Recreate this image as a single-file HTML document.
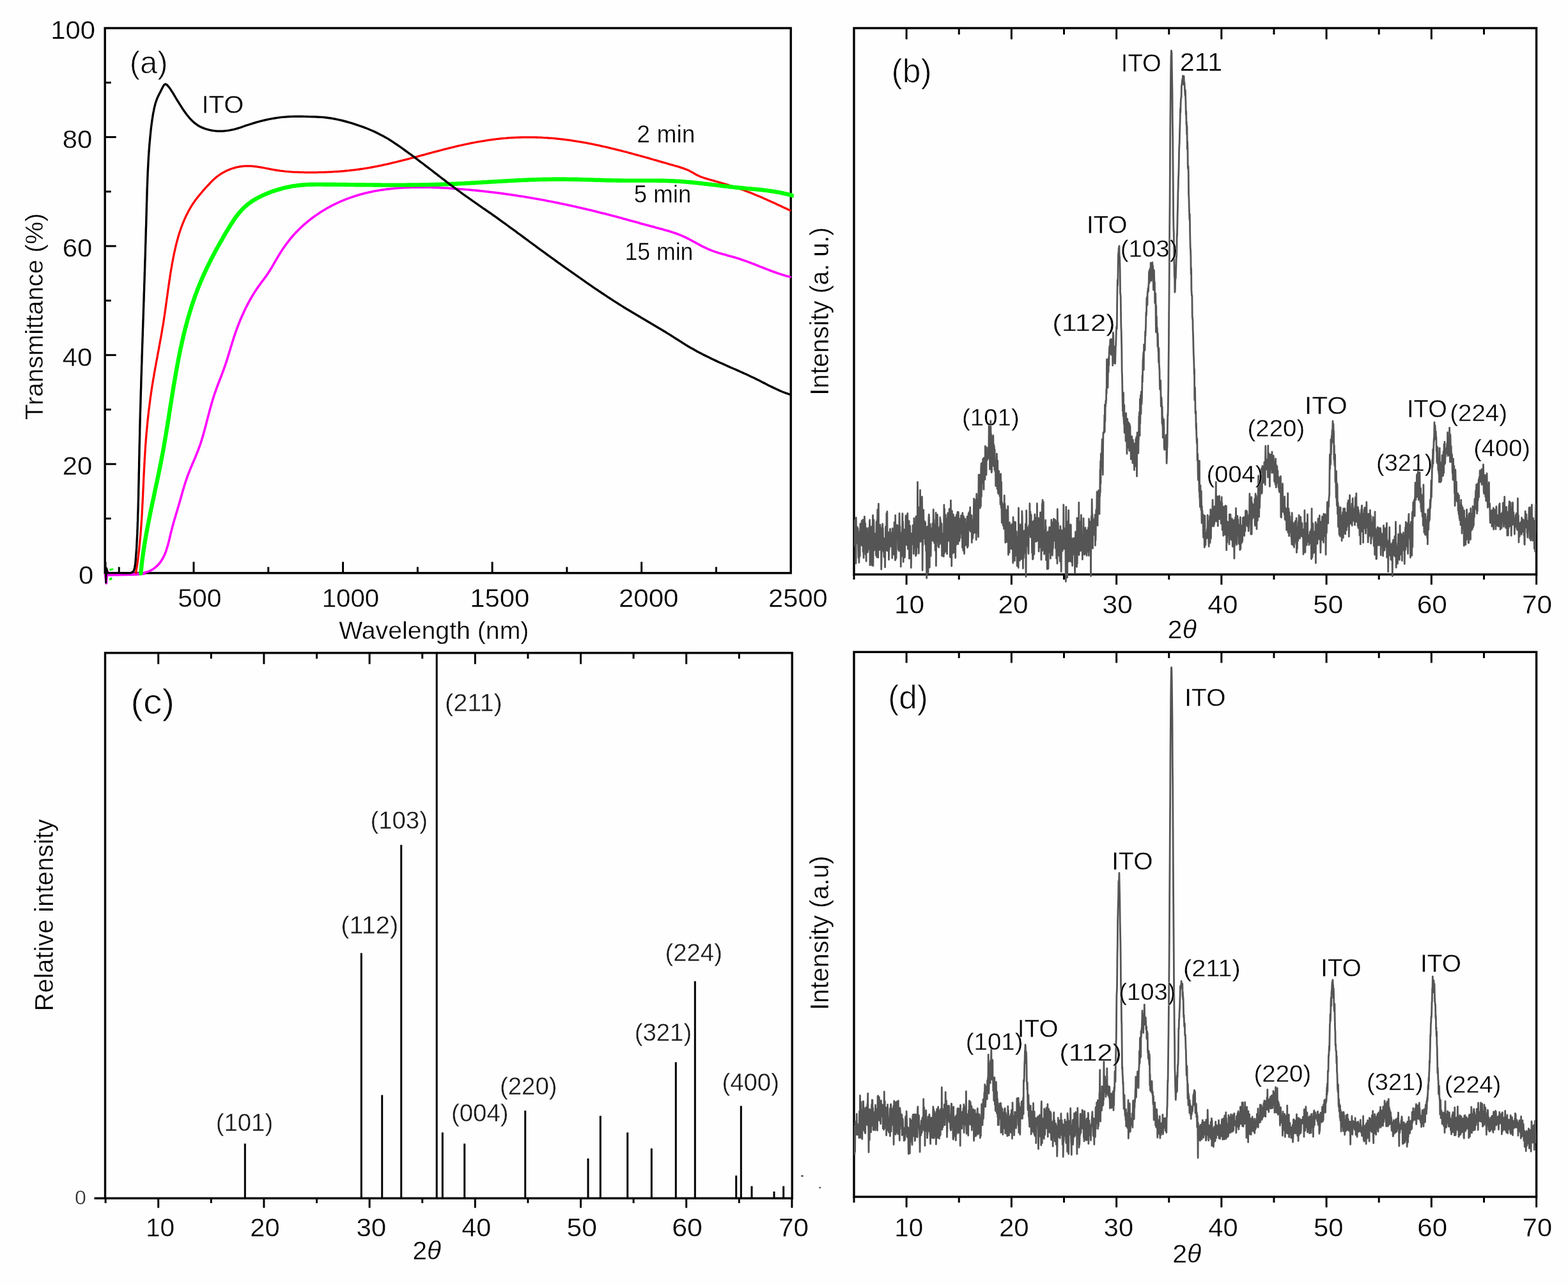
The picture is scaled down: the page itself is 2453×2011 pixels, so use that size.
<!DOCTYPE html>
<html lang="en"><head><meta charset="utf-8"><title>Figure</title>
<style>
html,body{margin:0;padding:0;background:#fefefe;}
body{width:2453px;height:2011px;}
svg{display:block;}
text{white-space:pre;}
</style></head>
<body>
<svg width="2453" height="2011" viewBox="0 0 2453 2011" role="img" aria-label="Four-panel figure: transmittance spectra and XRD patterns">
<rect x="0" y="0" width="2453" height="2011" fill="#fefefe"/>
<defs>
<clipPath id="clipA"><rect x="162.2" y="44.0" width="1079.5" height="870.8"/></clipPath>
<clipPath id="clipB"><rect x="1336.0" y="44.0" width="1067.6" height="895.0"/></clipPath>
<clipPath id="clipD"><rect x="1336.0" y="1020.4" width="1067.6" height="852.6"/></clipPath>
</defs>
<rect x="164.20" y="44.00" width="1073.00" height="852.80" fill="none" stroke="#000" stroke-width="3.4"/>
<line x1="164.20" y1="811.52" x2="173.70" y2="811.52" stroke="#000" stroke-width="3.0" stroke-linecap="butt"/>
<line x1="164.20" y1="726.24" x2="181.70" y2="726.24" stroke="#000" stroke-width="3.0" stroke-linecap="butt"/>
<line x1="164.20" y1="640.96" x2="173.70" y2="640.96" stroke="#000" stroke-width="3.0" stroke-linecap="butt"/>
<line x1="164.20" y1="555.68" x2="181.70" y2="555.68" stroke="#000" stroke-width="3.0" stroke-linecap="butt"/>
<line x1="164.20" y1="470.40" x2="173.70" y2="470.40" stroke="#000" stroke-width="3.0" stroke-linecap="butt"/>
<line x1="164.20" y1="385.12" x2="181.70" y2="385.12" stroke="#000" stroke-width="3.0" stroke-linecap="butt"/>
<line x1="164.20" y1="299.84" x2="173.70" y2="299.84" stroke="#000" stroke-width="3.0" stroke-linecap="butt"/>
<line x1="164.20" y1="214.56" x2="181.70" y2="214.56" stroke="#000" stroke-width="3.0" stroke-linecap="butt"/>
<line x1="164.20" y1="129.28" x2="173.70" y2="129.28" stroke="#000" stroke-width="3.0" stroke-linecap="butt"/>
<line x1="186.22" y1="896.80" x2="186.22" y2="887.30" stroke="#000" stroke-width="3.0" stroke-linecap="butt"/>
<line x1="303.00" y1="896.80" x2="303.00" y2="879.30" stroke="#000" stroke-width="3.0" stroke-linecap="butt"/>
<line x1="419.77" y1="896.80" x2="419.77" y2="887.30" stroke="#000" stroke-width="3.0" stroke-linecap="butt"/>
<line x1="536.55" y1="896.80" x2="536.55" y2="879.30" stroke="#000" stroke-width="3.0" stroke-linecap="butt"/>
<line x1="653.33" y1="896.80" x2="653.33" y2="887.30" stroke="#000" stroke-width="3.0" stroke-linecap="butt"/>
<line x1="770.10" y1="896.80" x2="770.10" y2="879.30" stroke="#000" stroke-width="3.0" stroke-linecap="butt"/>
<line x1="886.88" y1="896.80" x2="886.88" y2="887.30" stroke="#000" stroke-width="3.0" stroke-linecap="butt"/>
<line x1="1003.65" y1="896.80" x2="1003.65" y2="879.30" stroke="#000" stroke-width="3.0" stroke-linecap="butt"/>
<line x1="1120.43" y1="896.80" x2="1120.43" y2="887.30" stroke="#000" stroke-width="3.0" stroke-linecap="butt"/>
<g clip-path="url(#clipA)">
<path d="M164.8 897.8 L167.6 897.4 L170.4 897.1 L173.3 896.9 L176.1 896.8 L179.1 896.8 L182.0 896.8 L184.9 897.0 L187.9 897.1 L190.9 897.3 L193.9 897.5 L196.9 897.7 L199.9 897.8 L202.9 898.0 L205.9 898.0 L208.9 898.1 L211.9 898.0 L214.9 897.9 L217.8 897.6 L220.8 897.2 L223.7 896.8 L226.5 896.1 L229.3 895.3 L232.0 894.4 L234.7 893.3 L237.2 892.0 L239.6 890.6 L241.9 888.9 L244.1 887.1 L246.2 885.2 L248.2 883.1 L250.0 880.9 L251.7 878.6 L253.2 876.2 L254.7 873.7 L256.0 871.2 L257.3 868.5 L258.4 865.8 L259.5 863.1 L260.4 860.2 L261.3 857.4 L262.2 854.5 L263.0 851.6 L263.8 848.7 L264.5 845.7 L265.2 842.8 L265.9 839.8 L266.6 836.9 L267.3 833.9 L268.1 831.0 L268.8 828.2 L269.5 825.3 L270.3 822.5 L271.1 819.6 L271.9 816.8 L272.7 814.0 L273.5 811.2 L274.3 808.5 L275.1 805.7 L276.0 802.9 L276.8 800.1 L277.6 797.4 L278.4 794.6 L279.3 791.8 L280.1 789.0 L280.9 786.2 L281.7 783.4 L282.5 780.5 L283.3 777.7 L284.1 774.9 L284.9 772.0 L285.7 769.2 L286.5 766.3 L287.4 763.5 L288.2 760.7 L289.1 757.8 L290.0 755.0 L291.0 752.2 L291.9 749.4 L292.9 746.6 L293.9 743.9 L294.9 741.1 L296.0 738.3 L297.1 735.6 L298.2 732.9 L299.3 730.2 L300.5 727.5 L301.6 724.8 L302.8 722.1 L303.9 719.4 L305.1 716.7 L306.2 714.0 L307.3 711.2 L308.4 708.5 L309.5 705.8 L310.5 703.1 L311.5 700.3 L312.5 697.5 L313.5 694.8 L314.4 692.0 L315.3 689.2 L316.1 686.4 L317.0 683.6 L317.8 680.7 L318.6 677.9 L319.4 675.1 L320.2 672.2 L320.9 669.4 L321.7 666.5 L322.5 663.7 L323.2 660.8 L323.9 658.0 L324.7 655.1 L325.4 652.3 L326.2 649.4 L326.9 646.6 L327.7 643.7 L328.4 640.9 L329.2 638.0 L330.0 635.2 L330.8 632.4 L331.6 629.5 L332.4 626.7 L333.3 623.9 L334.2 621.1 L335.1 618.3 L336.0 615.5 L337.0 612.8 L338.0 610.0 L339.0 607.2 L340.0 604.5 L341.0 601.7 L342.1 599.0 L343.1 596.3 L344.2 593.5 L345.2 590.8 L346.3 588.0 L347.3 585.3 L348.3 582.5 L349.4 579.8 L350.4 577.0 L351.3 574.3 L352.3 571.5 L353.3 568.7 L354.2 565.9 L355.1 563.1 L356.0 560.3 L356.8 557.5 L357.7 554.6 L358.6 551.8 L359.4 549.0 L360.3 546.2 L361.1 543.3 L362.0 540.5 L362.8 537.7 L363.7 534.9 L364.6 532.0 L365.5 529.2 L366.4 526.4 L367.4 523.6 L368.3 520.9 L369.3 518.1 L370.3 515.3 L371.3 512.5 L372.4 509.8 L373.4 507.1 L374.5 504.3 L375.6 501.6 L376.7 498.9 L377.9 496.2 L379.1 493.5 L380.3 490.9 L381.5 488.2 L382.8 485.5 L384.0 482.9 L385.3 480.3 L386.7 477.7 L388.0 475.1 L389.4 472.5 L390.8 470.0 L392.2 467.4 L393.7 464.9 L395.2 462.4 L396.7 459.9 L398.3 457.4 L399.8 455.0 L401.4 452.5 L403.1 450.1 L404.8 447.7 L406.5 445.4 L408.2 443.0 L409.9 440.6 L411.7 438.3 L413.5 435.9 L415.2 433.6 L416.9 431.2 L418.6 428.8 L420.3 426.3 L421.9 423.8 L423.4 421.3 L425.0 418.8 L426.5 416.2 L427.9 413.6 L429.4 411.1 L430.9 408.5 L432.4 405.9 L433.9 403.4 L435.4 400.8 L436.9 398.3 L438.5 395.8 L440.0 393.4 L441.6 390.9 L443.3 388.5 L444.9 386.1 L446.6 383.7 L448.3 381.4 L450.1 379.1 L451.8 376.8 L453.7 374.5 L455.5 372.2 L457.4 370.0 L459.3 367.8 L461.3 365.6 L463.3 363.5 L465.3 361.4 L467.4 359.3 L469.5 357.2 L471.7 355.2 L473.9 353.2 L476.1 351.2 L478.3 349.3 L480.6 347.4 L482.9 345.5 L485.2 343.6 L487.6 341.8 L490.0 340.0 L492.4 338.3 L494.8 336.6 L497.3 334.9 L499.8 333.2 L502.3 331.6 L504.8 330.0 L507.4 328.5 L509.9 326.9 L512.5 325.5 L515.1 324.0 L517.7 322.6 L520.3 321.2 L523.0 319.9 L525.7 318.6 L528.3 317.4 L531.0 316.1 L533.7 314.9 L536.4 313.8 L539.1 312.7 L541.8 311.6 L544.6 310.6 L547.3 309.6 L550.1 308.6 L552.8 307.7 L555.6 306.8 L558.4 305.9 L561.2 305.1 L564.0 304.3 L566.8 303.5 L569.6 302.8 L572.4 302.1 L575.2 301.4 L578.1 300.8 L580.9 300.2 L583.8 299.6 L586.6 299.0 L589.5 298.5 L592.4 298.0 L595.2 297.5 L598.1 297.1 L601.0 296.7 L603.9 296.3 L606.8 295.9 L609.7 295.6 L612.6 295.3 L615.5 295.0 L618.4 294.7 L621.4 294.4 L624.3 294.2 L627.2 294.0 L630.2 293.8 L633.1 293.7 L636.0 293.5 L639.0 293.4 L641.9 293.3 L644.9 293.2 L647.8 293.1 L650.8 293.1 L653.7 293.1 L656.7 293.1 L659.7 293.1 L662.6 293.1 L665.6 293.1 L668.5 293.2 L671.5 293.2 L674.5 293.3 L677.4 293.4 L680.4 293.5 L683.4 293.6 L686.3 293.7 L689.3 293.9 L692.3 294.0 L695.2 294.2 L698.2 294.3 L701.1 294.5 L704.1 294.7 L707.1 294.9 L710.0 295.1 L713.0 295.3 L715.9 295.5 L718.9 295.8 L721.8 296.0 L724.7 296.2 L727.7 296.5 L730.6 296.7 L733.6 297.0 L736.5 297.3 L739.4 297.6 L742.4 297.8 L745.3 298.1 L748.2 298.4 L751.1 298.7 L754.1 299.0 L757.0 299.4 L759.9 299.7 L762.8 300.0 L765.7 300.4 L768.6 300.7 L771.6 301.0 L774.5 301.4 L777.4 301.8 L780.3 302.1 L783.2 302.5 L786.1 302.9 L789.0 303.3 L791.9 303.7 L794.8 304.1 L797.7 304.5 L800.6 304.9 L803.5 305.4 L806.4 305.8 L809.3 306.2 L812.2 306.7 L815.1 307.1 L818.0 307.6 L820.9 308.1 L823.7 308.5 L826.6 309.0 L829.5 309.5 L832.4 310.0 L835.3 310.5 L838.2 311.0 L841.1 311.5 L843.9 312.0 L846.8 312.6 L849.7 313.1 L852.6 313.6 L855.5 314.2 L858.4 314.7 L861.2 315.3 L864.1 315.8 L867.0 316.4 L869.9 317.0 L872.8 317.6 L875.6 318.2 L878.5 318.8 L881.4 319.4 L884.3 320.0 L887.1 320.6 L890.0 321.2 L892.9 321.8 L895.8 322.5 L898.7 323.1 L901.5 323.8 L904.4 324.4 L907.3 325.1 L910.2 325.7 L913.0 326.4 L915.9 327.1 L918.8 327.8 L921.7 328.4 L924.5 329.1 L927.4 329.8 L930.3 330.5 L933.1 331.2 L936.0 331.9 L938.9 332.7 L941.7 333.4 L944.6 334.1 L947.5 334.8 L950.3 335.6 L953.2 336.3 L956.0 337.0 L958.9 337.8 L961.7 338.5 L964.6 339.3 L967.4 340.1 L970.3 340.8 L973.1 341.6 L975.9 342.4 L978.8 343.1 L981.6 343.9 L984.4 344.7 L987.3 345.5 L990.1 346.2 L992.9 347.0 L995.7 347.8 L998.6 348.6 L1001.4 349.4 L1004.2 350.2 L1007.0 351.0 L1009.8 351.7 L1012.7 352.5 L1015.5 353.3 L1018.3 354.1 L1021.2 354.8 L1024.0 355.6 L1026.9 356.4 L1029.7 357.1 L1032.6 357.9 L1035.4 358.6 L1038.3 359.4 L1041.1 360.2 L1043.9 361.0 L1046.8 361.8 L1049.6 362.7 L1052.4 363.6 L1055.2 364.5 L1058.0 365.5 L1060.7 366.5 L1063.4 367.6 L1066.1 368.7 L1068.8 369.9 L1071.5 371.1 L1074.1 372.4 L1076.7 373.7 L1079.3 375.0 L1081.9 376.4 L1084.5 377.8 L1087.1 379.2 L1089.7 380.6 L1092.3 382.0 L1094.8 383.4 L1097.4 384.8 L1100.1 386.1 L1102.7 387.4 L1105.3 388.7 L1108.0 389.9 L1110.7 391.0 L1113.4 392.1 L1116.2 393.1 L1118.9 394.1 L1121.7 395.0 L1124.5 395.9 L1127.4 396.7 L1130.2 397.5 L1133.0 398.3 L1135.9 399.1 L1138.7 399.9 L1141.6 400.7 L1144.5 401.4 L1147.3 402.3 L1150.1 403.1 L1153.0 403.9 L1155.8 404.8 L1158.6 405.7 L1161.4 406.7 L1164.1 407.6 L1166.9 408.6 L1169.7 409.6 L1172.4 410.7 L1175.2 411.7 L1177.9 412.8 L1180.6 413.8 L1183.4 414.9 L1186.1 416.0 L1188.8 417.1 L1191.5 418.1 L1194.3 419.2 L1197.0 420.3 L1199.7 421.4 L1202.5 422.4 L1205.2 423.5 L1208.0 424.5 L1210.7 425.5 L1213.5 426.5 L1216.3 427.5 L1219.1 428.4 L1221.9 429.3 L1224.7 430.2 L1227.5 431.1 L1230.3 431.9 L1233.2 432.6 L1236.1 433.4" fill="none" stroke="#ff00ff" stroke-width="3.6" stroke-linejoin="round" stroke-linecap="round"/>
<path d="M164.6 899.5 L166.3 913.0 L167.8 893.0 L170.0 900.0 L185.0 899.6 L212.0 899.2 L226.0 898.0" fill="none" stroke="#ff00ff" stroke-width="3.6" stroke-linejoin="round" stroke-linecap="round"/>
<path d="M212.5 896.9 L213.0 893.8 L213.5 890.7 L214.0 887.6 L214.5 884.5 L214.9 881.3 L215.4 878.2 L215.8 875.1 L216.2 872.0 L216.6 868.9 L216.9 865.7 L217.3 862.6 L217.7 859.5 L218.0 856.4 L218.3 853.2 L218.6 850.1 L218.9 847.0 L219.2 843.9 L219.5 840.7 L219.8 837.6 L220.0 834.5 L220.3 831.3 L220.5 828.2 L220.7 825.0 L221.0 821.9 L221.2 818.8 L221.4 815.6 L221.6 812.5 L221.8 809.4 L222.0 806.2 L222.2 803.1 L222.3 799.9 L222.5 796.8 L222.7 793.6 L222.8 790.5 L223.0 787.4 L223.2 784.2 L223.3 781.1 L223.5 777.9 L223.6 774.8 L223.7 771.6 L223.9 768.5 L224.0 765.3 L224.2 762.2 L224.3 759.0 L224.5 755.9 L224.6 752.8 L224.7 749.6 L224.9 746.5 L225.0 743.3 L225.2 740.2 L225.3 737.0 L225.5 733.9 L225.7 730.7 L225.8 727.6 L226.0 724.4 L226.2 721.3 L226.3 718.2 L226.5 715.0 L226.7 711.9 L226.9 708.7 L227.1 705.6 L227.3 702.5 L227.5 699.3 L227.7 696.2 L228.0 693.0 L228.2 689.9 L228.4 686.8 L228.7 683.6 L228.9 680.5 L229.2 677.4 L229.5 674.2 L229.8 671.1 L230.1 668.0 L230.4 664.9 L230.7 661.7 L231.0 658.6 L231.3 655.5 L231.7 652.3 L232.0 649.2 L232.4 646.1 L232.7 643.0 L233.1 639.9 L233.5 636.7 L233.9 633.6 L234.3 630.5 L234.7 627.4 L235.1 624.3 L235.5 621.1 L236.0 618.0 L236.4 614.9 L236.9 611.8 L237.3 608.7 L237.8 605.6 L238.3 602.5 L238.8 599.4 L239.3 596.3 L239.8 593.2 L240.4 590.1 L240.9 587.0 L241.4 583.9 L242.0 580.8 L242.5 577.7 L243.1 574.6 L243.7 571.5 L244.2 568.4 L244.8 565.3 L245.4 562.2 L246.0 559.1 L246.5 556.0 L247.1 552.9 L247.7 549.8 L248.3 546.7 L248.8 543.6 L249.4 540.5 L250.0 537.4 L250.5 534.3 L251.1 531.2 L251.7 528.1 L252.2 525.0 L252.8 521.9 L253.3 518.8 L253.8 515.7 L254.3 512.6 L254.9 509.5 L255.4 506.4 L255.9 503.3 L256.3 500.2 L256.8 497.1 L257.3 494.0 L257.7 490.9 L258.2 487.8 L258.6 484.7 L259.1 481.6 L259.5 478.4 L259.9 475.3 L260.4 472.2 L260.8 469.1 L261.2 466.0 L261.7 462.9 L262.1 459.8 L262.5 456.7 L262.9 453.6 L263.4 450.4 L263.8 447.3 L264.3 444.2 L264.7 441.1 L265.2 438.0 L265.7 434.9 L266.1 431.8 L266.6 428.7 L267.1 425.5 L267.6 422.4 L268.2 419.3 L268.7 416.2 L269.2 413.1 L269.8 410.0 L270.4 406.9 L271.0 403.8 L271.6 400.7 L272.2 397.6 L272.9 394.5 L273.6 391.4 L274.3 388.3 L275.0 385.2 L275.7 382.1 L276.5 379.1 L277.3 376.0 L278.2 373.0 L279.0 370.0 L279.9 366.9 L280.9 363.9 L281.9 361.0 L282.9 358.0 L283.9 355.0 L285.0 352.1 L286.2 349.2 L287.4 346.3 L288.6 343.4 L289.9 340.6 L291.2 337.7 L292.6 334.9 L294.0 332.2 L295.5 329.4 L297.0 326.7 L298.6 324.0 L300.2 321.3 L301.9 318.7 L303.7 316.1 L305.5 313.5 L307.4 311.0 L309.4 308.5 L311.4 306.0 L313.4 303.6 L315.4 301.2 L317.5 298.7 L319.6 296.4 L321.7 294.0 L323.9 291.6 L326.0 289.3 L328.2 287.0 L330.4 284.7 L332.6 282.5 L334.9 280.4 L337.3 278.3 L339.7 276.3 L342.2 274.5 L344.8 272.7 L347.5 271.0 L350.2 269.4 L353.0 268.0 L355.9 266.6 L358.8 265.4 L361.7 264.3 L364.7 263.3 L367.7 262.4 L370.8 261.6 L373.8 261.0 L376.9 260.5 L380.0 260.1 L383.1 259.9 L386.3 259.8 L389.4 259.8 L392.5 259.9 L395.6 260.1 L398.7 260.5 L401.8 260.9 L404.9 261.3 L408.0 261.8 L411.1 262.4 L414.2 263.0 L417.4 263.6 L420.5 264.2 L423.6 264.8 L426.7 265.4 L429.8 266.0 L432.9 266.5 L436.1 266.9 L439.2 267.4 L442.3 267.7 L445.4 268.1 L448.6 268.4 L451.7 268.6 L454.8 268.9 L458.0 269.1 L461.1 269.3 L464.2 269.4 L467.4 269.5 L470.5 269.6 L473.7 269.7 L476.8 269.8 L480.0 269.8 L483.1 269.8 L486.2 269.8 L489.4 269.8 L492.5 269.8 L495.7 269.8 L498.8 269.7 L502.0 269.7 L505.1 269.6 L508.3 269.5 L511.4 269.4 L514.6 269.2 L517.7 269.1 L520.9 268.9 L524.0 268.7 L527.1 268.5 L530.3 268.3 L533.4 268.0 L536.6 267.8 L539.7 267.5 L542.8 267.2 L546.0 266.9 L549.1 266.5 L552.2 266.2 L555.3 265.8 L558.5 265.4 L561.6 265.0 L564.7 264.5 L567.8 264.1 L570.9 263.6 L574.0 263.1 L577.1 262.6 L580.2 262.0 L583.3 261.5 L586.4 260.9 L589.5 260.3 L592.6 259.7 L595.6 259.1 L598.7 258.4 L601.8 257.7 L604.8 257.1 L607.9 256.4 L611.0 255.7 L614.0 254.9 L617.1 254.2 L620.2 253.5 L623.2 252.7 L626.3 251.9 L629.3 251.2 L632.4 250.4 L635.4 249.6 L638.5 248.8 L641.5 248.0 L644.6 247.2 L647.6 246.4 L650.6 245.6 L653.7 244.8 L656.7 243.9 L659.8 243.1 L662.8 242.3 L665.9 241.5 L668.9 240.7 L671.9 239.8 L675.0 239.0 L678.0 238.2 L681.1 237.4 L684.1 236.6 L687.2 235.8 L690.2 235.0 L693.3 234.2 L696.3 233.4 L699.4 232.7 L702.4 231.9 L705.5 231.1 L708.5 230.4 L711.6 229.7 L714.6 228.9 L717.7 228.2 L720.8 227.5 L723.8 226.8 L726.9 226.2 L730.0 225.5 L733.1 224.8 L736.1 224.2 L739.2 223.6 L742.3 223.0 L745.4 222.4 L748.5 221.9 L751.6 221.3 L754.7 220.8 L757.8 220.3 L760.9 219.8 L764.0 219.3 L767.1 218.9 L770.2 218.5 L773.3 218.1 L776.4 217.7 L779.6 217.3 L782.7 217.0 L785.8 216.7 L788.9 216.4 L792.1 216.2 L795.2 215.9 L798.4 215.7 L801.5 215.5 L804.7 215.4 L807.8 215.2 L811.0 215.1 L814.1 215.0 L817.3 214.9 L820.4 214.9 L823.6 214.8 L826.7 214.8 L829.9 214.8 L833.0 214.9 L836.2 214.9 L839.3 215.0 L842.5 215.1 L845.6 215.2 L848.8 215.4 L851.9 215.6 L855.1 215.7 L858.2 216.0 L861.4 216.2 L864.5 216.4 L867.6 216.7 L870.8 217.0 L873.9 217.3 L877.0 217.7 L880.1 218.0 L883.3 218.4 L886.4 218.8 L889.5 219.2 L892.6 219.6 L895.7 220.1 L898.8 220.6 L901.9 221.1 L905.0 221.6 L908.1 222.1 L911.2 222.6 L914.3 223.2 L917.4 223.7 L920.5 224.3 L923.6 224.9 L926.7 225.5 L929.7 226.2 L932.8 226.8 L935.9 227.4 L939.0 228.1 L942.0 228.8 L945.1 229.5 L948.2 230.2 L951.2 230.9 L954.3 231.6 L957.4 232.4 L960.4 233.1 L963.5 233.8 L966.5 234.6 L969.6 235.4 L972.6 236.2 L975.7 237.0 L978.7 237.7 L981.8 238.5 L984.8 239.4 L987.9 240.2 L990.9 241.0 L993.9 241.8 L997.0 242.7 L1000.0 243.5 L1003.1 244.3 L1006.1 245.2 L1009.1 246.0 L1012.2 246.9 L1015.2 247.7 L1018.2 248.6 L1021.2 249.5 L1024.3 250.3 L1027.3 251.2 L1030.3 252.1 L1033.3 252.9 L1036.4 253.8 L1039.4 254.7 L1042.4 255.5 L1045.4 256.4 L1048.4 257.3 L1051.5 258.1 L1054.5 259.0 L1057.5 259.8 L1060.5 260.7 L1063.5 261.6 L1066.5 262.6 L1069.5 263.6 L1072.4 264.7 L1075.3 265.8 L1078.1 267.1 L1080.9 268.6 L1083.7 270.1 L1086.5 271.7 L1089.2 273.3 L1092.0 274.8 L1094.9 276.1 L1097.8 277.2 L1100.8 278.2 L1103.7 279.2 L1106.7 280.1 L1109.8 281.0 L1112.8 281.8 L1115.8 282.7 L1118.8 283.6 L1121.9 284.4 L1124.9 285.3 L1127.9 286.2 L1130.9 287.0 L1134.0 287.9 L1137.0 288.8 L1140.0 289.7 L1143.0 290.7 L1146.0 291.6 L1149.0 292.6 L1152.0 293.6 L1155.0 294.6 L1158.0 295.6 L1160.9 296.7 L1163.9 297.8 L1166.8 298.9 L1169.7 300.0 L1172.7 301.1 L1175.6 302.3 L1178.5 303.5 L1181.4 304.7 L1184.3 305.9 L1187.2 307.1 L1190.1 308.3 L1193.0 309.6 L1195.9 310.9 L1198.7 312.1 L1201.6 313.4 L1204.5 314.7 L1207.3 316.0 L1210.2 317.3 L1213.1 318.6 L1215.9 320.0 L1218.8 321.3 L1221.6 322.6 L1224.5 324.0 L1227.3 325.3 L1230.2 326.6 L1233.0 328.0 L1235.9 329.3" fill="none" stroke="#ff0000" stroke-width="3.3" stroke-linejoin="round" stroke-linecap="round"/>
<path d="M220.3 897.2 L220.6 894.2 L220.9 891.3 L221.2 888.3 L221.5 885.4 L221.8 882.5 L222.2 879.5 L222.5 876.6 L222.9 873.7 L223.3 870.7 L223.7 867.8 L224.1 864.9 L224.5 862.0 L225.0 859.1 L225.4 856.2 L225.9 853.2 L226.3 850.3 L226.8 847.4 L227.3 844.5 L227.8 841.6 L228.3 838.7 L228.8 835.8 L229.3 832.9 L229.9 830.0 L230.4 827.1 L231.0 824.2 L231.5 821.3 L232.1 818.5 L232.6 815.6 L233.2 812.7 L233.8 809.8 L234.4 806.9 L234.9 804.0 L235.5 801.1 L236.1 798.2 L236.7 795.4 L237.3 792.5 L237.9 789.6 L238.5 786.7 L239.1 783.8 L239.8 780.9 L240.4 778.1 L241.0 775.2 L241.6 772.3 L242.2 769.4 L242.8 766.5 L243.4 763.7 L244.0 760.8 L244.6 757.9 L245.3 755.0 L245.9 752.1 L246.5 749.3 L247.1 746.4 L247.7 743.5 L248.3 740.6 L248.9 737.7 L249.5 734.8 L250.0 731.9 L250.6 729.1 L251.2 726.2 L251.8 723.3 L252.3 720.4 L252.9 717.5 L253.4 714.6 L254.0 711.7 L254.5 708.8 L255.1 705.9 L255.6 703.0 L256.1 700.1 L256.6 697.2 L257.1 694.3 L257.6 691.4 L258.1 688.5 L258.6 685.6 L259.1 682.7 L259.6 679.8 L260.1 676.9 L260.5 673.9 L261.0 671.0 L261.5 668.1 L262.0 665.2 L262.4 662.3 L262.9 659.4 L263.4 656.5 L263.8 653.6 L264.3 650.6 L264.7 647.7 L265.2 644.8 L265.7 641.9 L266.1 639.0 L266.6 636.1 L267.0 633.2 L267.5 630.2 L268.0 627.3 L268.4 624.4 L268.9 621.5 L269.4 618.6 L269.8 615.7 L270.3 612.8 L270.8 609.9 L271.2 606.9 L271.7 604.0 L272.2 601.1 L272.7 598.2 L273.2 595.3 L273.7 592.4 L274.2 589.5 L274.7 586.6 L275.2 583.7 L275.7 580.8 L276.2 577.9 L276.8 575.0 L277.3 572.1 L277.8 569.2 L278.4 566.3 L278.9 563.4 L279.5 560.5 L280.1 557.6 L280.6 554.8 L281.2 551.9 L281.8 549.0 L282.4 546.1 L283.0 543.2 L283.7 540.4 L284.3 537.5 L284.9 534.6 L285.6 531.7 L286.3 528.9 L286.9 526.0 L287.6 523.1 L288.3 520.3 L289.0 517.4 L289.7 514.6 L290.5 511.7 L291.2 508.9 L292.0 506.0 L292.8 503.2 L293.5 500.4 L294.3 497.5 L295.1 494.7 L296.0 491.9 L296.8 489.1 L297.7 486.2 L298.5 483.4 L299.4 480.6 L300.3 477.8 L301.2 475.0 L302.2 472.2 L303.1 469.5 L304.1 466.7 L305.0 463.9 L306.0 461.1 L307.1 458.4 L308.1 455.6 L309.1 452.9 L310.2 450.1 L311.3 447.4 L312.4 444.7 L313.5 442.0 L314.7 439.2 L315.8 436.5 L317.0 433.8 L318.2 431.1 L319.4 428.4 L320.6 425.8 L321.9 423.1 L323.1 420.4 L324.4 417.8 L325.7 415.1 L327.0 412.5 L328.3 409.8 L329.6 407.2 L331.0 404.5 L332.4 401.9 L333.7 399.3 L335.1 396.7 L336.5 394.1 L337.9 391.4 L339.3 388.8 L340.8 386.3 L342.2 383.7 L343.6 381.1 L345.1 378.5 L346.6 375.9 L348.1 373.3 L349.5 370.8 L351.0 368.2 L352.5 365.6 L354.0 363.1 L355.6 360.5 L357.1 358.0 L358.6 355.5 L360.2 352.9 L361.7 350.4 L363.3 348.0 L365.0 345.5 L366.6 343.1 L368.3 340.7 L370.0 338.3 L371.8 336.0 L373.6 333.8 L375.5 331.6 L377.4 329.4 L379.4 327.3 L381.4 325.3 L383.5 323.3 L385.7 321.4 L387.9 319.6 L390.2 317.8 L392.6 316.1 L395.0 314.5 L397.4 312.9 L400.0 311.4 L402.5 310.0 L405.1 308.6 L407.8 307.3 L410.4 306.0 L413.1 304.8 L415.9 303.6 L418.6 302.5 L421.4 301.4 L424.2 300.3 L427.0 299.3 L429.9 298.4 L432.7 297.5 L435.6 296.6 L438.4 295.8 L441.3 295.0 L444.2 294.2 L447.1 293.5 L450.0 292.9 L452.9 292.3 L455.8 291.7 L458.7 291.2 L461.6 290.8 L464.6 290.4 L467.5 290.0 L470.4 289.7 L473.4 289.5 L476.3 289.3 L479.2 289.1 L482.1 288.9 L485.1 288.8 L488.0 288.7 L491.0 288.7 L493.9 288.6 L496.8 288.6 L499.8 288.6 L502.7 288.6 L505.6 288.7 L508.6 288.7 L511.5 288.7 L514.5 288.7 L517.4 288.8 L520.4 288.8 L523.3 288.8 L526.2 288.9 L529.2 288.9 L532.1 288.9 L535.1 288.9 L538.0 289.0 L541.0 289.0 L543.9 289.0 L546.8 289.1 L549.8 289.1 L552.7 289.1 L555.7 289.2 L558.6 289.2 L561.6 289.2 L564.5 289.3 L567.5 289.3 L570.4 289.3 L573.3 289.4 L576.3 289.4 L579.2 289.4 L582.2 289.4 L585.1 289.5 L588.1 289.5 L591.0 289.5 L594.0 289.5 L596.9 289.6 L599.9 289.6 L602.8 289.6 L605.8 289.6 L608.7 289.6 L611.7 289.6 L614.6 289.6 L617.5 289.6 L620.5 289.6 L623.4 289.6 L626.4 289.6 L629.3 289.6 L632.3 289.6 L635.2 289.6 L638.2 289.5 L641.1 289.5 L644.1 289.5 L647.0 289.5 L650.0 289.4 L652.9 289.4 L655.9 289.4 L658.8 289.3 L661.8 289.3 L664.7 289.2 L667.6 289.1 L670.6 289.1 L673.5 289.0 L676.5 288.9 L679.4 288.9 L682.4 288.8 L685.3 288.7 L688.3 288.6 L691.2 288.5 L694.2 288.4 L697.1 288.3 L700.1 288.2 L703.0 288.1 L705.9 287.9 L708.9 287.8 L711.8 287.7 L714.8 287.5 L717.7 287.4 L720.7 287.3 L723.6 287.1 L726.6 287.0 L729.5 286.8 L732.4 286.6 L735.4 286.5 L738.3 286.3 L741.3 286.2 L744.2 286.0 L747.2 285.8 L750.1 285.6 L753.0 285.5 L756.0 285.3 L758.9 285.1 L761.9 285.0 L764.8 284.8 L767.8 284.6 L770.7 284.4 L773.6 284.3 L776.6 284.1 L779.5 283.9 L782.5 283.8 L785.4 283.6 L788.3 283.4 L791.3 283.3 L794.2 283.1 L797.2 282.9 L800.1 282.8 L803.1 282.6 L806.0 282.5 L808.9 282.3 L811.9 282.2 L814.8 282.1 L817.8 281.9 L820.7 281.8 L823.7 281.7 L826.6 281.5 L829.5 281.4 L832.5 281.3 L835.4 281.2 L838.4 281.1 L841.3 281.0 L844.3 280.9 L847.2 280.9 L850.1 280.8 L853.1 280.7 L856.0 280.7 L859.0 280.6 L861.9 280.6 L864.9 280.5 L867.8 280.5 L870.8 280.5 L873.7 280.5 L876.7 280.5 L879.6 280.5 L882.5 280.5 L885.5 280.5 L888.4 280.6 L891.4 280.6 L894.3 280.7 L897.3 280.7 L900.2 280.8 L903.2 280.8 L906.1 280.9 L909.1 281.0 L912.0 281.1 L915.0 281.1 L917.9 281.2 L920.9 281.3 L923.8 281.4 L926.8 281.5 L929.7 281.6 L932.7 281.7 L935.6 281.8 L938.6 281.8 L941.5 281.9 L944.5 282.0 L947.4 282.1 L950.4 282.2 L953.3 282.2 L956.3 282.3 L959.2 282.4 L962.2 282.4 L965.1 282.5 L968.1 282.5 L971.0 282.5 L974.0 282.6 L976.9 282.6 L979.9 282.6 L982.8 282.6 L985.8 282.6 L988.7 282.6 L991.7 282.6 L994.6 282.6 L997.6 282.6 L1000.5 282.6 L1003.5 282.6 L1006.4 282.6 L1009.3 282.6 L1012.3 282.6 L1015.2 282.6 L1018.2 282.6 L1021.1 282.6 L1024.1 282.6 L1027.0 282.6 L1030.0 282.7 L1032.9 282.7 L1035.8 282.7 L1038.8 282.8 L1041.7 282.9 L1044.7 283.0 L1047.6 283.1 L1050.5 283.2 L1053.5 283.3 L1056.4 283.5 L1059.4 283.6 L1062.3 283.8 L1065.2 284.0 L1068.1 284.2 L1071.1 284.4 L1074.0 284.7 L1076.9 284.9 L1079.9 285.2 L1082.8 285.5 L1085.7 285.8 L1088.6 286.1 L1091.6 286.4 L1094.5 286.7 L1097.4 287.0 L1100.3 287.4 L1103.3 287.7 L1106.2 288.0 L1109.1 288.4 L1112.0 288.7 L1115.0 289.1 L1117.9 289.4 L1120.8 289.8 L1123.7 290.1 L1126.7 290.5 L1129.6 290.9 L1132.5 291.2 L1135.5 291.5 L1138.4 291.9 L1141.3 292.2 L1144.2 292.5 L1147.2 292.9 L1150.1 293.2 L1153.0 293.5 L1156.0 293.8 L1158.9 294.0 L1161.8 294.3 L1164.8 294.6 L1167.7 294.9 L1170.6 295.1 L1173.6 295.4 L1176.5 295.7 L1179.5 295.9 L1182.4 296.2 L1185.3 296.5 L1188.2 296.8 L1191.2 297.1 L1194.1 297.5 L1197.0 297.8 L1199.9 298.2 L1202.9 298.6 L1205.8 299.0 L1208.7 299.4 L1211.6 299.9 L1214.5 300.4 L1217.4 300.9 L1220.3 301.4 L1223.2 302.0 L1226.1 302.6 L1229.0 303.3 L1231.8 303.9 L1234.7 304.7 L1237.6 305.4 L1240.4 306.3" fill="none" stroke="#00ff00" stroke-width="6.4" stroke-linejoin="round" stroke-linecap="round"/>
<path d="M172.5 906.5 L174.0 905.5" fill="none" stroke="#00ff00" stroke-width="3.5" stroke-linejoin="round" stroke-linecap="round"/>
<path d="M172.5 891.5 L176.0 891.0" fill="none" stroke="#00ff00" stroke-width="3.0" stroke-linejoin="round" stroke-linecap="round"/>
<path d="M164.5 896.5 L168.5 896.6 L172.4 896.6 L176.2 896.6 L180.1 896.6 L184.0 896.6 L187.9 896.6 L191.9 896.7 L196.0 896.8 L200.0 896.9 L203.9 896.7 L207.1 895.6 L209.3 893.2 L210.5 889.5 L211.2 885.4 L211.7 881.5 L212.1 877.5 L212.4 873.6 L212.7 869.7 L213.0 865.7 L213.3 861.8 L213.6 857.9 L213.8 854.0 L214.0 850.1 L214.2 846.2 L214.4 842.2 L214.6 838.3 L214.8 834.4 L214.9 830.5 L215.1 826.6 L215.2 822.7 L215.3 818.8 L215.5 814.9 L215.6 811.0 L215.7 807.1 L215.8 803.2 L216.0 799.2 L216.1 795.3 L216.2 791.4 L216.3 787.5 L216.4 783.6 L216.5 779.7 L216.6 775.8 L216.7 771.9 L216.7 768.0 L216.8 764.0 L216.9 760.1 L217.0 756.2 L217.1 752.3 L217.2 748.4 L217.2 744.5 L217.3 740.6 L217.4 736.7 L217.5 732.7 L217.6 728.8 L217.6 724.9 L217.7 721.0 L217.8 717.1 L217.9 713.2 L218.0 709.3 L218.0 705.3 L218.1 701.4 L218.2 697.5 L218.3 693.6 L218.4 689.7 L218.5 685.8 L218.6 681.9 L218.7 677.9 L218.7 674.0 L218.8 670.1 L218.9 666.2 L219.0 662.3 L219.1 658.4 L219.2 654.5 L219.3 650.6 L219.4 646.6 L219.5 642.7 L219.7 638.8 L219.8 634.9 L219.9 631.0 L220.0 627.1 L220.1 623.2 L220.2 619.3 L220.3 615.4 L220.4 611.4 L220.6 607.5 L220.7 603.6 L220.8 599.7 L220.9 595.8 L221.0 591.9 L221.1 588.0 L221.3 584.1 L221.4 580.2 L221.5 576.2 L221.6 572.3 L221.8 568.4 L221.9 564.5 L222.0 560.6 L222.1 556.7 L222.3 552.8 L222.4 548.9 L222.5 545.0 L222.6 541.0 L222.8 537.1 L222.9 533.2 L223.0 529.3 L223.2 525.4 L223.3 521.5 L223.4 517.6 L223.5 513.7 L223.7 509.8 L223.8 505.9 L223.9 501.9 L224.1 498.0 L224.2 494.1 L224.3 490.2 L224.4 486.3 L224.6 482.4 L224.7 478.5 L224.8 474.6 L225.0 470.6 L225.1 466.7 L225.2 462.8 L225.3 458.9 L225.5 455.0 L225.6 451.1 L225.7 447.2 L225.8 443.3 L226.0 439.3 L226.1 435.4 L226.2 431.5 L226.3 427.6 L226.5 423.7 L226.6 419.8 L226.7 415.9 L226.8 412.0 L226.9 408.0 L227.1 404.1 L227.2 400.2 L227.3 396.3 L227.4 392.4 L227.5 388.5 L227.6 384.6 L227.8 380.7 L227.9 376.7 L228.0 372.8 L228.1 368.9 L228.2 365.0 L228.3 361.1 L228.4 357.2 L228.6 353.3 L228.7 349.4 L228.8 345.5 L228.9 341.5 L229.0 337.6 L229.1 333.7 L229.2 329.8 L229.3 325.9 L229.4 322.0 L229.5 318.1 L229.7 314.2 L229.8 310.3 L229.9 306.4 L230.0 302.4 L230.1 298.5 L230.2 294.6 L230.4 290.7 L230.5 286.8 L230.7 282.9 L230.8 279.0 L231.0 275.1 L231.1 271.2 L231.3 267.3 L231.5 263.4 L231.7 259.5 L231.9 255.6 L232.1 251.6 L232.3 247.7 L232.6 243.8 L232.8 239.9 L233.1 236.0 L233.4 232.1 L233.7 228.2 L234.0 224.3 L234.4 220.4 L234.7 216.5 L235.1 212.5 L235.5 208.6 L235.9 204.7 L236.3 200.8 L236.8 196.9 L237.3 193.0 L237.8 189.1 L238.4 185.2 L239.0 181.4 L239.6 177.6 L240.4 173.8 L241.1 170.0 L242.0 166.3 L242.9 162.6 L244.1 158.9 L245.4 155.2 L247.0 151.4 L248.9 147.5 L251.0 143.6 L252.9 139.8 L254.8 136.0 L256.5 133.0 L258.5 131.5 L260.9 132.5 L263.7 135.6 L266.4 139.2 L268.7 142.8 L270.9 146.2 L272.9 149.6 L274.9 153.0 L276.9 156.3 L279.0 159.6 L281.0 162.9 L283.1 166.2 L285.2 169.5 L287.4 172.7 L289.7 176.0 L292.0 179.2 L294.5 182.3 L297.1 185.4 L299.8 188.2 L302.6 190.9 L305.6 193.4 L308.8 195.7 L312.1 197.7 L315.6 199.4 L319.2 200.9 L322.9 202.2 L326.6 203.2 L330.5 204.0 L334.4 204.6 L338.3 205.0 L342.2 205.2 L346.1 205.2 L350.0 205.0 L354.0 204.6 L357.9 204.1 L361.7 203.4 L365.6 202.6 L369.3 201.6 L373.1 200.5 L376.8 199.3 L380.5 198.0 L384.2 196.7 L387.9 195.5 L391.7 194.3 L395.4 193.1 L399.1 192.0 L402.9 190.9 L406.7 189.9 L410.5 188.9 L414.3 188.0 L418.1 187.2 L422.0 186.4 L425.8 185.7 L429.7 185.0 L433.5 184.4 L437.4 183.9 L441.3 183.4 L445.2 183.1 L449.1 182.8 L453.0 182.5 L456.9 182.4 L460.8 182.3 L464.7 182.2 L468.7 182.2 L472.6 182.3 L476.5 182.4 L480.4 182.5 L484.3 182.6 L488.3 182.7 L492.2 182.8 L496.1 183.0 L500.0 183.2 L503.9 183.4 L507.8 183.7 L511.6 184.2 L515.5 184.7 L519.4 185.3 L523.2 186.0 L527.1 186.8 L530.9 187.6 L534.7 188.5 L538.5 189.5 L542.3 190.5 L546.1 191.6 L549.9 192.7 L553.6 193.9 L557.3 195.1 L561.0 196.3 L564.7 197.6 L568.4 198.9 L572.1 200.3 L575.7 201.8 L579.3 203.3 L582.9 204.8 L586.5 206.4 L590.0 208.1 L593.5 209.9 L597.0 211.7 L600.5 213.5 L603.9 215.4 L607.2 217.4 L610.6 219.5 L613.9 221.6 L617.1 223.8 L620.4 226.0 L623.6 228.2 L626.8 230.4 L630.0 232.7 L633.2 235.0 L636.4 237.3 L639.5 239.6 L642.7 241.9 L645.8 244.2 L649.0 246.6 L652.1 248.9 L655.2 251.3 L658.3 253.6 L661.5 256.0 L664.6 258.4 L667.7 260.8 L670.8 263.1 L673.9 265.5 L677.0 267.9 L680.1 270.3 L683.2 272.7 L686.3 275.1 L689.4 277.5 L692.5 279.8 L695.6 282.2 L698.7 284.6 L701.8 287.0 L704.9 289.3 L708.1 291.7 L711.2 294.0 L714.3 296.4 L717.5 298.7 L720.6 301.0 L723.8 303.3 L727.0 305.6 L730.2 307.9 L733.4 310.1 L736.6 312.4 L739.8 314.6 L743.0 316.9 L746.2 319.1 L749.4 321.3 L752.6 323.6 L755.8 325.8 L759.1 328.0 L762.3 330.3 L765.5 332.5 L768.7 334.7 L771.9 337.0 L775.1 339.2 L778.3 341.5 L781.5 343.8 L784.6 346.1 L787.8 348.4 L791.0 350.7 L794.1 353.0 L797.3 355.3 L800.5 357.6 L803.6 359.9 L806.8 362.2 L809.9 364.6 L813.1 366.9 L816.2 369.2 L819.4 371.5 L822.5 373.8 L825.7 376.2 L828.8 378.5 L832.0 380.8 L835.1 383.1 L838.3 385.4 L841.4 387.8 L844.6 390.1 L847.7 392.4 L850.9 394.7 L854.1 397.0 L857.2 399.3 L860.4 401.6 L863.6 403.9 L866.7 406.2 L869.9 408.5 L873.1 410.8 L876.3 413.0 L879.4 415.3 L882.6 417.6 L885.8 419.9 L889.0 422.2 L892.2 424.4 L895.4 426.7 L898.6 428.9 L901.8 431.2 L905.0 433.4 L908.2 435.7 L911.4 437.9 L914.6 440.2 L917.8 442.4 L921.0 444.6 L924.3 446.8 L927.5 449.1 L930.7 451.3 L934.0 453.5 L937.2 455.7 L940.5 457.8 L943.7 460.0 L947.0 462.2 L950.2 464.3 L953.5 466.5 L956.8 468.6 L960.1 470.8 L963.4 472.9 L966.7 475.0 L970.0 477.1 L973.3 479.1 L976.6 481.2 L979.9 483.2 L983.3 485.3 L986.6 487.3 L990.0 489.3 L993.3 491.3 L996.7 493.3 L1000.1 495.3 L1003.4 497.3 L1006.8 499.3 L1010.2 501.3 L1013.5 503.3 L1016.9 505.3 L1020.3 507.3 L1023.7 509.3 L1027.0 511.3 L1030.4 513.3 L1033.8 515.3 L1037.1 517.3 L1040.5 519.3 L1043.8 521.4 L1047.1 523.4 L1050.5 525.5 L1053.8 527.6 L1057.1 529.7 L1060.4 531.8 L1063.7 533.9 L1067.0 536.0 L1070.3 538.1 L1073.7 540.2 L1077.0 542.2 L1080.4 544.2 L1083.8 546.1 L1087.2 548.0 L1090.6 549.9 L1094.0 551.7 L1097.5 553.6 L1101.0 555.4 L1104.5 557.1 L1108.0 558.8 L1111.5 560.6 L1115.0 562.2 L1118.5 563.9 L1122.1 565.6 L1125.6 567.2 L1129.2 568.8 L1132.8 570.4 L1136.3 572.0 L1139.9 573.6 L1143.5 575.2 L1147.1 576.8 L1150.7 578.3 L1154.3 579.9 L1157.8 581.5 L1161.4 583.1 L1165.0 584.7 L1168.6 586.3 L1172.1 588.0 L1175.7 589.7 L1179.2 591.3 L1182.7 593.1 L1186.2 594.8 L1189.7 596.6 L1193.2 598.4 L1196.7 600.1 L1200.2 601.9 L1203.6 603.7 L1207.1 605.4 L1210.7 607.1 L1214.2 608.8 L1217.7 610.4 L1221.3 612.0 L1224.9 613.5 L1228.6 614.9 L1232.3 616.2 L1236.0 617.5" fill="none" stroke="#000000" stroke-width="3.4" stroke-linejoin="round" stroke-linecap="round"/>
<path d="M165.2 880.0 L165.6 912.0 L166.8 889.0 L168.5 896.0" fill="none" stroke="#000000" stroke-width="2.6" stroke-linejoin="round" stroke-linecap="round"/>
</g>
<text transform="translate(79.21 61.00) scale(1.0450 1)" font-family="'Liberation Sans', Arial, Helvetica, sans-serif" font-size="40" fill="#000" stroke="#fefefe" stroke-width="0.35" vector-effect="non-scaling-stroke" stroke-linejoin="round">100</text>
<text transform="translate(97.67 231.60) scale(1.0450 1)" font-family="'Liberation Sans', Arial, Helvetica, sans-serif" font-size="40" fill="#000" stroke="#fefefe" stroke-width="0.35" vector-effect="non-scaling-stroke" stroke-linejoin="round">80</text>
<text transform="translate(97.66 402.20) scale(1.0450 1)" font-family="'Liberation Sans', Arial, Helvetica, sans-serif" font-size="40" fill="#000" stroke="#fefefe" stroke-width="0.35" vector-effect="non-scaling-stroke" stroke-linejoin="round">60</text>
<text transform="translate(97.66 572.80) scale(1.0450 1)" font-family="'Liberation Sans', Arial, Helvetica, sans-serif" font-size="40" fill="#000" stroke="#fefefe" stroke-width="0.35" vector-effect="non-scaling-stroke" stroke-linejoin="round">40</text>
<text transform="translate(97.66 743.40) scale(1.0450 1)" font-family="'Liberation Sans', Arial, Helvetica, sans-serif" font-size="40" fill="#000" stroke="#fefefe" stroke-width="0.35" vector-effect="non-scaling-stroke" stroke-linejoin="round">20</text>
<text transform="translate(122.92 914.00) scale(1.0450 1)" font-family="'Liberation Sans', Arial, Helvetica, sans-serif" font-size="40" fill="#000" stroke="#fefefe" stroke-width="0.35" vector-effect="non-scaling-stroke" stroke-linejoin="round">0</text>
<text transform="translate(278.21 950.00) scale(1.0236 1)" font-family="'Liberation Sans', Arial, Helvetica, sans-serif" font-size="40" fill="#000" stroke="#fefefe" stroke-width="0.35" vector-effect="non-scaling-stroke" stroke-linejoin="round">500</text>
<text transform="translate(503.68 950.00) scale(1.0059 1)" font-family="'Liberation Sans', Arial, Helvetica, sans-serif" font-size="40" fill="#000" stroke="#fefefe" stroke-width="0.35" vector-effect="non-scaling-stroke" stroke-linejoin="round">1000</text>
<text transform="translate(735.16 950.00) scale(1.0462 1)" font-family="'Liberation Sans', Arial, Helvetica, sans-serif" font-size="40" fill="#000" stroke="#fefefe" stroke-width="0.35" vector-effect="non-scaling-stroke" stroke-linejoin="round">1500</text>
<text transform="translate(967.89 950.00) scale(1.0526 1)" font-family="'Liberation Sans', Arial, Helvetica, sans-serif" font-size="40" fill="#000" stroke="#fefefe" stroke-width="0.35" vector-effect="non-scaling-stroke" stroke-linejoin="round">2000</text>
<text transform="translate(1202.01 950.00) scale(1.0433 1)" font-family="'Liberation Sans', Arial, Helvetica, sans-serif" font-size="40" fill="#000" stroke="#fefefe" stroke-width="0.35" vector-effect="non-scaling-stroke" stroke-linejoin="round">2500</text>
<text transform="translate(530.24 1000.20) scale(1.0324 1)" font-family="'Liberation Sans', Arial, Helvetica, sans-serif" font-size="38" fill="#000" stroke="#fefefe" stroke-width="0.35" vector-effect="non-scaling-stroke" stroke-linejoin="round">Wavelength (nm)</text>
<text transform="translate(67.30 657.07) rotate(-90) scale(1.0207 1)" font-family="'Liberation Sans', Arial, Helvetica, sans-serif" font-size="39" fill="#000" stroke="#fefefe" stroke-width="0.35" vector-effect="non-scaling-stroke" stroke-linejoin="round">Transmittance (%)</text>
<text transform="translate(202.77 115.20) scale(0.9782 1)" font-family="'Liberation Sans', Arial, Helvetica, sans-serif" font-size="50" fill="#000" stroke="#fefefe" stroke-width="0.9" vector-effect="non-scaling-stroke" stroke-linejoin="round">(a)</text>
<text transform="translate(315.47 176.70) scale(1.0092 1)" font-family="'Liberation Sans', Arial, Helvetica, sans-serif" font-size="39.5" fill="#000" stroke="#fefefe" stroke-width="0.35" vector-effect="non-scaling-stroke" stroke-linejoin="round">ITO</text>
<text transform="translate(996.34 222.70) scale(0.9797 1)" font-family="'Liberation Sans', Arial, Helvetica, sans-serif" font-size="38" fill="#000" stroke="#fefefe" stroke-width="0.35" vector-effect="non-scaling-stroke" stroke-linejoin="round">2 min</text>
<text transform="translate(991.86 317.30) scale(0.9629 1)" font-family="'Liberation Sans', Arial, Helvetica, sans-serif" font-size="38" fill="#000" stroke="#fefefe" stroke-width="0.35" vector-effect="non-scaling-stroke" stroke-linejoin="round">5 min</text>
<text transform="translate(977.42 406.70) scale(0.9385 1)" font-family="'Liberation Sans', Arial, Helvetica, sans-serif" font-size="38" fill="#000" stroke="#fefefe" stroke-width="0.35" vector-effect="non-scaling-stroke" stroke-linejoin="round">15 min</text>
<rect x="1336.00" y="44.00" width="1067.60" height="855.00" fill="none" stroke="#000" stroke-width="3.4"/>
<line x1="1336.00" y1="899.00" x2="1336.00" y2="907.00" stroke="#000" stroke-width="3.0" stroke-linecap="butt"/>
<line x1="1418.12" y1="44.00" x2="1418.12" y2="61.50" stroke="#000" stroke-width="3.0" stroke-linecap="butt"/>
<line x1="1418.12" y1="899.00" x2="1418.12" y2="915.00" stroke="#000" stroke-width="3.0" stroke-linecap="butt"/>
<line x1="1500.25" y1="44.00" x2="1500.25" y2="54.00" stroke="#000" stroke-width="3.0" stroke-linecap="butt"/>
<line x1="1500.25" y1="899.00" x2="1500.25" y2="907.00" stroke="#000" stroke-width="3.0" stroke-linecap="butt"/>
<line x1="1582.37" y1="44.00" x2="1582.37" y2="61.50" stroke="#000" stroke-width="3.0" stroke-linecap="butt"/>
<line x1="1582.37" y1="899.00" x2="1582.37" y2="915.00" stroke="#000" stroke-width="3.0" stroke-linecap="butt"/>
<line x1="1664.49" y1="44.00" x2="1664.49" y2="54.00" stroke="#000" stroke-width="3.0" stroke-linecap="butt"/>
<line x1="1664.49" y1="899.00" x2="1664.49" y2="907.00" stroke="#000" stroke-width="3.0" stroke-linecap="butt"/>
<line x1="1746.62" y1="44.00" x2="1746.62" y2="61.50" stroke="#000" stroke-width="3.0" stroke-linecap="butt"/>
<line x1="1746.62" y1="899.00" x2="1746.62" y2="915.00" stroke="#000" stroke-width="3.0" stroke-linecap="butt"/>
<line x1="1828.74" y1="44.00" x2="1828.74" y2="54.00" stroke="#000" stroke-width="3.0" stroke-linecap="butt"/>
<line x1="1828.74" y1="899.00" x2="1828.74" y2="907.00" stroke="#000" stroke-width="3.0" stroke-linecap="butt"/>
<line x1="1910.86" y1="44.00" x2="1910.86" y2="61.50" stroke="#000" stroke-width="3.0" stroke-linecap="butt"/>
<line x1="1910.86" y1="899.00" x2="1910.86" y2="915.00" stroke="#000" stroke-width="3.0" stroke-linecap="butt"/>
<line x1="1992.98" y1="44.00" x2="1992.98" y2="54.00" stroke="#000" stroke-width="3.0" stroke-linecap="butt"/>
<line x1="1992.98" y1="899.00" x2="1992.98" y2="907.00" stroke="#000" stroke-width="3.0" stroke-linecap="butt"/>
<line x1="2075.11" y1="44.00" x2="2075.11" y2="61.50" stroke="#000" stroke-width="3.0" stroke-linecap="butt"/>
<line x1="2075.11" y1="899.00" x2="2075.11" y2="915.00" stroke="#000" stroke-width="3.0" stroke-linecap="butt"/>
<line x1="2157.23" y1="44.00" x2="2157.23" y2="54.00" stroke="#000" stroke-width="3.0" stroke-linecap="butt"/>
<line x1="2157.23" y1="899.00" x2="2157.23" y2="907.00" stroke="#000" stroke-width="3.0" stroke-linecap="butt"/>
<line x1="2239.35" y1="44.00" x2="2239.35" y2="61.50" stroke="#000" stroke-width="3.0" stroke-linecap="butt"/>
<line x1="2239.35" y1="899.00" x2="2239.35" y2="915.00" stroke="#000" stroke-width="3.0" stroke-linecap="butt"/>
<line x1="2321.48" y1="44.00" x2="2321.48" y2="54.00" stroke="#000" stroke-width="3.0" stroke-linecap="butt"/>
<line x1="2321.48" y1="899.00" x2="2321.48" y2="907.00" stroke="#000" stroke-width="3.0" stroke-linecap="butt"/>
<line x1="2403.60" y1="899.00" x2="2403.60" y2="915.00" stroke="#000" stroke-width="3.0" stroke-linecap="butt"/>
<g clip-path="url(#clipB)">
<path d="M1336.0 841.7 L1336.3 814.1 L1336.7 817.1 L1337.0 853.6 L1337.3 849.2 L1337.6 854.1 L1338.0 831.1 L1338.3 844.2 L1338.6 827.3 L1339.0 881.8 L1339.3 810.1 L1339.6 844.9 L1339.9 828.5 L1340.3 845.5 L1340.6 850.4 L1340.9 832.6 L1341.3 824.8 L1341.6 846.2 L1341.9 844.9 L1342.2 827.1 L1342.6 859.5 L1342.9 872.8 L1343.2 832.4 L1343.6 854.5 L1343.9 880.4 L1344.2 856.9 L1344.5 849.4 L1344.9 864.3 L1345.2 870.3 L1345.5 838.0 L1345.9 819.7 L1346.2 843.1 L1346.5 853.6 L1346.8 829.6 L1347.2 822.4 L1347.5 843.6 L1347.8 825.7 L1348.2 815.1 L1348.5 841.2 L1348.8 853.8 L1349.1 829.3 L1349.5 831.3 L1349.8 813.4 L1350.1 863.4 L1350.5 850.4 L1350.8 854.1 L1351.1 873.0 L1351.4 834.1 L1351.8 825.9 L1352.1 852.7 L1352.4 808.4 L1352.8 820.6 L1353.1 825.0 L1353.4 830.2 L1353.7 819.0 L1354.1 867.5 L1354.4 827.2 L1354.7 828.0 L1355.1 878.3 L1355.4 834.5 L1355.7 847.7 L1356.0 826.7 L1356.4 853.0 L1356.7 844.8 L1357.0 837.9 L1357.4 864.2 L1357.7 833.9 L1358.0 849.3 L1358.3 837.4 L1358.7 859.4 L1359.0 826.2 L1359.3 836.9 L1359.7 853.8 L1360.0 837.3 L1360.3 824.5 L1360.6 813.7 L1361.0 884.6 L1361.3 833.2 L1361.6 842.1 L1362.0 853.9 L1362.3 873.1 L1362.6 825.5 L1362.9 878.3 L1363.3 839.7 L1363.6 824.0 L1363.9 884.6 L1364.3 857.0 L1364.6 877.8 L1364.9 844.7 L1365.2 817.6 L1365.6 806.4 L1365.9 885.6 L1366.2 859.9 L1366.5 832.5 L1366.9 813.6 L1367.2 837.4 L1367.5 861.3 L1367.9 838.9 L1368.2 845.0 L1368.5 848.5 L1368.8 859.2 L1369.2 835.2 L1369.5 836.6 L1369.8 844.7 L1370.2 847.1 L1370.5 869.2 L1370.8 852.3 L1371.1 816.6 L1371.5 845.9 L1371.8 872.0 L1372.1 813.8 L1372.5 830.7 L1372.8 797.6 L1373.1 840.6 L1373.4 851.7 L1373.8 872.5 L1374.1 814.5 L1374.4 788.5 L1374.8 859.9 L1375.1 856.4 L1375.4 830.5 L1375.7 860.7 L1376.1 849.2 L1376.4 851.1 L1376.7 840.1 L1377.1 821.4 L1377.4 844.3 L1377.7 825.8 L1378.0 854.2 L1378.4 838.9 L1378.7 891.0 L1379.0 876.9 L1379.4 830.1 L1379.7 859.4 L1380.0 835.1 L1380.3 836.2 L1380.7 820.0 L1381.0 830.8 L1381.3 826.7 L1381.7 850.4 L1382.0 862.8 L1382.3 863.5 L1382.6 858.4 L1383.0 871.8 L1383.3 859.4 L1383.6 849.8 L1384.0 842.4 L1384.3 854.6 L1384.6 887.7 L1384.9 848.6 L1385.3 842.1 L1385.6 823.9 L1385.9 834.3 L1386.3 859.7 L1386.6 861.1 L1386.9 803.5 L1387.2 829.6 L1387.6 806.9 L1387.9 800.4 L1388.2 862.1 L1388.6 836.7 L1388.9 835.0 L1389.2 832.8 L1389.5 833.1 L1389.9 840.2 L1390.2 840.7 L1390.5 875.9 L1390.9 847.9 L1391.2 860.2 L1391.5 841.9 L1391.8 854.4 L1392.2 831.7 L1392.5 827.6 L1392.8 838.4 L1393.2 838.3 L1393.5 843.1 L1393.8 854.5 L1394.1 848.7 L1394.5 855.7 L1394.8 837.2 L1395.1 845.2 L1395.5 833.3 L1395.8 873.4 L1396.1 826.9 L1396.4 861.5 L1396.8 860.9 L1397.1 849.5 L1397.4 857.2 L1397.8 839.2 L1398.1 857.2 L1398.4 867.5 L1398.7 862.7 L1399.1 817.3 L1399.4 843.7 L1399.7 869.0 L1400.1 844.1 L1400.4 876.8 L1400.7 806.4 L1401.0 875.7 L1401.4 833.4 L1401.7 831.9 L1402.0 873.4 L1402.4 836.5 L1402.7 821.6 L1403.0 832.5 L1403.3 836.5 L1403.7 821.8 L1404.0 838.0 L1404.3 834.0 L1404.7 843.4 L1405.0 827.2 L1405.3 859.9 L1405.6 823.2 L1406.0 850.2 L1406.3 862.2 L1406.6 831.4 L1407.0 803.4 L1407.3 818.5 L1407.6 849.4 L1407.9 823.8 L1408.3 847.9 L1408.6 840.9 L1408.9 836.3 L1409.3 886.8 L1409.6 834.2 L1409.9 859.8 L1410.2 852.9 L1410.6 869.2 L1410.9 870.2 L1411.2 858.2 L1411.6 821.2 L1411.9 803.7 L1412.2 839.3 L1412.5 816.1 L1412.9 844.7 L1413.2 879.4 L1413.5 836.4 L1413.9 830.5 L1414.2 849.1 L1414.5 834.0 L1414.8 828.7 L1415.2 859.1 L1415.5 872.4 L1415.8 846.4 L1416.2 846.6 L1416.5 849.9 L1416.8 822.2 L1417.1 807.0 L1417.5 852.3 L1417.8 829.2 L1418.1 824.5 L1418.5 829.6 L1418.8 822.9 L1419.1 853.3 L1419.4 829.9 L1419.8 803.3 L1420.1 829.2 L1420.4 859.3 L1420.8 833.9 L1421.1 820.4 L1421.4 839.4 L1421.7 859.2 L1422.1 815.3 L1422.4 874.1 L1422.7 837.5 L1423.1 848.6 L1423.4 873.5 L1423.7 823.0 L1424.0 841.4 L1424.4 873.2 L1424.7 836.2 L1425.0 857.8 L1425.3 888.6 L1425.7 863.1 L1426.0 843.0 L1426.3 835.0 L1426.7 844.7 L1427.0 846.9 L1427.3 837.7 L1427.6 851.6 L1428.0 822.1 L1428.3 843.2 L1428.6 839.6 L1429.0 833.9 L1429.3 866.8 L1429.6 858.8 L1429.9 811.2 L1430.3 835.5 L1430.6 847.7 L1430.9 833.8 L1431.3 850.3 L1431.6 833.6 L1431.9 852.6 L1432.2 832.0 L1432.6 870.0 L1432.9 808.2 L1433.2 846.1 L1433.6 867.7 L1433.9 838.5 L1434.2 840.8 L1434.5 829.1 L1434.9 855.6 L1435.2 822.6 L1435.5 754.4 L1435.9 856.6 L1436.2 822.2 L1436.5 835.4 L1436.8 824.4 L1437.2 866.1 L1437.5 852.0 L1437.8 818.1 L1438.2 828.5 L1438.5 793.4 L1438.8 842.5 L1439.1 824.2 L1439.5 767.0 L1439.8 844.4 L1440.1 847.6 L1440.5 829.9 L1440.8 830.5 L1441.1 812.4 L1441.4 828.0 L1441.8 847.2 L1442.1 827.6 L1442.4 777.5 L1442.8 806.9 L1443.1 892.6 L1443.4 838.1 L1443.7 854.3 L1444.1 823.7 L1444.4 841.2 L1444.7 797.9 L1445.1 819.8 L1445.4 821.5 L1445.7 837.0 L1446.0 842.5 L1446.4 835.3 L1446.7 815.9 L1447.0 832.5 L1447.4 851.6 L1447.7 818.0 L1448.0 841.1 L1448.3 847.1 L1448.7 862.3 L1449.0 857.8 L1449.3 859.5 L1449.7 904.8 L1450.0 825.0 L1450.3 834.4 L1450.6 850.7 L1451.0 824.1 L1451.3 836.7 L1451.6 837.8 L1452.0 897.1 L1452.3 849.8 L1452.6 833.4 L1452.9 810.4 L1453.3 805.1 L1453.6 813.3 L1453.9 866.9 L1454.3 888.1 L1454.6 829.5 L1454.9 840.3 L1455.2 820.1 L1455.6 842.3 L1455.9 834.5 L1456.2 870.0 L1456.6 828.6 L1456.9 846.7 L1457.2 829.6 L1457.5 826.8 L1457.9 838.4 L1458.2 828.9 L1458.5 835.4 L1458.9 818.9 L1459.2 824.0 L1459.5 845.8 L1459.8 846.4 L1460.2 797.5 L1460.5 836.1 L1460.8 813.2 L1461.2 825.7 L1461.5 845.9 L1461.8 849.8 L1462.1 831.8 L1462.5 829.1 L1462.8 821.8 L1463.1 861.5 L1463.5 847.7 L1463.8 837.5 L1464.1 802.3 L1464.4 885.5 L1464.8 827.2 L1465.1 848.0 L1465.4 828.0 L1465.8 847.7 L1466.1 830.1 L1466.4 805.3 L1466.7 830.9 L1467.1 829.6 L1467.4 831.1 L1467.7 854.9 L1468.1 828.0 L1468.4 843.9 L1468.7 856.7 L1469.0 840.7 L1469.4 844.7 L1469.7 824.3 L1470.0 841.0 L1470.4 851.3 L1470.7 809.7 L1471.0 819.5 L1471.3 813.5 L1471.7 827.3 L1472.0 842.2 L1472.3 848.5 L1472.7 845.4 L1473.0 819.5 L1473.3 836.8 L1473.6 870.0 L1474.0 839.5 L1474.3 868.0 L1474.6 834.6 L1475.0 863.0 L1475.3 863.9 L1475.6 834.6 L1475.9 838.3 L1476.3 871.0 L1476.6 820.2 L1476.9 790.2 L1477.3 866.0 L1477.6 796.6 L1477.9 848.6 L1478.2 844.2 L1478.6 837.2 L1478.9 863.3 L1479.2 805.6 L1479.6 822.1 L1479.9 847.8 L1480.2 837.6 L1480.5 863.3 L1480.9 838.6 L1481.2 811.6 L1481.5 866.9 L1481.9 840.1 L1482.2 827.9 L1482.5 809.0 L1482.8 802.8 L1483.2 840.6 L1483.5 846.6 L1483.8 821.8 L1484.2 838.9 L1484.5 838.0 L1484.8 809.1 L1485.1 796.5 L1485.5 826.4 L1485.8 836.1 L1486.1 820.4 L1486.4 871.9 L1486.8 833.0 L1487.1 854.9 L1487.4 783.1 L1487.8 818.1 L1488.1 830.3 L1488.4 837.4 L1488.7 885.9 L1489.1 818.7 L1489.4 799.6 L1489.7 848.8 L1490.1 819.4 L1490.4 818.6 L1490.7 865.8 L1491.0 814.0 L1491.4 805.1 L1491.7 828.4 L1492.0 834.2 L1492.4 816.2 L1492.7 864.4 L1493.0 830.0 L1493.3 809.6 L1493.7 857.0 L1494.0 810.1 L1494.3 839.0 L1494.7 873.1 L1495.0 831.6 L1495.3 849.2 L1495.6 821.9 L1496.0 852.5 L1496.3 806.0 L1496.6 842.7 L1497.0 819.7 L1497.3 839.0 L1497.6 833.1 L1497.9 801.5 L1498.3 821.5 L1498.6 833.9 L1498.9 851.5 L1499.3 801.4 L1499.6 810.1 L1499.9 832.0 L1500.2 820.2 L1500.6 846.6 L1500.9 846.4 L1501.2 842.6 L1501.6 818.5 L1501.9 819.9 L1502.2 841.7 L1502.5 811.5 L1502.9 810.9 L1503.2 824.0 L1503.5 806.7 L1503.9 834.5 L1504.2 831.5 L1504.5 820.0 L1504.8 831.0 L1505.2 814.5 L1505.5 857.1 L1505.8 802.6 L1506.2 848.4 L1506.5 836.3 L1506.8 861.6 L1507.1 821.4 L1507.5 808.0 L1507.8 812.4 L1508.1 817.5 L1508.5 866.6 L1508.8 850.8 L1509.1 844.3 L1509.4 853.9 L1509.8 811.8 L1510.1 830.8 L1510.4 834.8 L1510.8 824.0 L1511.1 852.9 L1511.4 851.6 L1511.7 850.6 L1512.1 822.0 L1512.4 824.7 L1512.7 819.2 L1513.1 808.5 L1513.4 857.1 L1513.7 840.2 L1514.0 825.2 L1514.4 854.7 L1514.7 837.4 L1515.0 805.4 L1515.4 802.9 L1515.7 802.7 L1516.0 822.8 L1516.3 827.3 L1516.7 800.6 L1517.0 829.2 L1517.3 814.3 L1517.7 794.0 L1518.0 827.5 L1518.3 831.8 L1518.6 819.4 L1519.0 806.8 L1519.3 808.7 L1519.6 814.9 L1520.0 806.5 L1520.3 849.2 L1520.6 834.1 L1520.9 813.4 L1521.3 834.8 L1521.6 842.6 L1521.9 839.6 L1522.3 833.5 L1522.6 818.5 L1522.9 834.8 L1523.2 809.5 L1523.6 780.3 L1523.9 816.1 L1524.2 787.6 L1524.6 806.5 L1524.9 833.5 L1525.2 815.9 L1525.5 829.3 L1525.9 794.3 L1526.2 831.0 L1526.5 781.8 L1526.9 795.3 L1527.2 844.8 L1527.5 789.1 L1527.8 773.0 L1528.2 817.1 L1528.5 781.3 L1528.8 833.5 L1529.2 792.4 L1529.5 827.5 L1529.8 784.6 L1530.1 826.2 L1530.5 840.4 L1530.8 780.7 L1531.1 742.8 L1531.5 795.6 L1531.8 766.6 L1532.1 778.1 L1532.4 784.3 L1532.8 764.5 L1533.1 743.2 L1533.4 795.0 L1533.8 759.3 L1534.1 761.3 L1534.4 792.1 L1534.7 733.7 L1535.1 725.5 L1535.4 777.0 L1535.7 725.5 L1536.1 754.3 L1536.4 756.3 L1536.7 724.0 L1537.0 745.3 L1537.4 741.6 L1537.7 718.2 L1538.0 720.5 L1538.4 725.8 L1538.7 764.9 L1539.0 766.1 L1539.3 716.4 L1539.7 751.1 L1540.0 730.4 L1540.3 750.2 L1540.7 732.9 L1541.0 750.4 L1541.3 698.2 L1541.6 742.6 L1542.0 725.5 L1542.3 725.1 L1542.6 699.7 L1543.0 743.2 L1543.3 718.1 L1543.6 719.6 L1543.9 705.7 L1544.3 705.3 L1544.6 719.8 L1544.9 706.7 L1545.2 715.8 L1545.6 700.5 L1545.9 708.9 L1546.2 717.0 L1546.6 705.5 L1546.9 698.1 L1547.2 665.7 L1547.5 710.4 L1547.9 696.5 L1548.2 676.7 L1548.5 734.4 L1548.9 728.3 L1549.2 718.8 L1549.5 700.8 L1549.8 658.7 L1550.2 692.2 L1550.5 678.8 L1550.8 702.4 L1551.2 739.4 L1551.5 737.3 L1551.8 683.1 L1552.1 697.4 L1552.5 722.6 L1552.8 683.7 L1553.1 728.5 L1553.5 685.5 L1553.8 681.4 L1554.1 719.5 L1554.4 726.8 L1554.8 695.8 L1555.1 729.9 L1555.4 698.9 L1555.8 735.3 L1556.1 703.6 L1556.4 717.6 L1556.7 728.7 L1557.1 738.7 L1557.4 721.7 L1557.7 760.4 L1558.1 735.1 L1558.4 739.5 L1558.7 723.4 L1559.0 759.4 L1559.4 710.1 L1559.7 748.0 L1560.0 765.1 L1560.4 723.1 L1560.7 720.6 L1561.0 756.0 L1561.3 771.1 L1561.7 757.4 L1562.0 772.7 L1562.3 768.5 L1562.7 737.1 L1563.0 760.7 L1563.3 767.7 L1563.6 766.5 L1564.0 776.4 L1564.3 762.2 L1564.6 763.8 L1565.0 789.4 L1565.3 782.8 L1565.6 741.6 L1565.9 781.2 L1566.3 794.8 L1566.6 754.4 L1566.9 795.1 L1567.3 818.2 L1567.6 786.2 L1567.9 818.2 L1568.2 812.3 L1568.6 798.1 L1568.9 808.5 L1569.2 822.4 L1569.6 819.8 L1569.9 822.1 L1570.2 789.0 L1570.5 827.4 L1570.9 825.7 L1571.2 775.3 L1571.5 827.8 L1571.9 788.2 L1572.2 792.7 L1572.5 822.9 L1572.8 849.2 L1573.2 812.6 L1573.5 809.1 L1573.8 804.0 L1574.2 822.8 L1574.5 800.8 L1574.8 797.8 L1575.1 848.0 L1575.5 798.5 L1575.8 824.7 L1576.1 840.5 L1576.5 836.2 L1576.8 792.1 L1577.1 811.0 L1577.4 868.3 L1577.8 830.7 L1578.1 835.9 L1578.4 837.2 L1578.8 844.7 L1579.1 864.7 L1579.4 817.6 L1579.7 855.2 L1580.1 844.1 L1580.4 849.4 L1580.7 852.5 L1581.1 822.6 L1581.4 830.6 L1581.7 852.9 L1582.0 859.0 L1582.4 849.6 L1582.7 820.3 L1583.0 838.2 L1583.4 836.4 L1583.7 848.4 L1584.0 847.3 L1584.3 837.9 L1584.7 881.0 L1585.0 809.5 L1585.3 859.8 L1585.7 855.5 L1586.0 816.1 L1586.3 839.6 L1586.6 843.6 L1587.0 856.9 L1587.3 877.5 L1587.6 841.3 L1588.0 820.4 L1588.3 864.3 L1588.6 817.2 L1588.9 869.4 L1589.3 861.3 L1589.6 835.6 L1589.9 846.3 L1590.3 831.9 L1590.6 862.0 L1590.9 868.2 L1591.2 885.7 L1591.6 872.0 L1591.9 869.3 L1592.2 876.7 L1592.6 840.4 L1592.9 860.8 L1593.2 888.5 L1593.5 794.8 L1593.9 864.2 L1594.2 873.0 L1594.5 820.6 L1594.9 822.1 L1595.2 870.5 L1595.5 877.2 L1595.8 867.2 L1596.2 822.4 L1596.5 852.5 L1596.8 862.8 L1597.2 846.4 L1597.5 820.4 L1597.8 874.8 L1598.1 853.6 L1598.5 874.5 L1598.8 799.8 L1599.1 807.2 L1599.5 825.4 L1599.8 848.1 L1600.1 831.5 L1600.4 889.5 L1600.8 839.5 L1601.1 873.4 L1601.4 873.1 L1601.8 860.1 L1602.1 852.6 L1602.4 833.1 L1602.7 830.4 L1603.1 839.5 L1603.4 864.8 L1603.7 830.7 L1604.0 847.3 L1604.4 819.9 L1604.7 863.8 L1605.0 902.5 L1605.4 854.3 L1605.7 799.0 L1606.0 834.2 L1606.3 848.0 L1606.7 825.2 L1607.0 833.1 L1607.3 833.9 L1607.7 854.2 L1608.0 841.7 L1608.3 839.0 L1608.6 856.6 L1609.0 866.5 L1609.3 840.0 L1609.6 822.5 L1610.0 829.1 L1610.3 832.2 L1610.6 831.8 L1610.9 788.0 L1611.3 836.7 L1611.6 820.1 L1611.9 800.7 L1612.3 840.5 L1612.6 835.9 L1612.9 819.3 L1613.2 805.6 L1613.6 834.2 L1613.9 833.0 L1614.2 838.4 L1614.6 865.4 L1614.9 816.3 L1615.2 844.8 L1615.5 875.3 L1615.9 841.9 L1616.2 874.8 L1616.5 859.3 L1616.9 837.4 L1617.2 856.8 L1617.5 814.6 L1617.8 867.6 L1618.2 830.8 L1618.5 824.3 L1618.8 805.0 L1619.2 816.0 L1619.5 830.2 L1619.8 833.1 L1620.1 835.7 L1620.5 810.3 L1620.8 847.7 L1621.1 822.7 L1621.5 835.4 L1621.8 828.1 L1622.1 838.4 L1622.4 787.9 L1622.8 846.3 L1623.1 826.9 L1623.4 826.3 L1623.8 819.1 L1624.1 822.3 L1624.4 822.7 L1624.7 810.9 L1625.1 863.1 L1625.4 831.2 L1625.7 857.2 L1626.1 826.4 L1626.4 856.1 L1626.7 851.4 L1627.0 832.5 L1627.4 802.0 L1627.7 819.3 L1628.0 825.3 L1628.4 802.2 L1628.7 851.7 L1629.0 876.0 L1629.3 841.3 L1629.7 838.5 L1630.0 807.1 L1630.3 788.5 L1630.7 861.8 L1631.0 782.3 L1631.3 801.9 L1631.6 817.6 L1632.0 828.0 L1632.3 785.3 L1632.6 835.1 L1633.0 847.3 L1633.3 835.0 L1633.6 867.3 L1633.9 829.1 L1634.3 841.9 L1634.6 833.1 L1634.9 833.0 L1635.3 863.3 L1635.6 813.9 L1635.9 863.3 L1636.2 823.8 L1636.6 876.4 L1636.9 835.5 L1637.2 861.0 L1637.6 843.2 L1637.9 858.1 L1638.2 890.6 L1638.5 868.4 L1638.9 843.7 L1639.2 832.2 L1639.5 876.3 L1639.9 890.1 L1640.2 863.8 L1640.5 849.9 L1640.8 858.7 L1641.2 862.4 L1641.5 827.4 L1641.8 824.8 L1642.2 829.4 L1642.5 864.5 L1642.8 843.0 L1643.1 848.4 L1643.5 874.1 L1643.8 825.4 L1644.1 841.8 L1644.5 853.6 L1644.8 813.5 L1645.1 827.0 L1645.4 824.9 L1645.8 817.5 L1646.1 827.5 L1646.4 869.1 L1646.8 850.6 L1647.1 821.2 L1647.4 858.4 L1647.7 841.4 L1648.1 833.8 L1648.4 811.8 L1648.7 814.8 L1649.1 823.2 L1649.4 846.0 L1649.7 822.9 L1650.0 831.0 L1650.4 845.5 L1650.7 813.5 L1651.0 831.6 L1651.4 857.9 L1651.7 815.4 L1652.0 847.3 L1652.3 829.5 L1652.7 874.0 L1653.0 842.3 L1653.3 861.8 L1653.7 862.3 L1654.0 881.9 L1654.3 796.7 L1654.6 844.7 L1655.0 836.4 L1655.3 818.0 L1655.6 843.7 L1656.0 830.2 L1656.3 869.3 L1656.6 836.5 L1656.9 849.1 L1657.3 829.7 L1657.6 836.2 L1657.9 868.8 L1658.3 878.4 L1658.6 860.6 L1658.9 823.5 L1659.2 829.8 L1659.6 830.0 L1659.9 880.7 L1660.2 894.6 L1660.6 851.0 L1660.9 844.7 L1661.2 850.3 L1661.5 830.1 L1661.9 841.1 L1662.2 862.3 L1662.5 855.9 L1662.8 834.4 L1663.2 835.9 L1663.5 839.1 L1663.8 790.0 L1664.2 843.2 L1664.5 835.3 L1664.8 859.0 L1665.1 845.9 L1665.5 827.6 L1665.8 827.0 L1666.1 842.6 L1666.5 831.5 L1666.8 839.0 L1667.1 880.2 L1667.4 910.0 L1667.8 793.2 L1668.1 824.8 L1668.4 844.0 L1668.8 879.9 L1669.1 870.8 L1669.4 816.1 L1669.7 903.7 L1670.1 852.6 L1670.4 828.2 L1670.7 844.0 L1671.1 831.8 L1671.4 851.0 L1671.7 798.6 L1672.0 871.0 L1672.4 878.6 L1672.7 844.8 L1673.0 821.1 L1673.4 852.8 L1673.7 830.1 L1674.0 863.7 L1674.3 877.9 L1674.7 824.0 L1675.0 820.9 L1675.3 821.9 L1675.7 863.6 L1676.0 878.9 L1676.3 879.5 L1676.6 859.8 L1677.0 843.0 L1677.3 844.6 L1677.6 885.4 L1678.0 851.2 L1678.3 854.9 L1678.6 853.3 L1678.9 855.5 L1679.3 859.1 L1679.6 842.1 L1679.9 851.7 L1680.3 849.3 L1680.6 868.2 L1680.9 845.1 L1681.2 855.6 L1681.6 897.1 L1681.9 842.2 L1682.2 857.5 L1682.6 832.2 L1682.9 854.6 L1683.2 852.9 L1683.5 846.1 L1683.9 850.4 L1684.2 859.2 L1684.5 887.2 L1684.9 810.6 L1685.2 882.2 L1685.5 855.9 L1685.8 834.8 L1686.2 840.3 L1686.5 836.2 L1686.8 831.7 L1687.2 821.2 L1687.5 841.3 L1687.8 786.4 L1688.1 868.6 L1688.5 842.5 L1688.8 854.8 L1689.1 858.6 L1689.5 841.1 L1689.8 816.4 L1690.1 862.0 L1690.4 862.0 L1690.8 831.8 L1691.1 835.6 L1691.4 805.9 L1691.8 825.4 L1692.1 842.1 L1692.4 853.8 L1692.7 842.4 L1693.1 850.5 L1693.4 875.5 L1693.7 846.6 L1694.1 850.4 L1694.4 851.6 L1694.7 855.6 L1695.0 811.1 L1695.4 832.0 L1695.7 826.9 L1696.0 859.3 L1696.4 868.0 L1696.7 852.4 L1697.0 841.3 L1697.3 853.6 L1697.7 850.2 L1698.0 825.9 L1698.3 839.7 L1698.7 866.4 L1699.0 854.6 L1699.3 859.2 L1699.6 841.4 L1700.0 869.5 L1700.3 848.5 L1700.6 830.0 L1701.0 843.7 L1701.3 863.2 L1701.6 856.6 L1701.9 840.8 L1702.3 833.0 L1702.6 825.3 L1702.9 845.5 L1703.3 869.6 L1703.6 811.9 L1703.9 835.0 L1704.2 832.3 L1704.6 833.8 L1704.9 861.3 L1705.2 845.7 L1705.6 833.1 L1705.9 816.3 L1706.2 836.0 L1706.5 901.5 L1706.9 840.9 L1707.2 827.8 L1707.5 807.6 L1707.9 819.0 L1708.2 781.4 L1708.5 802.7 L1708.8 803.5 L1709.2 811.1 L1709.5 858.2 L1709.8 811.3 L1710.2 815.5 L1710.5 837.6 L1710.8 813.7 L1711.1 816.1 L1711.5 832.9 L1711.8 824.7 L1712.1 826.3 L1712.5 814.9 L1712.8 826.8 L1713.1 805.7 L1713.4 853.7 L1713.8 819.2 L1714.1 845.5 L1714.4 819.6 L1714.8 797.9 L1715.1 805.8 L1715.4 806.5 L1715.7 800.9 L1716.1 769.6 L1716.4 819.5 L1716.7 778.6 L1717.1 822.5 L1717.4 800.0 L1717.7 785.6 L1718.0 802.2 L1718.4 779.7 L1718.7 767.3 L1719.0 800.2 L1719.4 776.6 L1719.7 779.1 L1720.0 804.4 L1720.3 769.2 L1720.7 776.8 L1721.0 735.1 L1721.3 770.8 L1721.6 721.7 L1722.0 756.8 L1722.3 710.0 L1722.6 730.0 L1723.0 727.1 L1723.3 716.7 L1723.6 710.5 L1723.9 697.5 L1724.3 687.3 L1724.6 716.3 L1724.9 725.6 L1725.3 742.9 L1725.6 700.9 L1725.9 677.3 L1726.2 677.8 L1726.6 676.3 L1726.9 677.8 L1727.2 676.5 L1727.6 665.3 L1727.9 649.5 L1728.2 675.8 L1728.5 633.2 L1728.9 659.5 L1729.2 635.0 L1729.5 636.2 L1729.9 626.9 L1730.2 631.1 L1730.5 627.2 L1730.8 609.2 L1731.2 615.9 L1731.5 562.4 L1731.8 597.0 L1732.2 595.6 L1732.5 589.7 L1732.8 592.3 L1733.1 606.5 L1733.5 573.4 L1733.8 562.2 L1734.1 582.4 L1734.5 559.4 L1734.8 572.0 L1735.1 554.0 L1735.4 546.3 L1735.8 542.3 L1736.1 540.8 L1736.4 553.5 L1736.8 531.8 L1737.1 547.3 L1737.4 536.1 L1737.7 530.8 L1738.1 543.1 L1738.4 555.2 L1738.7 531.2 L1739.1 553.3 L1739.4 550.9 L1739.7 554.3 L1740.0 530.7 L1740.4 544.5 L1740.7 572.1 L1741.0 535.8 L1741.4 520.3 L1741.7 525.2 L1742.0 556.9 L1742.3 550.1 L1742.7 546.0 L1743.0 542.1 L1743.3 553.9 L1743.7 568.7 L1744.0 544.9 L1744.3 545.9 L1744.6 569.0 L1745.0 554.2 L1745.3 542.5 L1745.6 541.1 L1746.0 528.6 L1746.3 518.0 L1746.6 512.6 L1746.9 510.7 L1747.3 514.3 L1747.6 479.1 L1747.9 457.5 L1748.3 438.0 L1748.6 447.4 L1748.9 434.5 L1749.2 406.3 L1749.6 395.7 L1749.9 398.5 L1750.2 388.0 L1750.6 399.6 L1750.9 384.9 L1751.2 402.4 L1751.5 401.3 L1751.9 410.3 L1752.2 426.0 L1752.5 458.3 L1752.9 460.5 L1753.2 464.9 L1753.5 487.5 L1753.8 509.8 L1754.2 518.1 L1754.5 532.4 L1754.8 547.0 L1755.2 583.8 L1755.5 587.5 L1755.8 605.3 L1756.1 624.3 L1756.5 643.1 L1756.8 632.8 L1757.1 651.2 L1757.5 614.7 L1757.8 651.9 L1758.1 658.0 L1758.4 664.0 L1758.8 633.9 L1759.1 677.0 L1759.4 667.4 L1759.8 677.7 L1760.1 669.3 L1760.4 668.9 L1760.7 652.9 L1761.1 690.3 L1761.4 670.3 L1761.7 646.7 L1762.1 678.3 L1762.4 673.7 L1762.7 684.5 L1763.0 710.2 L1763.4 673.8 L1763.7 655.4 L1764.0 680.0 L1764.4 700.8 L1764.7 670.3 L1765.0 673.7 L1765.3 660.9 L1765.7 662.9 L1766.0 681.1 L1766.3 672.1 L1766.7 705.4 L1767.0 663.5 L1767.3 678.2 L1767.6 666.0 L1768.0 667.5 L1768.3 688.6 L1768.6 687.8 L1769.0 699.8 L1769.3 718.7 L1769.6 691.4 L1769.9 688.5 L1770.3 708.2 L1770.6 682.8 L1770.9 693.3 L1771.3 689.3 L1771.6 708.7 L1771.9 724.7 L1772.2 688.1 L1772.6 691.7 L1772.9 703.5 L1773.2 709.1 L1773.6 707.8 L1773.9 706.5 L1774.2 712.7 L1774.5 735.5 L1774.9 694.3 L1775.2 728.5 L1775.5 711.3 L1775.9 710.8 L1776.2 702.2 L1776.5 729.6 L1776.8 687.3 L1777.2 694.7 L1777.5 692.1 L1777.8 683.7 L1778.2 712.7 L1778.5 745.4 L1778.8 692.9 L1779.1 676.8 L1779.5 676.9 L1779.8 699.2 L1780.1 690.3 L1780.5 682.2 L1780.8 709.3 L1781.1 689.9 L1781.4 686.3 L1781.8 651.6 L1782.1 679.5 L1782.4 644.8 L1782.7 662.6 L1783.1 681.8 L1783.4 624.4 L1783.7 663.5 L1784.1 637.5 L1784.4 618.4 L1784.7 643.6 L1785.0 647.9 L1785.4 613.0 L1785.7 620.7 L1786.0 632.1 L1786.4 624.8 L1786.7 610.5 L1787.0 587.9 L1787.3 598.0 L1787.7 580.6 L1788.0 562.7 L1788.3 561.7 L1788.7 554.0 L1789.0 550.7 L1789.3 578.7 L1789.6 539.2 L1790.0 543.9 L1790.3 543.3 L1790.6 548.4 L1791.0 548.3 L1791.3 536.9 L1791.6 518.7 L1791.9 525.9 L1792.3 516.2 L1792.6 508.4 L1792.9 488.9 L1793.3 494.0 L1793.6 487.2 L1793.9 466.3 L1794.2 479.0 L1794.6 464.4 L1794.9 477.2 L1795.2 458.2 L1795.6 456.1 L1795.9 451.5 L1796.2 454.2 L1796.5 456.3 L1796.9 445.3 L1797.2 443.8 L1797.5 425.6 L1797.9 424.1 L1798.2 442.8 L1798.5 422.2 L1798.8 431.3 L1799.2 420.3 L1799.5 428.2 L1799.8 436.9 L1800.2 411.4 L1800.5 416.4 L1800.8 432.8 L1801.1 439.4 L1801.5 426.3 L1801.8 433.3 L1802.1 426.1 L1802.5 417.6 L1802.8 410.6 L1803.1 430.6 L1803.4 415.4 L1803.8 419.8 L1804.1 438.3 L1804.4 453.6 L1804.8 431.4 L1805.1 437.2 L1805.4 423.0 L1805.7 436.1 L1806.1 446.7 L1806.4 441.6 L1806.7 474.1 L1807.1 465.8 L1807.4 475.4 L1807.7 459.2 L1808.0 476.5 L1808.4 519.9 L1808.7 478.2 L1809.0 507.9 L1809.4 495.3 L1809.7 514.3 L1810.0 512.1 L1810.3 513.4 L1810.7 524.0 L1811.0 542.5 L1811.3 522.1 L1811.7 539.0 L1812.0 549.5 L1812.3 547.1 L1812.6 567.1 L1813.0 545.0 L1813.3 570.0 L1813.6 574.1 L1814.0 580.0 L1814.3 600.6 L1814.6 609.4 L1814.9 598.3 L1815.3 602.2 L1815.6 595.5 L1815.9 611.7 L1816.3 635.9 L1816.6 621.0 L1816.9 622.3 L1817.2 624.9 L1817.6 638.1 L1817.9 662.5 L1818.2 636.7 L1818.6 665.4 L1818.9 652.9 L1819.2 684.9 L1819.5 658.5 L1819.9 682.6 L1820.2 661.7 L1820.5 656.2 L1820.9 667.4 L1821.2 701.7 L1821.5 701.8 L1821.8 703.7 L1822.2 685.6 L1822.5 692.3 L1822.8 696.9 L1823.2 696.6 L1823.5 694.4 L1823.8 694.4 L1824.1 680.7 L1824.5 704.2 L1824.8 699.6 L1825.1 725.2 L1825.5 714.4 L1825.8 700.5 L1826.1 699.6 L1826.4 671.2 L1826.8 647.9 L1827.1 650.3 L1827.4 630.5 L1827.8 606.1 L1828.1 569.6 L1828.4 543.3 L1828.7 495.0 L1829.1 454.2 L1829.4 408.3 L1829.7 356.7 L1830.1 314.0 L1830.4 264.2 L1830.7 205.0 L1831.0 175.9 L1831.4 132.6 L1831.7 108.1 L1832.0 90.6 L1832.4 79.2 L1832.7 80.5 L1833.0 83.3 L1833.3 104.9 L1833.7 128.4 L1834.0 147.0 L1834.3 191.1 L1834.7 217.6 L1835.0 260.8 L1835.3 291.2 L1835.6 336.3 L1836.0 359.4 L1836.3 362.5 L1836.6 399.4 L1837.0 413.9 L1837.3 432.9 L1837.6 434.5 L1837.9 457.4 L1838.3 454.8 L1838.6 440.0 L1838.9 431.3 L1839.3 435.8 L1839.6 425.0 L1839.9 416.7 L1840.2 404.2 L1840.6 401.7 L1840.9 391.5 L1841.2 367.2 L1841.5 368.8 L1841.9 349.4 L1842.2 333.9 L1842.5 324.3 L1842.9 301.1 L1843.2 294.1 L1843.5 278.9 L1843.8 274.0 L1844.2 260.0 L1844.5 238.8 L1844.8 228.8 L1845.2 224.2 L1845.5 207.6 L1845.8 198.9 L1846.1 189.5 L1846.5 170.1 L1846.8 176.0 L1847.1 162.1 L1847.5 154.7 L1847.8 152.5 L1848.1 152.8 L1848.4 134.4 L1848.8 132.5 L1849.1 129.8 L1849.4 126.5 L1849.8 123.7 L1850.1 127.9 L1850.4 118.6 L1850.7 132.2 L1851.1 120.3 L1851.4 131.0 L1851.7 124.5 L1852.1 119.1 L1852.4 128.1 L1852.7 132.5 L1853.0 129.2 L1853.4 138.5 L1853.7 144.0 L1854.0 148.9 L1854.4 141.2 L1854.7 153.0 L1855.0 160.7 L1855.3 179.3 L1855.7 173.9 L1856.0 195.2 L1856.3 190.7 L1856.7 210.7 L1857.0 197.3 L1857.3 233.0 L1857.6 221.2 L1858.0 234.1 L1858.3 263.4 L1858.6 262.3 L1859.0 260.0 L1859.3 273.1 L1859.6 305.8 L1859.9 308.1 L1860.3 324.7 L1860.6 335.1 L1860.9 343.6 L1861.3 334.9 L1861.6 360.7 L1861.9 375.5 L1862.2 388.2 L1862.6 391.4 L1862.9 403.0 L1863.2 428.9 L1863.6 419.4 L1863.9 454.0 L1864.2 458.4 L1864.5 463.2 L1864.9 462.8 L1865.2 493.5 L1865.5 498.6 L1865.9 499.8 L1866.2 517.2 L1866.5 522.9 L1866.8 534.2 L1867.2 552.5 L1867.5 558.8 L1867.8 565.8 L1868.2 585.6 L1868.5 577.6 L1868.8 626.0 L1869.1 623.7 L1869.5 606.3 L1869.8 626.4 L1870.1 647.1 L1870.5 643.7 L1870.8 643.4 L1871.1 670.6 L1871.4 662.4 L1871.8 680.5 L1872.1 687.6 L1872.4 694.1 L1872.8 686.1 L1873.1 720.6 L1873.4 717.6 L1873.7 710.5 L1874.1 740.7 L1874.4 751.3 L1874.7 728.7 L1875.1 741.5 L1875.4 748.6 L1875.7 749.7 L1876.0 769.5 L1876.4 721.2 L1876.7 778.8 L1877.0 775.5 L1877.4 793.3 L1877.7 783.2 L1878.0 759.7 L1878.3 784.4 L1878.7 779.7 L1879.0 798.3 L1879.3 768.5 L1879.7 795.2 L1880.0 818.5 L1880.3 791.9 L1880.6 811.1 L1881.0 799.3 L1881.3 808.5 L1881.6 808.8 L1882.0 812.8 L1882.3 830.2 L1882.6 841.0 L1882.9 805.8 L1883.3 824.0 L1883.6 819.2 L1883.9 831.8 L1884.3 856.6 L1884.6 846.5 L1884.9 807.1 L1885.2 841.1 L1885.6 835.8 L1885.9 853.0 L1886.2 839.3 L1886.6 837.5 L1886.9 835.6 L1887.2 833.7 L1887.5 842.5 L1887.9 841.8 L1888.2 833.3 L1888.5 828.1 L1888.9 835.2 L1889.2 806.1 L1889.5 829.4 L1889.8 829.8 L1890.2 842.0 L1890.5 815.7 L1890.8 846.7 L1891.2 855.3 L1891.5 844.8 L1891.8 819.7 L1892.1 846.0 L1892.5 808.0 L1892.8 827.4 L1893.1 849.4 L1893.5 828.9 L1893.8 797.3 L1894.1 836.8 L1894.4 842.7 L1894.8 814.0 L1895.1 801.0 L1895.4 804.4 L1895.8 823.8 L1896.1 815.0 L1896.4 811.9 L1896.7 798.1 L1897.1 782.4 L1897.4 815.4 L1897.7 793.3 L1898.1 816.9 L1898.4 801.9 L1898.7 823.7 L1899.0 820.1 L1899.4 801.6 L1899.7 820.1 L1900.0 792.6 L1900.3 812.9 L1900.7 802.7 L1901.0 804.2 L1901.3 806.9 L1901.7 799.2 L1902.0 784.6 L1902.3 754.3 L1902.6 816.0 L1903.0 793.6 L1903.3 799.9 L1903.6 809.9 L1904.0 792.0 L1904.3 808.2 L1904.6 796.2 L1904.9 776.8 L1905.3 823.2 L1905.6 790.4 L1905.9 787.2 L1906.3 807.1 L1906.6 785.8 L1906.9 788.3 L1907.2 798.3 L1907.6 776.2 L1907.9 812.4 L1908.2 784.9 L1908.6 797.8 L1908.9 810.1 L1909.2 798.1 L1909.5 801.3 L1909.9 785.3 L1910.2 819.3 L1910.5 801.5 L1910.9 806.2 L1911.2 778.0 L1911.5 817.9 L1911.8 787.5 L1912.2 829.4 L1912.5 800.1 L1912.8 808.2 L1913.2 801.9 L1913.5 818.9 L1913.8 838.3 L1914.1 833.6 L1914.5 792.8 L1914.8 810.1 L1915.1 827.2 L1915.5 802.2 L1915.8 827.7 L1916.1 828.7 L1916.4 836.8 L1916.8 802.1 L1917.1 791.3 L1917.4 836.0 L1917.8 818.1 L1918.1 808.5 L1918.4 792.1 L1918.7 860.9 L1919.1 823.2 L1919.4 816.1 L1919.7 848.9 L1920.1 820.7 L1920.4 824.4 L1920.7 816.8 L1921.0 837.1 L1921.4 822.2 L1921.7 838.2 L1922.0 820.0 L1922.4 827.1 L1922.7 835.6 L1923.0 851.7 L1923.3 805.0 L1923.7 813.4 L1924.0 817.0 L1924.3 840.8 L1924.7 836.1 L1925.0 805.1 L1925.3 819.4 L1925.6 844.0 L1926.0 830.2 L1926.3 828.8 L1926.6 834.1 L1927.0 845.5 L1927.3 811.7 L1927.6 821.9 L1927.9 834.1 L1928.3 855.3 L1928.6 840.0 L1928.9 831.1 L1929.3 817.6 L1929.6 836.7 L1929.9 813.9 L1930.2 828.8 L1930.6 842.5 L1930.9 874.1 L1931.2 849.2 L1931.6 854.1 L1931.9 833.5 L1932.2 826.1 L1932.5 809.9 L1932.9 831.6 L1933.2 849.3 L1933.5 795.3 L1933.9 826.8 L1934.2 835.7 L1934.5 835.7 L1934.8 852.5 L1935.2 822.0 L1935.5 826.1 L1935.8 807.4 L1936.2 814.9 L1936.5 818.6 L1936.8 812.6 L1937.1 836.3 L1937.5 838.7 L1937.8 832.7 L1938.1 851.0 L1938.5 834.0 L1938.8 836.8 L1939.1 821.4 L1939.4 831.7 L1939.8 860.7 L1940.1 830.8 L1940.4 809.3 L1940.8 859.0 L1941.1 842.3 L1941.4 830.1 L1941.7 850.4 L1942.1 838.2 L1942.4 828.6 L1942.7 849.3 L1943.1 824.2 L1943.4 822.0 L1943.7 847.1 L1944.0 826.9 L1944.4 810.4 L1944.7 829.1 L1945.0 819.3 L1945.4 815.6 L1945.7 828.5 L1946.0 809.5 L1946.3 818.1 L1946.7 838.5 L1947.0 814.9 L1947.3 809.1 L1947.7 809.5 L1948.0 831.0 L1948.3 813.7 L1948.6 799.3 L1949.0 816.1 L1949.3 801.1 L1949.6 798.8 L1950.0 818.5 L1950.3 807.5 L1950.6 821.4 L1950.9 800.4 L1951.3 817.4 L1951.6 823.8 L1951.9 815.5 L1952.3 815.8 L1952.6 808.6 L1952.9 806.9 L1953.2 831.1 L1953.6 823.0 L1953.9 807.5 L1954.2 805.4 L1954.6 811.0 L1954.9 772.7 L1955.2 795.0 L1955.5 812.6 L1955.9 800.3 L1956.2 791.0 L1956.5 805.1 L1956.9 836.1 L1957.2 808.5 L1957.5 808.9 L1957.8 777.8 L1958.2 836.0 L1958.5 785.7 L1958.8 810.3 L1959.1 793.9 L1959.5 811.4 L1959.8 804.0 L1960.1 789.5 L1960.5 804.2 L1960.8 789.4 L1961.1 805.3 L1961.4 809.4 L1961.8 805.9 L1962.1 809.2 L1962.4 802.9 L1962.8 780.7 L1963.1 816.4 L1963.4 822.5 L1963.7 798.0 L1964.1 772.7 L1964.4 780.8 L1964.7 775.9 L1965.1 775.9 L1965.4 803.0 L1965.7 789.8 L1966.0 828.0 L1966.4 797.8 L1966.7 779.5 L1967.0 808.8 L1967.4 814.6 L1967.7 802.6 L1968.0 780.1 L1968.3 765.6 L1968.7 744.6 L1969.0 759.4 L1969.3 799.0 L1969.7 808.8 L1970.0 773.3 L1970.3 759.4 L1970.6 794.9 L1971.0 778.4 L1971.3 776.0 L1971.6 767.9 L1972.0 769.4 L1972.3 758.5 L1972.6 749.8 L1972.9 761.8 L1973.3 751.2 L1973.6 733.0 L1973.9 772.2 L1974.3 771.1 L1974.6 748.8 L1974.9 729.3 L1975.2 750.5 L1975.6 736.7 L1975.9 753.9 L1976.2 736.2 L1976.6 755.3 L1976.9 736.7 L1977.2 739.0 L1977.5 737.6 L1977.9 723.3 L1978.2 726.1 L1978.5 746.8 L1978.9 726.0 L1979.2 758.7 L1979.5 722.2 L1979.8 698.0 L1980.2 725.9 L1980.5 725.1 L1980.8 729.9 L1981.2 718.9 L1981.5 734.7 L1981.8 719.2 L1982.1 730.6 L1982.5 731.9 L1982.8 724.1 L1983.1 725.9 L1983.5 747.0 L1983.8 697.3 L1984.1 722.0 L1984.4 745.4 L1984.8 709.4 L1985.1 723.6 L1985.4 720.5 L1985.8 714.1 L1986.1 734.8 L1986.4 761.3 L1986.7 724.9 L1987.1 720.7 L1987.4 711.2 L1987.7 734.1 L1988.1 728.2 L1988.4 720.0 L1988.7 729.7 L1989.0 729.3 L1989.4 723.3 L1989.7 739.9 L1990.0 707.2 L1990.4 740.0 L1990.7 728.3 L1991.0 733.6 L1991.3 739.1 L1991.7 723.7 L1992.0 718.2 L1992.3 713.2 L1992.7 725.1 L1993.0 739.2 L1993.3 722.9 L1993.6 753.5 L1994.0 734.9 L1994.3 729.5 L1994.6 729.7 L1995.0 752.8 L1995.3 758.2 L1995.6 717.8 L1995.9 747.1 L1996.3 762.9 L1996.6 758.5 L1996.9 743.0 L1997.3 728.7 L1997.6 745.3 L1997.9 730.5 L1998.2 744.4 L1998.6 742.2 L1998.9 736.6 L1999.2 755.8 L1999.6 748.0 L1999.9 758.3 L2000.2 762.8 L2000.5 746.7 L2000.9 767.8 L2001.2 757.0 L2001.5 770.1 L2001.9 761.9 L2002.2 769.2 L2002.5 748.7 L2002.8 763.8 L2003.2 765.3 L2003.5 745.3 L2003.8 808.8 L2004.2 786.0 L2004.5 809.9 L2004.8 773.8 L2005.1 769.2 L2005.5 767.8 L2005.8 774.5 L2006.1 791.8 L2006.5 756.8 L2006.8 778.4 L2007.1 787.8 L2007.4 801.3 L2007.8 781.1 L2008.1 795.3 L2008.4 796.1 L2008.8 788.2 L2009.1 789.4 L2009.4 805.4 L2009.7 777.2 L2010.1 810.5 L2010.4 813.4 L2010.7 794.3 L2011.1 798.1 L2011.4 800.1 L2011.7 808.2 L2012.0 802.8 L2012.4 812.7 L2012.7 829.5 L2013.0 796.1 L2013.4 822.5 L2013.7 812.2 L2014.0 799.2 L2014.3 810.6 L2014.7 771.8 L2015.0 833.4 L2015.3 824.9 L2015.7 813.5 L2016.0 795.8 L2016.3 820.4 L2016.6 838.8 L2017.0 801.7 L2017.3 833.2 L2017.6 823.4 L2018.0 808.2 L2018.3 832.2 L2018.6 829.8 L2018.9 816.7 L2019.3 827.8 L2019.6 821.3 L2019.9 840.5 L2020.2 828.8 L2020.6 844.2 L2020.9 851.9 L2021.2 802.6 L2021.6 822.8 L2021.9 816.4 L2022.2 845.4 L2022.5 831.7 L2022.9 834.8 L2023.2 853.6 L2023.5 824.1 L2023.9 843.7 L2024.2 836.1 L2024.5 856.5 L2024.8 818.4 L2025.2 822.2 L2025.5 827.9 L2025.8 848.0 L2026.2 842.4 L2026.5 815.5 L2026.8 838.5 L2027.1 830.2 L2027.5 832.2 L2027.8 851.5 L2028.1 810.9 L2028.5 864.8 L2028.8 830.7 L2029.1 835.5 L2029.4 858.9 L2029.8 828.8 L2030.1 825.7 L2030.4 832.8 L2030.8 846.2 L2031.1 826.3 L2031.4 815.9 L2031.7 829.5 L2032.1 806.2 L2032.4 819.4 L2032.7 820.6 L2033.1 810.9 L2033.4 842.5 L2033.7 840.2 L2034.0 824.2 L2034.4 824.1 L2034.7 808.8 L2035.0 814.4 L2035.4 829.4 L2035.7 828.8 L2036.0 836.5 L2036.3 838.0 L2036.7 839.4 L2037.0 818.6 L2037.3 840.0 L2037.7 838.4 L2038.0 830.6 L2038.3 841.2 L2038.6 837.1 L2039.0 867.5 L2039.3 828.3 L2039.6 839.1 L2040.0 831.8 L2040.3 829.4 L2040.6 864.1 L2040.9 798.7 L2041.3 833.7 L2041.6 833.7 L2041.9 864.4 L2042.3 827.6 L2042.6 831.2 L2042.9 843.4 L2043.2 834.4 L2043.6 818.7 L2043.9 844.0 L2044.2 853.1 L2044.6 818.9 L2044.9 835.7 L2045.2 842.9 L2045.5 805.0 L2045.9 838.4 L2046.2 843.9 L2046.5 837.5 L2046.9 848.1 L2047.2 838.9 L2047.5 840.2 L2047.8 852.9 L2048.2 847.0 L2048.5 838.5 L2048.8 837.6 L2049.2 834.7 L2049.5 831.8 L2049.8 840.2 L2050.1 836.2 L2050.5 850.2 L2050.8 848.4 L2051.1 828.5 L2051.5 874.9 L2051.8 838.8 L2052.1 795.8 L2052.4 873.0 L2052.8 821.3 L2053.1 871.4 L2053.4 838.6 L2053.8 819.1 L2054.1 821.0 L2054.4 857.7 L2054.7 863.5 L2055.1 865.4 L2055.4 831.9 L2055.7 848.6 L2056.1 842.2 L2056.4 837.9 L2056.7 835.1 L2057.0 832.7 L2057.4 838.6 L2057.7 864.7 L2058.0 817.1 L2058.4 881.2 L2058.7 819.3 L2059.0 847.0 L2059.3 840.2 L2059.7 844.6 L2060.0 841.7 L2060.3 835.7 L2060.7 839.0 L2061.0 851.0 L2061.3 820.5 L2061.6 841.8 L2062.0 811.7 L2062.3 834.1 L2062.6 842.0 L2063.0 823.9 L2063.3 816.5 L2063.6 843.8 L2063.9 833.5 L2064.3 806.7 L2064.6 843.6 L2064.9 841.0 L2065.3 825.0 L2065.6 845.9 L2065.9 864.9 L2066.2 852.4 L2066.6 820.8 L2066.9 816.3 L2067.2 817.2 L2067.6 820.1 L2067.9 845.0 L2068.2 815.6 L2068.5 808.3 L2068.9 836.7 L2069.2 811.6 L2069.5 831.7 L2069.9 823.3 L2070.2 820.7 L2070.5 849.1 L2070.8 804.1 L2071.2 839.6 L2071.5 828.2 L2071.8 834.2 L2072.2 819.7 L2072.5 820.0 L2072.8 826.1 L2073.1 804.8 L2073.5 821.6 L2073.8 831.4 L2074.1 868.0 L2074.5 828.1 L2074.8 827.2 L2075.1 834.5 L2075.4 832.8 L2075.8 809.5 L2076.1 800.7 L2076.4 785.9 L2076.8 794.1 L2077.1 817.7 L2077.4 800.1 L2077.7 819.1 L2078.1 784.9 L2078.4 785.2 L2078.7 793.2 L2079.0 780.4 L2079.4 776.1 L2079.7 774.6 L2080.0 741.8 L2080.4 711.5 L2080.7 734.0 L2081.0 723.6 L2081.3 727.5 L2081.7 726.3 L2082.0 687.6 L2082.3 711.8 L2082.7 695.9 L2083.0 695.8 L2083.3 681.9 L2083.6 684.6 L2084.0 673.2 L2084.3 691.9 L2084.6 676.5 L2085.0 658.8 L2085.3 687.0 L2085.6 684.3 L2085.9 663.3 L2086.3 678.1 L2086.6 674.8 L2086.9 719.1 L2087.3 696.8 L2087.6 720.3 L2087.9 728.7 L2088.2 713.7 L2088.6 711.2 L2088.9 752.1 L2089.2 754.6 L2089.6 755.1 L2089.9 756.1 L2090.2 778.7 L2090.5 737.2 L2090.9 765.5 L2091.2 784.0 L2091.5 791.5 L2091.9 756.9 L2092.2 762.2 L2092.5 804.6 L2092.8 796.3 L2093.2 786.5 L2093.5 824.4 L2093.8 818.4 L2094.2 792.5 L2094.5 824.1 L2094.8 821.9 L2095.1 836.7 L2095.5 829.2 L2095.8 808.7 L2096.1 831.6 L2096.5 839.3 L2096.8 829.6 L2097.1 794.2 L2097.4 817.9 L2097.8 828.8 L2098.1 818.1 L2098.4 813.5 L2098.8 818.0 L2099.1 846.3 L2099.4 814.7 L2099.7 821.8 L2100.1 805.7 L2100.4 837.8 L2100.7 801.7 L2101.1 824.1 L2101.4 841.6 L2101.7 795.9 L2102.0 822.8 L2102.4 809.0 L2102.7 816.4 L2103.0 797.2 L2103.4 796.5 L2103.7 795.8 L2104.0 801.2 L2104.3 835.2 L2104.7 835.7 L2105.0 807.4 L2105.3 824.0 L2105.7 802.6 L2106.0 806.7 L2106.3 829.6 L2106.6 823.7 L2107.0 824.8 L2107.3 820.8 L2107.6 810.5 L2108.0 797.1 L2108.3 787.1 L2108.6 820.8 L2108.9 814.6 L2109.3 783.1 L2109.6 792.6 L2109.9 802.0 L2110.3 839.7 L2110.6 819.7 L2110.9 802.4 L2111.2 813.1 L2111.6 775.0 L2111.9 802.6 L2112.2 799.6 L2112.6 819.7 L2112.9 818.7 L2113.2 813.0 L2113.5 812.3 L2113.9 806.4 L2114.2 797.5 L2114.5 799.4 L2114.9 788.2 L2115.2 822.6 L2115.5 799.8 L2115.8 799.4 L2116.2 779.8 L2116.5 806.3 L2116.8 798.4 L2117.2 815.2 L2117.5 797.3 L2117.8 797.9 L2118.1 813.0 L2118.5 810.5 L2118.8 804.9 L2119.1 796.2 L2119.5 821.7 L2119.8 792.5 L2120.1 810.6 L2120.4 778.5 L2120.8 785.3 L2121.1 812.9 L2121.4 816.6 L2121.8 772.2 L2122.1 799.3 L2122.4 800.7 L2122.7 815.6 L2123.1 811.8 L2123.4 798.7 L2123.7 801.9 L2124.1 823.4 L2124.4 793.7 L2124.7 807.7 L2125.0 826.4 L2125.4 798.5 L2125.7 815.8 L2126.0 802.2 L2126.4 821.9 L2126.7 808.8 L2127.0 837.9 L2127.3 809.0 L2127.7 836.7 L2128.0 812.3 L2128.3 851.7 L2128.7 815.7 L2129.0 804.3 L2129.3 807.8 L2129.6 797.3 L2130.0 830.4 L2130.3 791.7 L2130.6 791.1 L2131.0 831.8 L2131.3 825.7 L2131.6 822.2 L2131.9 814.0 L2132.3 810.7 L2132.6 849.2 L2132.9 804.2 L2133.3 816.4 L2133.6 827.3 L2133.9 798.2 L2134.2 817.0 L2134.6 795.1 L2134.9 803.7 L2135.2 816.1 L2135.6 794.1 L2135.9 799.4 L2136.2 818.6 L2136.5 834.9 L2136.9 819.3 L2137.2 802.3 L2137.5 815.0 L2137.8 785.7 L2138.2 808.0 L2138.5 809.2 L2138.8 806.4 L2139.2 825.7 L2139.5 814.9 L2139.8 823.2 L2140.1 848.6 L2140.5 840.7 L2140.8 804.1 L2141.1 822.2 L2141.5 818.1 L2141.8 838.9 L2142.1 826.4 L2142.4 806.9 L2142.8 817.9 L2143.1 827.9 L2143.4 798.3 L2143.8 822.9 L2144.1 828.1 L2144.4 806.8 L2144.7 850.7 L2145.1 817.6 L2145.4 843.5 L2145.7 839.6 L2146.1 839.1 L2146.4 827.9 L2146.7 829.2 L2147.0 827.2 L2147.4 829.6 L2147.7 812.6 L2148.0 809.2 L2148.4 824.8 L2148.7 824.9 L2149.0 842.7 L2149.3 854.4 L2149.7 829.7 L2150.0 838.8 L2150.3 827.1 L2150.7 868.2 L2151.0 800.9 L2151.3 861.1 L2151.6 842.0 L2152.0 828.0 L2152.3 864.4 L2152.6 852.3 L2153.0 874.9 L2153.3 866.4 L2153.6 874.4 L2153.9 843.7 L2154.3 841.1 L2154.6 850.6 L2154.9 826.8 L2155.3 825.0 L2155.6 846.3 L2155.9 849.7 L2156.2 850.5 L2156.6 853.3 L2156.9 826.5 L2157.2 842.8 L2157.6 851.6 L2157.9 850.1 L2158.2 838.4 L2158.5 852.9 L2158.9 842.0 L2159.2 847.5 L2159.5 826.3 L2159.9 829.3 L2160.2 868.8 L2160.5 849.6 L2160.8 836.3 L2161.2 854.1 L2161.5 834.9 L2161.8 842.2 L2162.2 838.3 L2162.5 848.4 L2162.8 842.9 L2163.1 839.6 L2163.5 870.2 L2163.8 861.9 L2164.1 863.6 L2164.5 822.5 L2164.8 843.8 L2165.1 843.0 L2165.4 846.3 L2165.8 857.2 L2166.1 861.0 L2166.4 837.0 L2166.8 856.1 L2167.1 826.7 L2167.4 848.3 L2167.7 850.3 L2168.1 855.5 L2168.4 853.8 L2168.7 852.7 L2169.1 830.5 L2169.4 818.6 L2169.7 872.4 L2170.0 851.5 L2170.4 845.1 L2170.7 870.2 L2171.0 866.6 L2171.4 864.5 L2171.7 894.7 L2172.0 848.6 L2172.3 859.6 L2172.7 860.8 L2173.0 858.5 L2173.3 856.3 L2173.7 825.2 L2174.0 858.0 L2174.3 848.4 L2174.6 869.3 L2175.0 856.3 L2175.3 866.7 L2175.6 864.4 L2176.0 876.1 L2176.3 874.9 L2176.6 855.7 L2176.9 851.4 L2177.3 855.9 L2177.6 873.2 L2177.9 858.2 L2178.3 901.5 L2178.6 848.6 L2178.9 863.4 L2179.2 858.6 L2179.6 844.9 L2179.9 868.9 L2180.2 847.8 L2180.6 868.8 L2180.9 853.7 L2181.2 868.0 L2181.5 857.0 L2181.9 839.4 L2182.2 870.7 L2182.5 869.4 L2182.9 864.5 L2183.2 854.4 L2183.5 816.6 L2183.8 866.5 L2184.2 888.2 L2184.5 866.6 L2184.8 880.1 L2185.2 864.1 L2185.5 854.8 L2185.8 869.2 L2186.1 864.5 L2186.5 882.1 L2186.8 850.5 L2187.1 864.3 L2187.5 836.0 L2187.8 836.2 L2188.1 865.1 L2188.4 857.2 L2188.8 850.5 L2189.1 839.5 L2189.4 876.2 L2189.8 851.7 L2190.1 822.1 L2190.4 851.5 L2190.7 846.7 L2191.1 849.8 L2191.4 867.8 L2191.7 835.2 L2192.1 845.3 L2192.4 846.8 L2192.7 838.1 L2193.0 837.1 L2193.4 877.6 L2193.7 841.4 L2194.0 857.4 L2194.4 846.0 L2194.7 859.0 L2195.0 861.2 L2195.3 833.5 L2195.7 847.8 L2196.0 851.8 L2196.3 851.7 L2196.6 845.9 L2197.0 847.2 L2197.3 882.6 L2197.6 859.7 L2198.0 849.9 L2198.3 834.8 L2198.6 825.5 L2198.9 860.2 L2199.3 816.8 L2199.6 844.6 L2199.9 838.6 L2200.3 854.0 L2200.6 854.9 L2200.9 823.8 L2201.2 848.7 L2201.6 846.6 L2201.9 827.2 L2202.2 818.3 L2202.6 866.6 L2202.9 846.2 L2203.2 843.0 L2203.5 814.8 L2203.9 804.3 L2204.2 841.4 L2204.5 834.1 L2204.9 825.8 L2205.2 820.5 L2205.5 841.4 L2205.8 822.7 L2206.2 844.6 L2206.5 872.5 L2206.8 851.7 L2207.2 826.6 L2207.5 816.6 L2207.8 859.4 L2208.1 850.8 L2208.5 822.9 L2208.8 869.3 L2209.1 810.2 L2209.5 801.1 L2209.8 856.3 L2210.1 800.3 L2210.4 811.5 L2210.8 786.2 L2211.1 799.7 L2211.4 804.3 L2211.8 796.7 L2212.1 782.7 L2212.4 790.4 L2212.7 789.9 L2213.1 807.6 L2213.4 778.7 L2213.7 782.4 L2214.1 755.5 L2214.4 778.2 L2214.7 777.0 L2215.0 782.1 L2215.4 762.1 L2215.7 772.7 L2216.0 777.7 L2216.4 745.9 L2216.7 742.4 L2217.0 770.9 L2217.3 777.7 L2217.7 748.9 L2218.0 774.5 L2218.3 726.5 L2218.7 765.7 L2219.0 751.8 L2219.3 782.3 L2219.6 766.6 L2220.0 752.9 L2220.3 762.9 L2220.6 777.5 L2221.0 739.3 L2221.3 764.0 L2221.6 779.0 L2221.9 786.1 L2222.3 783.8 L2222.6 764.0 L2222.9 795.2 L2223.3 786.5 L2223.6 800.5 L2223.9 774.2 L2224.2 796.0 L2224.6 784.0 L2224.9 790.2 L2225.2 808.4 L2225.6 792.4 L2225.9 790.9 L2226.2 822.4 L2226.5 797.8 L2226.9 758.6 L2227.2 815.4 L2227.5 803.4 L2227.9 833.4 L2228.2 808.7 L2228.5 825.1 L2228.8 806.5 L2229.2 819.4 L2229.5 836.8 L2229.8 804.2 L2230.2 824.3 L2230.5 836.7 L2230.8 821.3 L2231.1 837.0 L2231.5 817.1 L2231.8 824.1 L2232.1 828.7 L2232.5 813.3 L2232.8 841.9 L2233.1 808.2 L2233.4 851.7 L2233.8 797.7 L2234.1 817.9 L2234.4 823.4 L2234.8 829.0 L2235.1 808.7 L2235.4 817.3 L2235.7 815.5 L2236.1 795.6 L2236.4 814.0 L2236.7 808.1 L2237.1 795.1 L2237.4 782.2 L2237.7 795.2 L2238.0 786.2 L2238.4 782.7 L2238.7 767.7 L2239.0 751.9 L2239.4 778.2 L2239.7 761.0 L2240.0 753.0 L2240.3 737.8 L2240.7 719.2 L2241.0 731.4 L2241.3 721.4 L2241.7 703.2 L2242.0 725.4 L2242.3 713.2 L2242.6 703.4 L2243.0 692.8 L2243.3 685.5 L2243.6 690.4 L2244.0 661.0 L2244.3 687.5 L2244.6 680.5 L2244.9 665.4 L2245.3 669.6 L2245.6 680.1 L2245.9 677.6 L2246.3 675.1 L2246.6 688.0 L2246.9 683.8 L2247.2 706.1 L2247.6 698.4 L2247.9 723.0 L2248.2 718.1 L2248.6 725.1 L2248.9 699.6 L2249.2 724.1 L2249.5 717.9 L2249.9 736.0 L2250.2 729.6 L2250.5 732.7 L2250.9 741.8 L2251.2 721.7 L2251.5 754.5 L2251.8 726.5 L2252.2 701.3 L2252.5 745.2 L2252.8 734.3 L2253.2 753.8 L2253.5 733.9 L2253.8 754.5 L2254.1 723.8 L2254.5 736.6 L2254.8 752.1 L2255.1 743.8 L2255.4 745.8 L2255.8 728.2 L2256.1 712.5 L2256.4 726.3 L2256.8 734.2 L2257.1 728.4 L2257.4 715.1 L2257.7 744.5 L2258.1 706.4 L2258.4 707.1 L2258.7 740.1 L2259.1 695.1 L2259.4 727.6 L2259.7 709.3 L2260.0 691.5 L2260.4 724.0 L2260.7 725.5 L2261.0 715.8 L2261.4 714.5 L2261.7 702.6 L2262.0 706.4 L2262.3 705.5 L2262.7 704.8 L2263.0 700.9 L2263.3 708.5 L2263.7 694.3 L2264.0 698.1 L2264.3 710.1 L2264.6 676.6 L2265.0 713.4 L2265.3 690.0 L2265.6 707.8 L2266.0 695.2 L2266.3 693.9 L2266.6 690.5 L2266.9 684.6 L2267.3 712.4 L2267.6 669.3 L2267.9 699.6 L2268.3 715.3 L2268.6 723.1 L2268.9 679.9 L2269.2 689.7 L2269.6 711.2 L2269.9 703.3 L2270.2 698.1 L2270.6 714.6 L2270.9 722.8 L2271.2 719.9 L2271.5 711.0 L2271.9 723.0 L2272.2 740.6 L2272.5 717.9 L2272.9 751.0 L2273.2 740.9 L2273.5 718.0 L2273.8 732.8 L2274.2 735.0 L2274.5 738.8 L2274.8 729.2 L2275.2 745.3 L2275.5 772.1 L2275.8 746.0 L2276.1 791.5 L2276.5 780.6 L2276.8 735.2 L2277.1 744.6 L2277.5 766.7 L2277.8 763.8 L2278.1 764.0 L2278.4 753.9 L2278.8 780.0 L2279.1 783.8 L2279.4 782.6 L2279.8 774.3 L2280.1 774.8 L2280.4 785.9 L2280.7 772.1 L2281.1 798.9 L2281.4 787.8 L2281.7 798.4 L2282.1 804.8 L2282.4 775.3 L2282.7 799.0 L2283.0 810.5 L2283.4 797.5 L2283.7 814.1 L2284.0 792.9 L2284.4 790.9 L2284.7 789.9 L2285.0 821.5 L2285.3 809.8 L2285.7 782.4 L2286.0 813.7 L2286.3 793.5 L2286.7 791.0 L2287.0 834.7 L2287.3 798.0 L2287.6 805.9 L2288.0 805.2 L2288.3 794.3 L2288.6 813.5 L2289.0 820.0 L2289.3 812.9 L2289.6 827.8 L2289.9 816.1 L2290.3 854.0 L2290.6 799.0 L2290.9 833.2 L2291.3 817.8 L2291.6 821.7 L2291.9 825.3 L2292.2 825.6 L2292.6 826.6 L2292.9 852.4 L2293.2 836.4 L2293.6 810.7 L2293.9 844.0 L2294.2 844.6 L2294.5 797.4 L2294.9 811.0 L2295.2 805.7 L2295.5 829.1 L2295.9 824.8 L2296.2 817.3 L2296.5 820.1 L2296.8 829.5 L2297.2 849.6 L2297.5 838.4 L2297.8 849.5 L2298.2 803.4 L2298.5 832.1 L2298.8 828.3 L2299.1 820.9 L2299.5 824.2 L2299.8 815.9 L2300.1 832.1 L2300.5 844.4 L2300.8 795.6 L2301.1 830.7 L2301.4 826.2 L2301.8 829.8 L2302.1 825.1 L2302.4 815.7 L2302.8 804.0 L2303.1 828.7 L2303.4 808.1 L2303.7 820.5 L2304.1 792.3 L2304.4 825.5 L2304.7 805.0 L2305.1 794.7 L2305.4 822.4 L2305.7 800.0 L2306.0 797.8 L2306.4 809.2 L2306.7 799.3 L2307.0 780.7 L2307.4 789.2 L2307.7 796.5 L2308.0 791.7 L2308.3 780.8 L2308.7 767.7 L2309.0 772.3 L2309.3 771.3 L2309.7 758.2 L2310.0 798.0 L2310.3 794.6 L2310.6 803.7 L2311.0 760.6 L2311.3 800.0 L2311.6 768.5 L2312.0 756.3 L2312.3 782.8 L2312.6 771.5 L2312.9 764.7 L2313.3 750.3 L2313.6 777.9 L2313.9 752.8 L2314.3 746.7 L2314.6 752.6 L2314.9 751.3 L2315.2 736.4 L2315.6 748.6 L2315.9 750.9 L2316.2 754.2 L2316.5 741.2 L2316.9 752.6 L2317.2 740.4 L2317.5 747.2 L2317.9 734.2 L2318.2 758.4 L2318.5 747.6 L2318.8 744.4 L2319.2 744.0 L2319.5 735.4 L2319.8 745.2 L2320.2 739.5 L2320.5 726.9 L2320.8 741.8 L2321.1 766.6 L2321.5 772.3 L2321.8 746.9 L2322.1 761.2 L2322.5 754.0 L2322.8 761.1 L2323.1 743.5 L2323.4 746.2 L2323.8 777.3 L2324.1 760.8 L2324.4 769.5 L2324.8 783.9 L2325.1 760.2 L2325.4 771.9 L2325.7 765.8 L2326.1 740.8 L2326.4 757.2 L2326.7 761.5 L2327.1 782.7 L2327.4 794.3 L2327.7 763.8 L2328.0 785.6 L2328.4 782.3 L2328.7 789.2 L2329.0 784.2 L2329.4 754.8 L2329.7 792.2 L2330.0 793.1 L2330.3 787.9 L2330.7 788.0 L2331.0 809.2 L2331.3 818.1 L2331.7 803.1 L2332.0 799.2 L2332.3 808.0 L2332.6 811.9 L2333.0 812.0 L2333.3 805.4 L2333.6 802.5 L2334.0 823.9 L2334.3 809.8 L2334.6 798.1 L2334.9 805.3 L2335.3 822.8 L2335.6 809.6 L2335.9 805.4 L2336.3 795.0 L2336.6 828.5 L2336.9 796.9 L2337.2 813.1 L2337.6 804.2 L2337.9 797.8 L2338.2 819.6 L2338.6 819.0 L2338.9 809.5 L2339.2 798.0 L2339.5 815.8 L2339.9 828.1 L2340.2 818.3 L2340.5 803.4 L2340.9 792.7 L2341.2 816.0 L2341.5 813.6 L2341.8 811.7 L2342.2 811.2 L2342.5 822.6 L2342.8 815.6 L2343.2 806.5 L2343.5 808.2 L2343.8 809.4 L2344.1 823.8 L2344.5 817.5 L2344.8 819.9 L2345.1 795.3 L2345.5 789.8 L2345.8 805.4 L2346.1 788.0 L2346.4 814.4 L2346.8 814.4 L2347.1 828.6 L2347.4 807.3 L2347.8 817.0 L2348.1 809.4 L2348.4 803.9 L2348.7 814.2 L2349.1 826.5 L2349.4 811.5 L2349.7 812.0 L2350.1 810.6 L2350.4 801.6 L2350.7 814.0 L2351.0 814.8 L2351.4 786.8 L2351.7 796.0 L2352.0 812.3 L2352.4 824.1 L2352.7 817.3 L2353.0 805.7 L2353.3 799.3 L2353.7 777.4 L2354.0 814.5 L2354.3 809.0 L2354.7 816.1 L2355.0 810.0 L2355.3 816.6 L2355.6 826.2 L2356.0 797.0 L2356.3 809.6 L2356.6 793.4 L2357.0 818.5 L2357.3 807.9 L2357.6 802.4 L2357.9 838.0 L2358.3 830.3 L2358.6 801.4 L2358.9 810.6 L2359.3 837.9 L2359.6 822.6 L2359.9 827.2 L2360.2 819.3 L2360.6 791.1 L2360.9 820.9 L2361.2 784.6 L2361.6 816.7 L2361.9 823.6 L2362.2 791.5 L2362.5 800.3 L2362.9 794.4 L2363.2 786.6 L2363.5 799.1 L2363.9 797.0 L2364.2 838.3 L2364.5 825.9 L2364.8 808.2 L2365.2 811.6 L2365.5 804.5 L2365.8 821.3 L2366.2 799.1 L2366.5 786.4 L2366.8 806.5 L2367.1 802.9 L2367.5 807.5 L2367.8 801.6 L2368.1 811.6 L2368.5 821.7 L2368.8 811.8 L2369.1 813.0 L2369.4 836.0 L2369.8 811.2 L2370.1 814.1 L2370.4 811.5 L2370.8 822.1 L2371.1 807.6 L2371.4 805.6 L2371.7 824.3 L2372.1 809.8 L2372.4 803.4 L2372.7 804.0 L2373.1 827.4 L2373.4 828.9 L2373.7 814.3 L2374.0 829.4 L2374.4 779.8 L2374.7 826.4 L2375.0 826.4 L2375.3 806.3 L2375.7 822.2 L2376.0 848.7 L2376.3 818.1 L2376.7 830.1 L2377.0 823.9 L2377.3 839.4 L2377.6 829.7 L2378.0 819.6 L2378.3 818.6 L2378.6 833.4 L2379.0 828.1 L2379.3 830.2 L2379.6 816.5 L2379.9 820.8 L2380.3 836.4 L2380.6 810.1 L2380.9 829.0 L2381.3 814.0 L2381.6 832.4 L2381.9 815.6 L2382.2 821.6 L2382.6 819.3 L2382.9 813.2 L2383.2 814.2 L2383.6 818.2 L2383.9 818.3 L2384.2 838.4 L2384.5 821.7 L2384.9 851.4 L2385.2 852.2 L2385.5 825.3 L2385.9 824.1 L2386.2 800.1 L2386.5 811.7 L2386.8 805.6 L2387.2 825.4 L2387.5 814.9 L2387.8 804.8 L2388.2 813.7 L2388.5 816.1 L2388.8 819.6 L2389.1 833.8 L2389.5 833.5 L2389.8 841.0 L2390.1 815.3 L2390.5 824.8 L2390.8 830.5 L2391.1 816.2 L2391.4 829.2 L2391.8 806.7 L2392.1 794.7 L2392.4 815.1 L2392.8 831.2 L2393.1 842.6 L2393.4 793.8 L2393.7 815.8 L2394.1 838.6 L2394.4 807.4 L2394.7 845.8 L2395.1 828.9 L2395.4 826.2 L2395.7 828.1 L2396.0 839.1 L2396.4 789.9 L2396.7 829.0 L2397.0 818.2 L2397.4 823.2 L2397.7 846.1 L2398.0 831.5 L2398.3 821.0 L2398.7 811.0 L2399.0 828.9 L2399.3 818.9 L2399.7 828.8 L2400.0 815.8 L2400.3 858.4 L2400.6 815.4 L2401.0 832.3 L2401.3 831.6 L2401.6 862.9 L2402.0 837.8 L2402.3 814.1 L2402.6 790.0 L2402.9 831.7 L2403.3 830.7 L2403.6 814.2" fill="none" stroke="#555555" stroke-width="2.8" stroke-linejoin="round" stroke-linecap="round"/>
</g>
<text transform="translate(1394.51 128.60) scale(1.0125 1)" font-family="'Liberation Sans', Arial, Helvetica, sans-serif" font-size="51" fill="#000" stroke="#fefefe" stroke-width="0.9" vector-effect="non-scaling-stroke" stroke-linejoin="round">(b)</text>
<text transform="translate(1753.81 112.10) scale(0.9674 1)" font-family="'Liberation Sans', Arial, Helvetica, sans-serif" font-size="39.5" fill="#000" stroke="#fefefe" stroke-width="0.35" vector-effect="non-scaling-stroke" stroke-linejoin="round">ITO</text>
<text transform="translate(1845.72 111.00) scale(1.0410 1)" font-family="'Liberation Sans', Arial, Helvetica, sans-serif" font-size="40" fill="#000" stroke="#fefefe" stroke-width="0.35" vector-effect="non-scaling-stroke" stroke-linejoin="round">211</text>
<text transform="translate(1699.88 365.00) scale(0.9774 1)" font-family="'Liberation Sans', Arial, Helvetica, sans-serif" font-size="39.5" fill="#000" stroke="#fefefe" stroke-width="0.35" vector-effect="non-scaling-stroke" stroke-linejoin="round">ITO</text>
<text transform="translate(1752.66 401.70) scale(1.0398 1)" font-family="'Liberation Sans', Arial, Helvetica, sans-serif" font-size="37" fill="#000" stroke="#fefefe" stroke-width="0.35" vector-effect="non-scaling-stroke" stroke-linejoin="round">(103)</text>
<text transform="translate(1646.35 518.40) scale(1.1772 1)" font-family="'Liberation Sans', Arial, Helvetica, sans-serif" font-size="37" fill="#000" stroke="#fefefe" stroke-width="0.35" vector-effect="non-scaling-stroke" stroke-linejoin="round">(112)</text>
<text transform="translate(1505.06 666.00) scale(1.0385 1)" font-family="'Liberation Sans', Arial, Helvetica, sans-serif" font-size="37" fill="#000" stroke="#fefefe" stroke-width="0.35" vector-effect="non-scaling-stroke" stroke-linejoin="round">(101)</text>
<text transform="translate(1887.59 755.30) scale(1.0287 1)" font-family="'Liberation Sans', Arial, Helvetica, sans-serif" font-size="37" fill="#000" stroke="#fefefe" stroke-width="0.35" vector-effect="non-scaling-stroke" stroke-linejoin="round">(004)</text>
<text transform="translate(1951.46 683.30) scale(1.0398 1)" font-family="'Liberation Sans', Arial, Helvetica, sans-serif" font-size="37" fill="#000" stroke="#fefefe" stroke-width="0.35" vector-effect="non-scaling-stroke" stroke-linejoin="round">(220)</text>
<text transform="translate(2040.90 648.20) scale(1.0276 1)" font-family="'Liberation Sans', Arial, Helvetica, sans-serif" font-size="39.5" fill="#000" stroke="#fefefe" stroke-width="0.35" vector-effect="non-scaling-stroke" stroke-linejoin="round">ITO</text>
<text transform="translate(2153.10 736.60) scale(1.0226 1)" font-family="'Liberation Sans', Arial, Helvetica, sans-serif" font-size="37" fill="#000" stroke="#fefefe" stroke-width="0.35" vector-effect="non-scaling-stroke" stroke-linejoin="round">(321)</text>
<text transform="translate(2201.03 653.00) scale(0.9640 1)" font-family="'Liberation Sans', Arial, Helvetica, sans-serif" font-size="39.5" fill="#000" stroke="#fefefe" stroke-width="0.35" vector-effect="non-scaling-stroke" stroke-linejoin="round">ITO</text>
<text transform="translate(2268.26 658.80) scale(1.0398 1)" font-family="'Liberation Sans', Arial, Helvetica, sans-serif" font-size="37" fill="#000" stroke="#fefefe" stroke-width="0.35" vector-effect="non-scaling-stroke" stroke-linejoin="round">(224)</text>
<text transform="translate(2305.19 713.50) scale(1.0287 1)" font-family="'Liberation Sans', Arial, Helvetica, sans-serif" font-size="37" fill="#000" stroke="#fefefe" stroke-width="0.35" vector-effect="non-scaling-stroke" stroke-linejoin="round">(400)</text>
<text transform="translate(1399.02 959.50) scale(1.0600 1)" font-family="'Liberation Sans', Arial, Helvetica, sans-serif" font-size="40" fill="#000" stroke="#fefefe" stroke-width="0.35" vector-effect="non-scaling-stroke" stroke-linejoin="round">10</text>
<text transform="translate(1561.38 959.50) scale(1.0600 1)" font-family="'Liberation Sans', Arial, Helvetica, sans-serif" font-size="40" fill="#000" stroke="#fefefe" stroke-width="0.35" vector-effect="non-scaling-stroke" stroke-linejoin="round">20</text>
<text transform="translate(1724.61 959.50) scale(1.0600 1)" font-family="'Liberation Sans', Arial, Helvetica, sans-serif" font-size="40" fill="#000" stroke="#fefefe" stroke-width="0.35" vector-effect="non-scaling-stroke" stroke-linejoin="round">30</text>
<text transform="translate(1889.34 959.50) scale(1.0600 1)" font-family="'Liberation Sans', Arial, Helvetica, sans-serif" font-size="40" fill="#000" stroke="#fefefe" stroke-width="0.35" vector-effect="non-scaling-stroke" stroke-linejoin="round">40</text>
<text transform="translate(2054.14 959.50) scale(1.0600 1)" font-family="'Liberation Sans', Arial, Helvetica, sans-serif" font-size="40" fill="#000" stroke="#fefefe" stroke-width="0.35" vector-effect="non-scaling-stroke" stroke-linejoin="round">50</text>
<text transform="translate(2216.68 959.50) scale(1.0600 1)" font-family="'Liberation Sans', Arial, Helvetica, sans-serif" font-size="40" fill="#000" stroke="#fefefe" stroke-width="0.35" vector-effect="non-scaling-stroke" stroke-linejoin="round">60</text>
<text transform="translate(2380.88 959.50) scale(1.0600 1)" font-family="'Liberation Sans', Arial, Helvetica, sans-serif" font-size="40" fill="#000" stroke="#fefefe" stroke-width="0.35" vector-effect="non-scaling-stroke" stroke-linejoin="round">70</text>
<text transform="translate(1826.85 999.10) scale(1.0241 1)" font-family="'Liberation Sans', Arial, Helvetica, sans-serif" font-size="40" fill="#000" stroke="#fefefe" stroke-width="0.35" vector-effect="non-scaling-stroke" stroke-linejoin="round">2<tspan font-style="italic">θ</tspan></text>
<text transform="translate(1295.50 618.73) rotate(-90) scale(0.9952 1)" font-family="'Liberation Sans', Arial, Helvetica, sans-serif" font-size="40" fill="#000" stroke="#fefefe" stroke-width="0.35" vector-effect="non-scaling-stroke" stroke-linejoin="round">Intensity (a. u.)</text>
<rect x="164.50" y="1021.80" width="1074.70" height="853.50" fill="none" stroke="#000" stroke-width="3.4"/>
<line x1="165.10" y1="1875.30" x2="165.10" y2="1882.80" stroke="#000" stroke-width="3.0" stroke-linecap="butt"/>
<line x1="247.70" y1="1021.80" x2="247.70" y2="1039.30" stroke="#000" stroke-width="3.0" stroke-linecap="butt"/>
<line x1="247.70" y1="1875.30" x2="247.70" y2="1890.30" stroke="#000" stroke-width="3.0" stroke-linecap="butt"/>
<line x1="330.30" y1="1021.80" x2="330.30" y2="1030.80" stroke="#000" stroke-width="3.0" stroke-linecap="butt"/>
<line x1="330.30" y1="1875.30" x2="330.30" y2="1882.80" stroke="#000" stroke-width="3.0" stroke-linecap="butt"/>
<line x1="412.90" y1="1021.80" x2="412.90" y2="1039.30" stroke="#000" stroke-width="3.0" stroke-linecap="butt"/>
<line x1="412.90" y1="1875.30" x2="412.90" y2="1890.30" stroke="#000" stroke-width="3.0" stroke-linecap="butt"/>
<line x1="495.50" y1="1021.80" x2="495.50" y2="1030.80" stroke="#000" stroke-width="3.0" stroke-linecap="butt"/>
<line x1="495.50" y1="1875.30" x2="495.50" y2="1882.80" stroke="#000" stroke-width="3.0" stroke-linecap="butt"/>
<line x1="578.10" y1="1021.80" x2="578.10" y2="1039.30" stroke="#000" stroke-width="3.0" stroke-linecap="butt"/>
<line x1="578.10" y1="1875.30" x2="578.10" y2="1890.30" stroke="#000" stroke-width="3.0" stroke-linecap="butt"/>
<line x1="660.70" y1="1021.80" x2="660.70" y2="1030.80" stroke="#000" stroke-width="3.0" stroke-linecap="butt"/>
<line x1="660.70" y1="1875.30" x2="660.70" y2="1882.80" stroke="#000" stroke-width="3.0" stroke-linecap="butt"/>
<line x1="743.30" y1="1021.80" x2="743.30" y2="1039.30" stroke="#000" stroke-width="3.0" stroke-linecap="butt"/>
<line x1="743.30" y1="1875.30" x2="743.30" y2="1890.30" stroke="#000" stroke-width="3.0" stroke-linecap="butt"/>
<line x1="825.90" y1="1021.80" x2="825.90" y2="1030.80" stroke="#000" stroke-width="3.0" stroke-linecap="butt"/>
<line x1="825.90" y1="1875.30" x2="825.90" y2="1882.80" stroke="#000" stroke-width="3.0" stroke-linecap="butt"/>
<line x1="908.50" y1="1021.80" x2="908.50" y2="1039.30" stroke="#000" stroke-width="3.0" stroke-linecap="butt"/>
<line x1="908.50" y1="1875.30" x2="908.50" y2="1890.30" stroke="#000" stroke-width="3.0" stroke-linecap="butt"/>
<line x1="991.10" y1="1021.80" x2="991.10" y2="1030.80" stroke="#000" stroke-width="3.0" stroke-linecap="butt"/>
<line x1="991.10" y1="1875.30" x2="991.10" y2="1882.80" stroke="#000" stroke-width="3.0" stroke-linecap="butt"/>
<line x1="1073.70" y1="1021.80" x2="1073.70" y2="1039.30" stroke="#000" stroke-width="3.0" stroke-linecap="butt"/>
<line x1="1073.70" y1="1875.30" x2="1073.70" y2="1890.30" stroke="#000" stroke-width="3.0" stroke-linecap="butt"/>
<line x1="1156.30" y1="1021.80" x2="1156.30" y2="1030.80" stroke="#000" stroke-width="3.0" stroke-linecap="butt"/>
<line x1="1156.30" y1="1875.30" x2="1156.30" y2="1882.80" stroke="#000" stroke-width="3.0" stroke-linecap="butt"/>
<line x1="1238.90" y1="1875.30" x2="1238.90" y2="1890.30" stroke="#000" stroke-width="3.0" stroke-linecap="butt"/>
<line x1="147.50" y1="1875.30" x2="164.50" y2="1875.30" stroke="#000" stroke-width="3.4" stroke-linecap="butt"/>
<line x1="383.30" y1="1875.30" x2="383.30" y2="1789.70" stroke="#000" stroke-width="3.0" stroke-linecap="butt"/>
<line x1="565.30" y1="1875.30" x2="565.30" y2="1491.50" stroke="#000" stroke-width="3.0" stroke-linecap="butt"/>
<line x1="597.70" y1="1875.30" x2="597.70" y2="1713.70" stroke="#000" stroke-width="3.0" stroke-linecap="butt"/>
<line x1="627.70" y1="1875.30" x2="627.70" y2="1322.30" stroke="#000" stroke-width="3.0" stroke-linecap="butt"/>
<line x1="683.20" y1="1875.30" x2="683.20" y2="1021.80" stroke="#000" stroke-width="3.0" stroke-linecap="butt"/>
<line x1="692.30" y1="1875.30" x2="692.30" y2="1772.30" stroke="#000" stroke-width="3.0" stroke-linecap="butt"/>
<line x1="726.70" y1="1875.30" x2="726.70" y2="1789.70" stroke="#000" stroke-width="3.0" stroke-linecap="butt"/>
<line x1="821.70" y1="1875.30" x2="821.70" y2="1738.00" stroke="#000" stroke-width="3.0" stroke-linecap="butt"/>
<line x1="920.00" y1="1875.30" x2="920.00" y2="1813.00" stroke="#000" stroke-width="3.0" stroke-linecap="butt"/>
<line x1="939.30" y1="1875.30" x2="939.30" y2="1746.30" stroke="#000" stroke-width="3.0" stroke-linecap="butt"/>
<line x1="981.70" y1="1875.30" x2="981.70" y2="1772.30" stroke="#000" stroke-width="3.0" stroke-linecap="butt"/>
<line x1="1019.30" y1="1875.30" x2="1019.30" y2="1797.30" stroke="#000" stroke-width="3.0" stroke-linecap="butt"/>
<line x1="1057.30" y1="1875.30" x2="1057.30" y2="1662.30" stroke="#000" stroke-width="3.0" stroke-linecap="butt"/>
<line x1="1087.30" y1="1875.30" x2="1087.30" y2="1535.50" stroke="#000" stroke-width="3.0" stroke-linecap="butt"/>
<line x1="1151.70" y1="1875.30" x2="1151.70" y2="1839.70" stroke="#000" stroke-width="3.0" stroke-linecap="butt"/>
<line x1="1159.30" y1="1875.30" x2="1159.30" y2="1730.70" stroke="#000" stroke-width="3.0" stroke-linecap="butt"/>
<line x1="1176.00" y1="1875.30" x2="1176.00" y2="1856.30" stroke="#000" stroke-width="3.0" stroke-linecap="butt"/>
<line x1="1211.00" y1="1875.30" x2="1211.00" y2="1864.70" stroke="#000" stroke-width="3.0" stroke-linecap="butt"/>
<line x1="1225.70" y1="1875.30" x2="1225.70" y2="1856.30" stroke="#000" stroke-width="3.0" stroke-linecap="butt"/>
<circle cx="1255" cy="1840.3" r="1.6" fill="#444"/><circle cx="1282.7" cy="1858.7" r="1.4" fill="#555"/>
<text transform="translate(204.24 1117.10) scale(1.0742 1)" font-family="'Liberation Sans', Arial, Helvetica, sans-serif" font-size="55" fill="#000" stroke="#fefefe" stroke-width="1.0" vector-effect="non-scaling-stroke" stroke-linejoin="round">(c)</text>
<text transform="translate(695.95 1113.30) scale(1.0462 1)" font-family="'Liberation Sans', Arial, Helvetica, sans-serif" font-size="38" fill="#1a1a1a" stroke="#fefefe" stroke-width="0.35" vector-effect="non-scaling-stroke" stroke-linejoin="round">(211)</text>
<text transform="translate(579.43 1296.70) scale(1.0089 1)" font-family="'Liberation Sans', Arial, Helvetica, sans-serif" font-size="38" fill="#1a1a1a" stroke="#fefefe" stroke-width="0.35" vector-effect="non-scaling-stroke" stroke-linejoin="round">(103)</text>
<text transform="translate(533.35 1460.70) scale(1.0462 1)" font-family="'Liberation Sans', Arial, Helvetica, sans-serif" font-size="38" fill="#1a1a1a" stroke="#fefefe" stroke-width="0.35" vector-effect="non-scaling-stroke" stroke-linejoin="round">(112)</text>
<text transform="translate(337.73 1769.70) scale(1.0089 1)" font-family="'Liberation Sans', Arial, Helvetica, sans-serif" font-size="38" fill="#1a1a1a" stroke="#fefefe" stroke-width="0.35" vector-effect="non-scaling-stroke" stroke-linejoin="round">(101)</text>
<text transform="translate(706.03 1754.70) scale(1.0089 1)" font-family="'Liberation Sans', Arial, Helvetica, sans-serif" font-size="38" fill="#1a1a1a" stroke="#fefefe" stroke-width="0.35" vector-effect="non-scaling-stroke" stroke-linejoin="round">(004)</text>
<text transform="translate(782.03 1713.00) scale(1.0089 1)" font-family="'Liberation Sans', Arial, Helvetica, sans-serif" font-size="38" fill="#1a1a1a" stroke="#fefefe" stroke-width="0.35" vector-effect="non-scaling-stroke" stroke-linejoin="round">(220)</text>
<text transform="translate(992.73 1628.70) scale(1.0089 1)" font-family="'Liberation Sans', Arial, Helvetica, sans-serif" font-size="38" fill="#1a1a1a" stroke="#fefefe" stroke-width="0.35" vector-effect="non-scaling-stroke" stroke-linejoin="round">(321)</text>
<text transform="translate(1040.43 1504.20) scale(1.0089 1)" font-family="'Liberation Sans', Arial, Helvetica, sans-serif" font-size="38" fill="#1a1a1a" stroke="#fefefe" stroke-width="0.35" vector-effect="non-scaling-stroke" stroke-linejoin="round">(224)</text>
<text transform="translate(1129.43 1707.00) scale(1.0089 1)" font-family="'Liberation Sans', Arial, Helvetica, sans-serif" font-size="38" fill="#1a1a1a" stroke="#fefefe" stroke-width="0.35" vector-effect="non-scaling-stroke" stroke-linejoin="round">(400)</text>
<text transform="translate(227.95 1935.30) scale(1.0175 1)" font-family="'Liberation Sans', Arial, Helvetica, sans-serif" font-size="40" fill="#000" stroke="#fefefe" stroke-width="0.35" vector-effect="non-scaling-stroke" stroke-linejoin="round">10</text>
<text transform="translate(391.22 1935.30) scale(1.0415 1)" font-family="'Liberation Sans', Arial, Helvetica, sans-serif" font-size="40" fill="#000" stroke="#fefefe" stroke-width="0.35" vector-effect="non-scaling-stroke" stroke-linejoin="round">20</text>
<text transform="translate(557.42 1935.30) scale(1.0530 1)" font-family="'Liberation Sans', Arial, Helvetica, sans-serif" font-size="40" fill="#000" stroke="#fefefe" stroke-width="0.35" vector-effect="non-scaling-stroke" stroke-linejoin="round">30</text>
<text transform="translate(722.27 1935.30) scale(1.0333 1)" font-family="'Liberation Sans', Arial, Helvetica, sans-serif" font-size="40" fill="#000" stroke="#fefefe" stroke-width="0.35" vector-effect="non-scaling-stroke" stroke-linejoin="round">40</text>
<text transform="translate(886.43 1935.30) scale(1.0667 1)" font-family="'Liberation Sans', Arial, Helvetica, sans-serif" font-size="40" fill="#000" stroke="#fefefe" stroke-width="0.35" vector-effect="non-scaling-stroke" stroke-linejoin="round">50</text>
<text transform="translate(1051.15 1935.30) scale(1.0732 1)" font-family="'Liberation Sans', Arial, Helvetica, sans-serif" font-size="40" fill="#000" stroke="#fefefe" stroke-width="0.35" vector-effect="non-scaling-stroke" stroke-linejoin="round">60</text>
<text transform="translate(1217.89 1935.30) scale(1.0561 1)" font-family="'Liberation Sans', Arial, Helvetica, sans-serif" font-size="40" fill="#000" stroke="#fefefe" stroke-width="0.35" vector-effect="non-scaling-stroke" stroke-linejoin="round">70</text>
<text transform="translate(117.05 1884.60) scale(1.0033 1)" font-family="'Liberation Sans', Arial, Helvetica, sans-serif" font-size="32" fill="#333" stroke="#fefefe" stroke-width="0.35" vector-effect="non-scaling-stroke" stroke-linejoin="round">0</text>
<text transform="translate(645.48 1971.30) scale(1.0120 1)" font-family="'Liberation Sans', Arial, Helvetica, sans-serif" font-size="40" fill="#000" stroke="#fefefe" stroke-width="0.35" vector-effect="non-scaling-stroke" stroke-linejoin="round">2<tspan font-style="italic">θ</tspan></text>
<text transform="translate(82.80 1582.43) rotate(-90) scale(0.9946 1)" font-family="'Liberation Sans', Arial, Helvetica, sans-serif" font-size="40" fill="#000" stroke="#fefefe" stroke-width="0.35" vector-effect="non-scaling-stroke" stroke-linejoin="round">Relative intensity</text>
<rect x="1336.00" y="1020.40" width="1067.60" height="852.60" fill="none" stroke="#000" stroke-width="3.4"/>
<line x1="1336.00" y1="1873.00" x2="1336.00" y2="1882.00" stroke="#000" stroke-width="3.0" stroke-linecap="butt"/>
<line x1="1418.12" y1="1020.40" x2="1418.12" y2="1037.40" stroke="#000" stroke-width="3.0" stroke-linecap="butt"/>
<line x1="1418.12" y1="1873.00" x2="1418.12" y2="1889.50" stroke="#000" stroke-width="3.0" stroke-linecap="butt"/>
<line x1="1500.25" y1="1020.40" x2="1500.25" y2="1029.90" stroke="#000" stroke-width="3.0" stroke-linecap="butt"/>
<line x1="1500.25" y1="1873.00" x2="1500.25" y2="1882.00" stroke="#000" stroke-width="3.0" stroke-linecap="butt"/>
<line x1="1582.37" y1="1020.40" x2="1582.37" y2="1037.40" stroke="#000" stroke-width="3.0" stroke-linecap="butt"/>
<line x1="1582.37" y1="1873.00" x2="1582.37" y2="1889.50" stroke="#000" stroke-width="3.0" stroke-linecap="butt"/>
<line x1="1664.49" y1="1020.40" x2="1664.49" y2="1029.90" stroke="#000" stroke-width="3.0" stroke-linecap="butt"/>
<line x1="1664.49" y1="1873.00" x2="1664.49" y2="1882.00" stroke="#000" stroke-width="3.0" stroke-linecap="butt"/>
<line x1="1746.62" y1="1020.40" x2="1746.62" y2="1037.40" stroke="#000" stroke-width="3.0" stroke-linecap="butt"/>
<line x1="1746.62" y1="1873.00" x2="1746.62" y2="1889.50" stroke="#000" stroke-width="3.0" stroke-linecap="butt"/>
<line x1="1828.74" y1="1020.40" x2="1828.74" y2="1029.90" stroke="#000" stroke-width="3.0" stroke-linecap="butt"/>
<line x1="1828.74" y1="1873.00" x2="1828.74" y2="1882.00" stroke="#000" stroke-width="3.0" stroke-linecap="butt"/>
<line x1="1910.86" y1="1020.40" x2="1910.86" y2="1037.40" stroke="#000" stroke-width="3.0" stroke-linecap="butt"/>
<line x1="1910.86" y1="1873.00" x2="1910.86" y2="1889.50" stroke="#000" stroke-width="3.0" stroke-linecap="butt"/>
<line x1="1992.98" y1="1020.40" x2="1992.98" y2="1029.90" stroke="#000" stroke-width="3.0" stroke-linecap="butt"/>
<line x1="1992.98" y1="1873.00" x2="1992.98" y2="1882.00" stroke="#000" stroke-width="3.0" stroke-linecap="butt"/>
<line x1="2075.11" y1="1020.40" x2="2075.11" y2="1037.40" stroke="#000" stroke-width="3.0" stroke-linecap="butt"/>
<line x1="2075.11" y1="1873.00" x2="2075.11" y2="1889.50" stroke="#000" stroke-width="3.0" stroke-linecap="butt"/>
<line x1="2157.23" y1="1020.40" x2="2157.23" y2="1029.90" stroke="#000" stroke-width="3.0" stroke-linecap="butt"/>
<line x1="2157.23" y1="1873.00" x2="2157.23" y2="1882.00" stroke="#000" stroke-width="3.0" stroke-linecap="butt"/>
<line x1="2239.35" y1="1020.40" x2="2239.35" y2="1037.40" stroke="#000" stroke-width="3.0" stroke-linecap="butt"/>
<line x1="2239.35" y1="1873.00" x2="2239.35" y2="1889.50" stroke="#000" stroke-width="3.0" stroke-linecap="butt"/>
<line x1="2321.48" y1="1020.40" x2="2321.48" y2="1029.90" stroke="#000" stroke-width="3.0" stroke-linecap="butt"/>
<line x1="2321.48" y1="1873.00" x2="2321.48" y2="1882.00" stroke="#000" stroke-width="3.0" stroke-linecap="butt"/>
<line x1="2403.60" y1="1873.00" x2="2403.60" y2="1889.50" stroke="#000" stroke-width="3.0" stroke-linecap="butt"/>
<g clip-path="url(#clipD)">
<path d="M1336.0 1762.7 L1336.3 1767.6 L1336.7 1771.6 L1337.0 1806.2 L1337.3 1763.3 L1337.6 1802.4 L1338.0 1755.2 L1338.3 1759.5 L1338.6 1755.7 L1339.0 1755.3 L1339.3 1763.0 L1339.6 1775.4 L1339.9 1771.5 L1340.3 1743.2 L1340.6 1774.7 L1340.9 1768.8 L1341.3 1775.9 L1341.6 1772.2 L1341.9 1768.4 L1342.2 1759.3 L1342.6 1767.1 L1342.9 1767.4 L1343.2 1770.8 L1343.6 1759.5 L1343.9 1780.7 L1344.2 1758.9 L1344.5 1739.2 L1344.9 1770.0 L1345.2 1758.4 L1345.5 1714.5 L1345.9 1771.2 L1346.2 1780.4 L1346.5 1762.1 L1346.8 1728.2 L1347.2 1724.4 L1347.5 1773.1 L1347.8 1745.8 L1348.2 1754.0 L1348.5 1762.6 L1348.8 1782.7 L1349.1 1737.6 L1349.5 1765.6 L1349.8 1747.8 L1350.1 1750.7 L1350.5 1723.3 L1350.8 1733.4 L1351.1 1768.2 L1351.4 1754.3 L1351.8 1734.4 L1352.1 1769.7 L1352.4 1755.2 L1352.8 1745.4 L1353.1 1772.9 L1353.4 1766.8 L1353.7 1773.5 L1354.1 1743.2 L1354.4 1755.7 L1354.7 1732.9 L1355.1 1745.0 L1355.4 1737.8 L1355.7 1747.5 L1356.0 1734.7 L1356.4 1747.4 L1356.7 1760.5 L1357.0 1727.8 L1357.4 1730.7 L1357.7 1711.2 L1358.0 1747.5 L1358.3 1754.0 L1358.7 1767.0 L1359.0 1803.3 L1359.3 1764.8 L1359.7 1737.7 L1360.0 1758.4 L1360.3 1784.2 L1360.6 1736.0 L1361.0 1754.2 L1361.3 1750.7 L1361.6 1751.9 L1362.0 1747.5 L1362.3 1738.4 L1362.6 1771.8 L1362.9 1749.1 L1363.3 1753.4 L1363.6 1728.7 L1363.9 1761.5 L1364.3 1721.3 L1364.6 1736.9 L1364.9 1721.6 L1365.2 1756.7 L1365.6 1733.9 L1365.9 1740.5 L1366.2 1768.5 L1366.5 1749.8 L1366.9 1752.7 L1367.2 1760.3 L1367.5 1757.3 L1367.9 1767.3 L1368.2 1752.6 L1368.5 1740.4 L1368.8 1757.1 L1369.2 1768.9 L1369.5 1729.5 L1369.8 1750.7 L1370.2 1744.6 L1370.5 1748.4 L1370.8 1752.9 L1371.1 1735.6 L1371.5 1752.5 L1371.8 1744.0 L1372.1 1766.1 L1372.5 1769.0 L1372.8 1750.1 L1373.1 1715.4 L1373.4 1741.4 L1373.8 1715.0 L1374.1 1737.3 L1374.4 1737.2 L1374.8 1752.9 L1375.1 1744.5 L1375.4 1717.2 L1375.7 1726.4 L1376.1 1753.8 L1376.4 1751.5 L1376.7 1724.4 L1377.1 1752.4 L1377.4 1731.0 L1377.7 1758.7 L1378.0 1735.7 L1378.4 1722.4 L1378.7 1733.0 L1379.0 1742.1 L1379.4 1743.8 L1379.7 1747.4 L1380.0 1746.7 L1380.3 1728.8 L1380.7 1729.4 L1381.0 1740.8 L1381.3 1766.0 L1381.7 1755.1 L1382.0 1742.9 L1382.3 1746.7 L1382.6 1767.9 L1383.0 1737.6 L1383.3 1708.5 L1383.6 1766.2 L1384.0 1746.8 L1384.3 1723.4 L1384.6 1754.1 L1384.9 1754.0 L1385.3 1745.4 L1385.6 1739.4 L1385.9 1754.2 L1386.3 1733.4 L1386.6 1776.8 L1386.9 1738.4 L1387.2 1742.8 L1387.6 1750.8 L1387.9 1742.6 L1388.2 1747.8 L1388.6 1728.6 L1388.9 1755.6 L1389.2 1749.3 L1389.5 1769.6 L1389.9 1765.7 L1390.2 1752.4 L1390.5 1772.2 L1390.9 1761.6 L1391.2 1768.8 L1391.5 1756.3 L1391.8 1747.1 L1392.2 1734.7 L1392.5 1778.1 L1392.8 1752.0 L1393.2 1735.9 L1393.5 1728.2 L1393.8 1727.9 L1394.1 1770.6 L1394.5 1756.8 L1394.8 1740.5 L1395.1 1734.9 L1395.5 1744.7 L1395.8 1744.9 L1396.1 1745.3 L1396.4 1760.4 L1396.8 1746.4 L1397.1 1736.5 L1397.4 1753.8 L1397.8 1731.0 L1398.1 1791.3 L1398.4 1753.4 L1398.7 1722.9 L1399.1 1735.2 L1399.4 1726.6 L1399.7 1746.0 L1400.1 1765.9 L1400.4 1755.7 L1400.7 1725.0 L1401.0 1775.4 L1401.4 1762.0 L1401.7 1773.2 L1402.0 1756.0 L1402.4 1754.8 L1402.7 1740.1 L1403.0 1761.8 L1403.3 1723.9 L1403.7 1740.6 L1404.0 1758.0 L1404.3 1766.4 L1404.7 1774.6 L1405.0 1750.5 L1405.3 1722.6 L1405.6 1755.8 L1406.0 1769.5 L1406.3 1755.1 L1406.6 1762.6 L1407.0 1769.1 L1407.3 1784.8 L1407.6 1757.0 L1407.9 1733.8 L1408.3 1738.3 L1408.6 1742.6 L1408.9 1755.0 L1409.3 1751.6 L1409.6 1743.8 L1409.9 1760.8 L1410.2 1756.2 L1410.6 1767.3 L1410.9 1744.3 L1411.2 1776.6 L1411.6 1752.5 L1411.9 1750.4 L1412.2 1751.3 L1412.5 1753.9 L1412.9 1772.6 L1413.2 1774.7 L1413.5 1773.0 L1413.9 1773.1 L1414.2 1785.3 L1414.5 1775.4 L1414.8 1779.0 L1415.2 1784.5 L1415.5 1764.9 L1415.8 1782.8 L1416.2 1768.0 L1416.5 1749.9 L1416.8 1747.2 L1417.1 1773.6 L1417.5 1758.9 L1417.8 1771.5 L1418.1 1739.2 L1418.5 1750.6 L1418.8 1758.7 L1419.1 1778.3 L1419.4 1779.6 L1419.8 1767.3 L1420.1 1776.1 L1420.4 1779.3 L1420.8 1764.6 L1421.1 1794.4 L1421.4 1805.9 L1421.7 1790.5 L1422.1 1792.5 L1422.4 1775.7 L1422.7 1787.6 L1423.1 1777.0 L1423.4 1804.9 L1423.7 1750.6 L1424.0 1766.9 L1424.4 1786.0 L1424.7 1767.4 L1425.0 1752.9 L1425.3 1758.4 L1425.7 1772.4 L1426.0 1761.1 L1426.3 1756.5 L1426.7 1788.4 L1427.0 1791.5 L1427.3 1778.1 L1427.6 1753.3 L1428.0 1745.3 L1428.3 1765.7 L1428.6 1744.1 L1429.0 1751.6 L1429.3 1767.8 L1429.6 1777.9 L1429.9 1776.0 L1430.3 1764.6 L1430.6 1743.9 L1430.9 1752.4 L1431.3 1785.4 L1431.6 1784.1 L1431.9 1752.4 L1432.2 1762.0 L1432.6 1779.6 L1432.9 1754.6 L1433.2 1744.1 L1433.6 1753.0 L1433.9 1763.8 L1434.2 1745.0 L1434.5 1771.9 L1434.9 1774.7 L1435.2 1779.5 L1435.5 1735.8 L1435.9 1732.0 L1436.2 1765.2 L1436.5 1755.2 L1436.8 1757.1 L1437.2 1749.5 L1437.5 1745.3 L1437.8 1753.0 L1438.2 1764.6 L1438.5 1771.0 L1438.8 1778.5 L1439.1 1802.8 L1439.5 1763.7 L1439.8 1774.7 L1440.1 1761.1 L1440.5 1762.8 L1440.8 1776.6 L1441.1 1768.1 L1441.4 1753.6 L1441.8 1756.9 L1442.1 1772.5 L1442.4 1770.0 L1442.8 1749.3 L1443.1 1754.5 L1443.4 1753.5 L1443.7 1760.8 L1444.1 1747.1 L1444.4 1756.9 L1444.7 1720.0 L1445.1 1765.5 L1445.4 1769.0 L1445.7 1733.1 L1446.0 1759.2 L1446.4 1769.8 L1446.7 1751.3 L1447.0 1792.9 L1447.4 1750.9 L1447.7 1757.3 L1448.0 1753.5 L1448.3 1769.8 L1448.7 1737.6 L1449.0 1752.8 L1449.3 1757.9 L1449.7 1752.2 L1450.0 1770.5 L1450.3 1759.9 L1450.6 1780.9 L1451.0 1775.0 L1451.3 1754.0 L1451.6 1756.9 L1452.0 1747.6 L1452.3 1769.1 L1452.6 1761.0 L1452.9 1769.9 L1453.3 1755.9 L1453.6 1748.1 L1453.9 1744.0 L1454.3 1751.7 L1454.6 1772.6 L1454.9 1757.6 L1455.2 1776.7 L1455.6 1790.2 L1455.9 1758.7 L1456.2 1760.1 L1456.6 1750.3 L1456.9 1749.1 L1457.2 1780.2 L1457.5 1775.3 L1457.9 1761.6 L1458.2 1760.4 L1458.5 1755.2 L1458.9 1780.9 L1459.2 1764.8 L1459.5 1751.0 L1459.8 1731.8 L1460.2 1779.2 L1460.5 1735.4 L1460.8 1763.9 L1461.2 1781.1 L1461.5 1738.9 L1461.8 1774.7 L1462.1 1775.9 L1462.5 1747.0 L1462.8 1741.8 L1463.1 1756.0 L1463.5 1767.5 L1463.8 1778.8 L1464.1 1754.2 L1464.4 1790.8 L1464.8 1777.1 L1465.1 1738.8 L1465.4 1745.1 L1465.8 1735.7 L1466.1 1747.6 L1466.4 1770.8 L1466.7 1746.2 L1467.1 1780.4 L1467.4 1742.4 L1467.7 1732.2 L1468.1 1767.7 L1468.4 1737.0 L1468.7 1751.8 L1469.0 1754.7 L1469.4 1781.9 L1469.7 1754.4 L1470.0 1738.9 L1470.4 1777.7 L1470.7 1759.0 L1471.0 1762.3 L1471.3 1776.1 L1471.7 1735.7 L1472.0 1751.0 L1472.3 1750.6 L1472.7 1736.3 L1473.0 1762.3 L1473.3 1701.7 L1473.6 1757.5 L1474.0 1767.9 L1474.3 1740.5 L1474.6 1744.1 L1475.0 1764.0 L1475.3 1762.8 L1475.6 1736.4 L1475.9 1744.2 L1476.3 1742.1 L1476.6 1735.0 L1476.9 1756.9 L1477.3 1728.5 L1477.6 1746.9 L1477.9 1736.2 L1478.2 1760.7 L1478.6 1735.4 L1478.9 1742.3 L1479.2 1709.1 L1479.6 1748.6 L1479.9 1723.2 L1480.2 1736.5 L1480.5 1722.5 L1480.9 1742.5 L1481.2 1738.8 L1481.5 1779.5 L1481.9 1765.5 L1482.2 1730.7 L1482.5 1740.2 L1482.8 1735.2 L1483.2 1751.0 L1483.5 1735.6 L1483.8 1753.1 L1484.2 1749.0 L1484.5 1730.3 L1484.8 1732.9 L1485.1 1756.1 L1485.5 1749.3 L1485.8 1747.0 L1486.1 1753.3 L1486.4 1753.2 L1486.8 1766.4 L1487.1 1744.2 L1487.4 1768.9 L1487.8 1768.2 L1488.1 1735.1 L1488.4 1727.2 L1488.7 1727.4 L1489.1 1750.3 L1489.4 1764.1 L1489.7 1745.3 L1490.1 1733.5 L1490.4 1755.3 L1490.7 1763.4 L1491.0 1782.6 L1491.4 1783.1 L1491.7 1732.1 L1492.0 1780.0 L1492.4 1768.0 L1492.7 1762.4 L1493.0 1754.2 L1493.3 1777.1 L1493.7 1748.9 L1494.0 1748.6 L1494.3 1755.8 L1494.7 1765.9 L1495.0 1761.7 L1495.3 1784.7 L1495.6 1746.0 L1496.0 1762.8 L1496.3 1775.1 L1496.6 1754.7 L1497.0 1746.3 L1497.3 1747.9 L1497.6 1743.5 L1497.9 1735.0 L1498.3 1760.0 L1498.6 1749.0 L1498.9 1747.7 L1499.3 1773.0 L1499.6 1734.6 L1499.9 1755.6 L1500.2 1746.8 L1500.6 1745.9 L1500.9 1762.4 L1501.2 1737.8 L1501.6 1735.3 L1501.9 1747.3 L1502.2 1793.1 L1502.5 1729.3 L1502.9 1751.8 L1503.2 1759.3 L1503.5 1758.3 L1503.9 1765.8 L1504.2 1755.1 L1504.5 1740.4 L1504.8 1766.3 L1505.2 1746.7 L1505.5 1758.9 L1505.8 1753.9 L1506.2 1755.7 L1506.5 1745.7 L1506.8 1735.3 L1507.1 1750.7 L1507.5 1737.2 L1507.8 1728.5 L1508.1 1772.5 L1508.5 1739.2 L1508.8 1755.4 L1509.1 1753.7 L1509.4 1736.3 L1509.8 1754.3 L1510.1 1760.2 L1510.4 1731.8 L1510.8 1734.8 L1511.1 1744.1 L1511.4 1708.0 L1511.7 1764.7 L1512.1 1774.1 L1512.4 1752.8 L1512.7 1766.4 L1513.1 1743.7 L1513.4 1757.9 L1513.7 1757.8 L1514.0 1748.6 L1514.4 1761.1 L1514.7 1777.1 L1515.0 1759.1 L1515.4 1737.6 L1515.7 1744.5 L1516.0 1734.0 L1516.3 1722.7 L1516.7 1734.7 L1517.0 1748.7 L1517.3 1759.1 L1517.7 1741.1 L1518.0 1724.2 L1518.3 1727.1 L1518.6 1734.5 L1519.0 1760.7 L1519.3 1740.2 L1519.6 1738.6 L1520.0 1731.2 L1520.3 1768.7 L1520.6 1760.5 L1520.9 1748.5 L1521.3 1749.0 L1521.6 1760.4 L1521.9 1744.2 L1522.3 1756.5 L1522.6 1736.0 L1522.9 1760.3 L1523.2 1750.5 L1523.6 1785.2 L1523.9 1751.3 L1524.2 1764.6 L1524.6 1744.5 L1524.9 1758.1 L1525.2 1737.5 L1525.5 1764.2 L1525.9 1778.1 L1526.2 1753.4 L1526.5 1748.7 L1526.9 1768.8 L1527.2 1777.4 L1527.5 1747.0 L1527.8 1742.8 L1528.2 1747.8 L1528.5 1757.5 L1528.8 1758.9 L1529.2 1734.7 L1529.5 1747.1 L1529.8 1772.6 L1530.1 1775.1 L1530.5 1749.6 L1530.8 1747.9 L1531.1 1767.8 L1531.5 1769.7 L1531.8 1743.7 L1532.1 1762.4 L1532.4 1744.8 L1532.8 1773.2 L1533.1 1770.9 L1533.4 1780.8 L1533.8 1755.1 L1534.1 1759.7 L1534.4 1777.6 L1534.7 1749.5 L1535.1 1758.6 L1535.4 1752.9 L1535.7 1727.9 L1536.1 1733.0 L1536.4 1738.8 L1536.7 1749.5 L1537.0 1760.7 L1537.4 1751.5 L1537.7 1745.9 L1538.0 1720.6 L1538.4 1750.7 L1538.7 1743.5 L1539.0 1734.0 L1539.3 1726.5 L1539.7 1714.7 L1540.0 1709.4 L1540.3 1728.6 L1540.7 1697.1 L1541.0 1713.0 L1541.3 1731.5 L1541.6 1732.0 L1542.0 1722.0 L1542.3 1717.4 L1542.6 1700.7 L1543.0 1720.7 L1543.3 1715.0 L1543.6 1716.5 L1543.9 1698.9 L1544.3 1720.1 L1544.6 1690.6 L1544.9 1706.5 L1545.2 1696.6 L1545.6 1685.7 L1545.9 1685.4 L1546.2 1650.3 L1546.6 1697.5 L1546.9 1711.1 L1547.2 1699.1 L1547.5 1669.4 L1547.9 1692.8 L1548.2 1664.2 L1548.5 1679.4 L1548.9 1666.0 L1549.2 1694.9 L1549.5 1661.1 L1549.8 1659.5 L1550.2 1686.7 L1550.5 1657.7 L1550.8 1641.2 L1551.2 1676.2 L1551.5 1689.3 L1551.8 1686.1 L1552.1 1683.4 L1552.5 1668.0 L1552.8 1658.8 L1553.1 1690.3 L1553.5 1689.7 L1553.8 1707.2 L1554.1 1697.9 L1554.4 1686.9 L1554.8 1722.5 L1555.1 1688.5 L1555.4 1688.1 L1555.8 1686.1 L1556.1 1712.7 L1556.4 1728.8 L1556.7 1713.4 L1557.1 1726.2 L1557.4 1738.5 L1557.7 1726.9 L1558.1 1737.9 L1558.4 1693.5 L1558.7 1712.1 L1559.0 1712.1 L1559.4 1742.2 L1559.7 1708.8 L1560.0 1735.4 L1560.4 1719.6 L1560.7 1748.1 L1561.0 1726.1 L1561.3 1760.7 L1561.7 1740.5 L1562.0 1742.9 L1562.3 1760.5 L1562.7 1741.5 L1563.0 1751.3 L1563.3 1749.8 L1563.6 1734.3 L1564.0 1727.0 L1564.3 1749.8 L1564.6 1728.8 L1565.0 1733.7 L1565.3 1738.2 L1565.6 1726.4 L1565.9 1772.6 L1566.3 1731.3 L1566.6 1745.9 L1566.9 1757.7 L1567.3 1754.8 L1567.6 1737.6 L1567.9 1735.2 L1568.2 1742.7 L1568.6 1770.8 L1568.9 1775.5 L1569.2 1753.2 L1569.6 1744.6 L1569.9 1764.4 L1570.2 1741.1 L1570.5 1745.2 L1570.9 1747.1 L1571.2 1765.7 L1571.5 1735.9 L1571.9 1740.0 L1572.2 1734.3 L1572.5 1748.9 L1572.8 1773.5 L1573.2 1749.1 L1573.5 1742.0 L1573.8 1757.2 L1574.2 1772.3 L1574.5 1747.1 L1574.8 1746.1 L1575.1 1774.5 L1575.5 1766.9 L1575.8 1777.9 L1576.1 1751.8 L1576.5 1754.2 L1576.8 1731.3 L1577.1 1771.1 L1577.4 1737.9 L1577.8 1761.3 L1578.1 1754.2 L1578.4 1776.9 L1578.8 1758.3 L1579.1 1766.7 L1579.4 1760.6 L1579.7 1756.3 L1580.1 1751.9 L1580.4 1746.7 L1580.7 1759.4 L1581.1 1772.3 L1581.4 1743.5 L1581.7 1757.4 L1582.0 1767.3 L1582.4 1737.5 L1582.7 1753.3 L1583.0 1746.4 L1583.4 1782.0 L1583.7 1765.5 L1584.0 1725.6 L1584.3 1747.6 L1584.7 1747.2 L1585.0 1764.3 L1585.3 1755.2 L1585.7 1747.0 L1586.0 1752.9 L1586.3 1752.9 L1586.6 1776.7 L1587.0 1761.8 L1587.3 1756.0 L1587.6 1740.2 L1588.0 1740.3 L1588.3 1747.6 L1588.6 1757.6 L1588.9 1757.1 L1589.3 1742.1 L1589.6 1765.4 L1589.9 1748.1 L1590.3 1749.1 L1590.6 1747.8 L1590.9 1719.0 L1591.2 1745.5 L1591.6 1730.3 L1591.9 1719.2 L1592.2 1735.0 L1592.6 1742.5 L1592.9 1761.1 L1593.2 1718.3 L1593.5 1758.9 L1593.9 1772.7 L1594.2 1726.7 L1594.5 1764.4 L1594.9 1760.5 L1595.2 1753.5 L1595.5 1760.7 L1595.8 1775.6 L1596.2 1740.6 L1596.5 1736.4 L1596.8 1732.4 L1597.2 1743.9 L1597.5 1749.0 L1597.8 1750.4 L1598.1 1723.9 L1598.5 1728.2 L1598.8 1745.1 L1599.1 1732.0 L1599.5 1750.5 L1599.8 1722.8 L1600.1 1740.6 L1600.4 1722.2 L1600.8 1717.3 L1601.1 1743.5 L1601.4 1690.4 L1601.8 1691.6 L1602.1 1692.7 L1602.4 1683.1 L1602.7 1666.7 L1603.1 1659.6 L1603.4 1645.3 L1603.7 1643.8 L1604.0 1635.0 L1604.4 1638.3 L1604.7 1659.5 L1605.0 1663.3 L1605.4 1646.1 L1605.7 1654.1 L1606.0 1667.3 L1606.3 1692.8 L1606.7 1694.4 L1607.0 1705.0 L1607.3 1694.2 L1607.7 1722.1 L1608.0 1737.2 L1608.3 1736.3 L1608.6 1726.7 L1609.0 1713.7 L1609.3 1747.3 L1609.6 1727.7 L1610.0 1753.1 L1610.3 1755.3 L1610.6 1763.3 L1610.9 1740.9 L1611.3 1760.8 L1611.6 1740.8 L1611.9 1761.4 L1612.3 1730.5 L1612.6 1753.4 L1612.9 1756.3 L1613.2 1775.0 L1613.6 1738.8 L1613.9 1753.7 L1614.2 1757.2 L1614.6 1758.3 L1614.9 1766.1 L1615.2 1766.7 L1615.5 1754.1 L1615.9 1771.2 L1616.2 1761.7 L1616.5 1726.4 L1616.9 1761.7 L1617.2 1764.2 L1617.5 1746.8 L1617.8 1774.6 L1618.2 1739.6 L1618.5 1760.2 L1618.8 1777.5 L1619.2 1762.5 L1619.5 1770.6 L1619.8 1750.2 L1620.1 1767.3 L1620.5 1749.8 L1620.8 1788.9 L1621.1 1767.0 L1621.5 1752.1 L1621.8 1753.0 L1622.1 1759.6 L1622.4 1749.4 L1622.8 1749.0 L1623.1 1760.5 L1623.4 1757.3 L1623.8 1747.1 L1624.1 1757.9 L1624.4 1798.1 L1624.7 1783.5 L1625.1 1769.8 L1625.4 1750.0 L1625.7 1759.0 L1626.1 1750.3 L1626.4 1744.9 L1626.7 1751.6 L1627.0 1773.4 L1627.4 1746.9 L1627.7 1779.1 L1628.0 1778.0 L1628.4 1765.4 L1628.7 1792.3 L1629.0 1734.0 L1629.3 1723.6 L1629.7 1760.9 L1630.0 1763.9 L1630.3 1789.0 L1630.7 1750.2 L1631.0 1768.2 L1631.3 1775.5 L1631.6 1777.9 L1632.0 1759.1 L1632.3 1760.4 L1632.6 1758.9 L1633.0 1765.9 L1633.3 1782.2 L1633.6 1735.2 L1633.9 1744.2 L1634.3 1764.8 L1634.6 1776.0 L1634.9 1770.7 L1635.3 1745.4 L1635.6 1748.0 L1635.9 1751.1 L1636.2 1737.5 L1636.6 1763.2 L1636.9 1733.7 L1637.2 1752.3 L1637.6 1765.8 L1637.9 1747.0 L1638.2 1749.8 L1638.5 1764.9 L1638.9 1728.0 L1639.2 1778.9 L1639.5 1750.8 L1639.9 1748.6 L1640.2 1765.3 L1640.5 1754.1 L1640.8 1735.6 L1641.2 1771.7 L1641.5 1771.4 L1641.8 1760.6 L1642.2 1748.2 L1642.5 1739.4 L1642.8 1747.7 L1643.1 1773.2 L1643.5 1740.4 L1643.8 1746.7 L1644.1 1742.4 L1644.5 1782.7 L1644.8 1783.8 L1645.1 1769.3 L1645.4 1766.5 L1645.8 1760.5 L1646.1 1777.1 L1646.4 1777.2 L1646.8 1755.5 L1647.1 1793.9 L1647.4 1780.4 L1647.7 1762.9 L1648.1 1752.6 L1648.4 1760.0 L1648.7 1740.8 L1649.1 1760.4 L1649.4 1754.8 L1649.7 1753.6 L1650.0 1765.5 L1650.4 1786.1 L1650.7 1771.2 L1651.0 1770.5 L1651.4 1780.8 L1651.7 1758.4 L1652.0 1776.6 L1652.3 1791.3 L1652.7 1769.7 L1653.0 1784.9 L1653.3 1762.4 L1653.7 1809.5 L1654.0 1796.2 L1654.3 1771.1 L1654.6 1767.7 L1655.0 1770.4 L1655.3 1749.3 L1655.6 1775.6 L1656.0 1779.6 L1656.3 1759.8 L1656.6 1777.0 L1656.9 1766.4 L1657.3 1753.5 L1657.6 1774.7 L1657.9 1773.9 L1658.3 1781.3 L1658.6 1766.5 L1658.9 1763.0 L1659.2 1756.9 L1659.6 1762.3 L1659.9 1742.6 L1660.2 1769.8 L1660.6 1770.1 L1660.9 1776.2 L1661.2 1753.1 L1661.5 1770.8 L1661.9 1776.3 L1662.2 1791.3 L1662.5 1774.0 L1662.8 1759.4 L1663.2 1810.4 L1663.5 1788.6 L1663.8 1785.8 L1664.2 1784.3 L1664.5 1771.6 L1664.8 1777.9 L1665.1 1770.2 L1665.5 1767.9 L1665.8 1752.1 L1666.1 1775.7 L1666.5 1766.9 L1666.8 1775.2 L1667.1 1769.5 L1667.4 1776.8 L1667.8 1788.7 L1668.1 1765.8 L1668.4 1755.5 L1668.8 1785.2 L1669.1 1771.7 L1669.4 1771.6 L1669.7 1802.3 L1670.1 1742.3 L1670.4 1749.1 L1670.7 1753.1 L1671.1 1755.6 L1671.4 1782.7 L1671.7 1805.9 L1672.0 1770.5 L1672.4 1768.2 L1672.7 1773.1 L1673.0 1775.4 L1673.4 1754.1 L1673.7 1757.0 L1674.0 1768.5 L1674.3 1775.4 L1674.7 1734.3 L1675.0 1755.4 L1675.3 1765.8 L1675.7 1786.3 L1676.0 1789.6 L1676.3 1807.3 L1676.6 1770.1 L1677.0 1761.8 L1677.3 1768.5 L1677.6 1765.7 L1678.0 1761.9 L1678.3 1753.0 L1678.6 1791.2 L1678.9 1783.3 L1679.3 1751.8 L1679.6 1760.6 L1679.9 1757.3 L1680.3 1779.4 L1680.6 1742.3 L1680.9 1762.8 L1681.2 1767.9 L1681.6 1777.5 L1681.9 1761.6 L1682.2 1761.9 L1682.6 1766.1 L1682.9 1740.5 L1683.2 1746.9 L1683.5 1764.7 L1683.9 1773.1 L1684.2 1771.2 L1684.5 1759.8 L1684.9 1806.0 L1685.2 1760.6 L1685.5 1768.5 L1685.8 1734.0 L1686.2 1759.0 L1686.5 1768.2 L1686.8 1765.1 L1687.2 1775.2 L1687.5 1776.3 L1687.8 1767.1 L1688.1 1795.8 L1688.5 1766.2 L1688.8 1791.0 L1689.1 1776.9 L1689.5 1777.1 L1689.8 1756.0 L1690.1 1743.2 L1690.4 1745.3 L1690.8 1773.4 L1691.1 1769.6 L1691.4 1765.6 L1691.8 1763.8 L1692.1 1749.4 L1692.4 1755.9 L1692.7 1765.9 L1693.1 1737.2 L1693.4 1752.2 L1693.7 1738.2 L1694.1 1766.1 L1694.4 1756.6 L1694.7 1760.0 L1695.0 1762.2 L1695.4 1780.2 L1695.7 1760.9 L1696.0 1786.1 L1696.4 1758.8 L1696.7 1739.0 L1697.0 1747.6 L1697.3 1760.0 L1697.7 1768.7 L1698.0 1753.2 L1698.3 1780.0 L1698.7 1782.6 L1699.0 1784.1 L1699.3 1759.3 L1699.6 1784.6 L1700.0 1756.6 L1700.3 1750.4 L1700.6 1755.5 L1701.0 1767.3 L1701.3 1759.7 L1701.6 1783.7 L1701.9 1763.2 L1702.3 1741.6 L1702.6 1744.9 L1702.9 1789.9 L1703.3 1767.7 L1703.6 1771.7 L1703.9 1753.4 L1704.2 1762.8 L1704.6 1768.3 L1704.9 1776.3 L1705.2 1764.6 L1705.6 1768.9 L1705.9 1765.8 L1706.2 1768.8 L1706.5 1784.5 L1706.9 1760.2 L1707.2 1759.3 L1707.5 1762.5 L1707.9 1761.5 L1708.2 1747.1 L1708.5 1748.6 L1708.8 1739.8 L1709.2 1753.4 L1709.5 1750.6 L1709.8 1761.6 L1710.2 1776.9 L1710.5 1778.0 L1710.8 1752.5 L1711.1 1757.4 L1711.5 1750.5 L1711.8 1791.1 L1712.1 1759.9 L1712.5 1754.3 L1712.8 1760.4 L1713.1 1758.0 L1713.4 1779.3 L1713.8 1753.9 L1714.1 1733.0 L1714.4 1766.7 L1714.8 1741.3 L1715.1 1758.5 L1715.4 1744.4 L1715.7 1725.3 L1716.1 1743.8 L1716.4 1738.0 L1716.7 1732.9 L1717.1 1741.3 L1717.4 1721.8 L1717.7 1766.6 L1718.0 1741.5 L1718.4 1762.5 L1718.7 1755.7 L1719.0 1733.2 L1719.4 1748.5 L1719.7 1735.9 L1720.0 1710.2 L1720.3 1719.9 L1720.7 1674.4 L1721.0 1725.9 L1721.3 1722.0 L1721.6 1755.0 L1722.0 1720.1 L1722.3 1724.4 L1722.6 1710.2 L1723.0 1714.5 L1723.3 1722.1 L1723.6 1737.9 L1723.9 1700.1 L1724.3 1718.0 L1724.6 1729.9 L1724.9 1700.5 L1725.3 1730.4 L1725.6 1710.9 L1725.9 1728.5 L1726.2 1704.2 L1726.6 1721.2 L1726.9 1660.8 L1727.2 1683.0 L1727.6 1690.7 L1727.9 1691.7 L1728.2 1687.3 L1728.5 1684.7 L1728.9 1692.0 L1729.2 1709.6 L1729.5 1693.9 L1729.9 1716.5 L1730.2 1701.8 L1730.5 1692.8 L1730.8 1712.9 L1731.2 1694.4 L1731.5 1707.4 L1731.8 1672.0 L1732.2 1708.8 L1732.5 1698.9 L1732.8 1698.8 L1733.1 1706.5 L1733.5 1705.7 L1733.8 1714.8 L1734.1 1711.1 L1734.5 1712.0 L1734.8 1704.9 L1735.1 1700.4 L1735.4 1718.5 L1735.8 1701.0 L1736.1 1720.7 L1736.4 1734.3 L1736.8 1728.6 L1737.1 1732.7 L1737.4 1727.8 L1737.7 1724.8 L1738.1 1723.5 L1738.4 1711.5 L1738.7 1717.6 L1739.1 1733.6 L1739.4 1720.9 L1739.7 1729.2 L1740.0 1718.0 L1740.4 1711.6 L1740.7 1729.2 L1741.0 1716.9 L1741.4 1707.9 L1741.7 1719.9 L1742.0 1737.5 L1742.3 1722.4 L1742.7 1729.8 L1743.0 1701.9 L1743.3 1707.9 L1743.7 1701.2 L1744.0 1676.6 L1744.3 1681.9 L1744.6 1680.4 L1745.0 1692.9 L1745.3 1665.1 L1745.6 1652.7 L1746.0 1630.9 L1746.3 1624.3 L1746.6 1584.8 L1746.9 1557.4 L1747.3 1550.8 L1747.6 1537.4 L1747.9 1498.4 L1748.3 1477.1 L1748.6 1442.7 L1748.9 1429.3 L1749.2 1414.8 L1749.6 1402.9 L1749.9 1379.0 L1750.2 1389.3 L1750.6 1377.2 L1750.9 1366.2 L1751.2 1381.5 L1751.5 1394.0 L1751.9 1413.1 L1752.2 1443.4 L1752.5 1458.2 L1752.9 1475.3 L1753.2 1499.7 L1753.5 1539.1 L1753.8 1553.1 L1754.2 1568.0 L1754.5 1596.5 L1754.8 1603.4 L1755.2 1637.8 L1755.5 1672.9 L1755.8 1669.5 L1756.1 1680.5 L1756.5 1685.5 L1756.8 1697.0 L1757.1 1692.6 L1757.5 1710.6 L1757.8 1721.3 L1758.1 1735.1 L1758.4 1735.3 L1758.8 1718.8 L1759.1 1713.7 L1759.4 1735.7 L1759.8 1739.5 L1760.1 1746.1 L1760.4 1741.7 L1760.7 1745.1 L1761.1 1753.2 L1761.4 1735.9 L1761.7 1762.6 L1762.1 1747.1 L1762.4 1747.5 L1762.7 1741.6 L1763.0 1752.8 L1763.4 1763.6 L1763.7 1752.9 L1764.0 1765.4 L1764.4 1757.0 L1764.7 1762.7 L1765.0 1721.6 L1765.3 1781.5 L1765.7 1769.1 L1766.0 1737.8 L1766.3 1756.6 L1766.7 1771.8 L1767.0 1746.0 L1767.3 1726.9 L1767.6 1753.5 L1768.0 1742.6 L1768.3 1770.9 L1768.6 1760.9 L1769.0 1750.5 L1769.3 1750.4 L1769.6 1760.9 L1769.9 1759.2 L1770.3 1759.0 L1770.6 1760.4 L1770.9 1756.6 L1771.3 1756.0 L1771.6 1742.1 L1771.9 1764.6 L1772.2 1739.4 L1772.6 1722.4 L1772.9 1740.9 L1773.2 1747.3 L1773.6 1751.5 L1773.9 1744.6 L1774.2 1751.3 L1774.5 1731.5 L1774.9 1733.8 L1775.2 1721.2 L1775.5 1724.9 L1775.9 1716.1 L1776.2 1705.1 L1776.5 1709.0 L1776.8 1685.1 L1777.2 1701.4 L1777.5 1717.4 L1777.8 1701.7 L1778.2 1696.9 L1778.5 1701.2 L1778.8 1690.6 L1779.1 1689.1 L1779.5 1677.0 L1779.8 1689.9 L1780.1 1695.3 L1780.5 1685.9 L1780.8 1698.6 L1781.1 1702.7 L1781.4 1681.0 L1781.8 1671.3 L1782.1 1669.1 L1782.4 1644.8 L1782.7 1664.9 L1783.1 1661.9 L1783.4 1624.1 L1783.7 1656.5 L1784.1 1628.4 L1784.4 1633.3 L1784.7 1654.0 L1785.0 1614.1 L1785.4 1623.4 L1785.7 1612.5 L1786.0 1610.4 L1786.4 1605.9 L1786.7 1597.1 L1787.0 1581.7 L1787.3 1597.6 L1787.7 1599.5 L1788.0 1586.8 L1788.3 1589.2 L1788.7 1616.4 L1789.0 1586.8 L1789.3 1594.1 L1789.6 1592.2 L1790.0 1603.8 L1790.3 1572.2 L1790.6 1586.4 L1791.0 1596.6 L1791.3 1597.8 L1791.6 1597.4 L1791.9 1598.7 L1792.3 1592.5 L1792.6 1599.1 L1792.9 1610.7 L1793.3 1611.3 L1793.6 1606.3 L1793.9 1625.5 L1794.2 1623.6 L1794.6 1613.9 L1794.9 1627.3 L1795.2 1616.9 L1795.6 1647.0 L1795.9 1644.2 L1796.2 1652.1 L1796.5 1656.9 L1796.9 1644.3 L1797.2 1645.3 L1797.5 1659.5 L1797.9 1665.8 L1798.2 1649.7 L1798.5 1655.5 L1798.8 1698.8 L1799.2 1681.4 L1799.5 1706.4 L1799.8 1705.0 L1800.2 1699.0 L1800.5 1708.1 L1800.8 1692.2 L1801.1 1706.9 L1801.5 1708.1 L1801.8 1709.6 L1802.1 1692.1 L1802.5 1711.2 L1802.8 1707.1 L1803.1 1714.3 L1803.4 1709.0 L1803.8 1724.8 L1804.1 1728.4 L1804.4 1715.2 L1804.8 1730.2 L1805.1 1752.7 L1805.4 1750.8 L1805.7 1743.1 L1806.1 1733.9 L1806.4 1750.4 L1806.7 1725.3 L1807.1 1739.4 L1807.4 1748.8 L1807.7 1761.3 L1808.0 1740.0 L1808.4 1742.1 L1808.7 1764.2 L1809.0 1736.0 L1809.4 1738.1 L1809.7 1736.1 L1810.0 1754.8 L1810.3 1744.2 L1810.7 1780.3 L1811.0 1751.9 L1811.3 1762.5 L1811.7 1759.4 L1812.0 1753.6 L1812.3 1767.8 L1812.6 1762.2 L1813.0 1772.2 L1813.3 1770.3 L1813.6 1774.6 L1814.0 1757.5 L1814.3 1747.0 L1814.6 1773.5 L1814.9 1781.1 L1815.3 1764.9 L1815.6 1757.7 L1815.9 1759.5 L1816.3 1776.3 L1816.6 1762.5 L1816.9 1772.5 L1817.2 1767.4 L1817.6 1764.0 L1817.9 1767.4 L1818.2 1756.9 L1818.6 1768.1 L1818.9 1744.3 L1819.2 1760.5 L1819.5 1775.0 L1819.9 1750.2 L1820.2 1751.4 L1820.5 1758.1 L1820.9 1761.0 L1821.2 1756.8 L1821.5 1750.5 L1821.8 1761.6 L1822.2 1750.2 L1822.5 1765.9 L1822.8 1753.0 L1823.2 1769.7 L1823.5 1753.5 L1823.8 1750.0 L1824.1 1761.5 L1824.5 1749.5 L1824.8 1772.6 L1825.1 1749.6 L1825.5 1747.4 L1825.8 1732.2 L1826.1 1732.3 L1826.4 1711.5 L1826.8 1690.2 L1827.1 1693.5 L1827.4 1666.4 L1827.8 1635.2 L1828.1 1613.5 L1828.4 1578.7 L1828.7 1550.3 L1829.1 1501.1 L1829.4 1462.1 L1829.7 1396.4 L1830.1 1344.3 L1830.4 1288.4 L1830.7 1246.3 L1831.0 1178.8 L1831.4 1130.1 L1831.7 1092.1 L1832.0 1067.3 L1832.4 1044.9 L1832.7 1044.6 L1833.0 1054.0 L1833.3 1069.4 L1833.7 1101.9 L1834.0 1128.4 L1834.3 1196.2 L1834.7 1233.6 L1835.0 1294.5 L1835.3 1348.6 L1835.6 1395.4 L1836.0 1452.6 L1836.3 1492.4 L1836.6 1545.1 L1837.0 1583.3 L1837.3 1614.1 L1837.6 1631.0 L1837.9 1670.5 L1838.3 1684.3 L1838.6 1699.6 L1838.9 1707.8 L1839.3 1721.3 L1839.6 1715.1 L1839.9 1708.2 L1840.2 1697.1 L1840.6 1703.5 L1840.9 1709.3 L1841.2 1683.8 L1841.5 1707.5 L1841.9 1678.7 L1842.2 1685.9 L1842.5 1666.7 L1842.9 1667.7 L1843.2 1658.9 L1843.5 1639.7 L1843.8 1609.1 L1844.2 1610.4 L1844.5 1595.3 L1844.8 1595.0 L1845.2 1582.1 L1845.5 1579.0 L1845.8 1569.0 L1846.1 1559.4 L1846.5 1543.4 L1846.8 1543.0 L1847.1 1547.2 L1847.5 1540.9 L1847.8 1545.4 L1848.1 1535.5 L1848.4 1538.6 L1848.8 1540.3 L1849.1 1539.1 L1849.4 1542.9 L1849.8 1539.5 L1850.1 1559.7 L1850.4 1552.8 L1850.7 1564.3 L1851.1 1560.9 L1851.4 1577.2 L1851.7 1591.8 L1852.1 1588.3 L1852.4 1596.2 L1852.7 1606.2 L1853.0 1607.2 L1853.4 1601.6 L1853.7 1620.3 L1854.0 1618.8 L1854.4 1619.8 L1854.7 1629.3 L1855.0 1640.6 L1855.3 1643.3 L1855.7 1661.3 L1856.0 1675.3 L1856.3 1683.5 L1856.7 1668.0 L1857.0 1669.9 L1857.3 1690.4 L1857.6 1692.8 L1858.0 1719.4 L1858.3 1696.4 L1858.6 1708.8 L1859.0 1729.7 L1859.3 1711.7 L1859.6 1714.5 L1859.9 1715.8 L1860.3 1728.3 L1860.6 1727.8 L1860.9 1741.6 L1861.3 1721.9 L1861.6 1741.3 L1861.9 1727.5 L1862.2 1736.3 L1862.6 1745.3 L1862.9 1730.9 L1863.2 1751.0 L1863.6 1740.9 L1863.9 1742.7 L1864.2 1744.4 L1864.5 1739.6 L1864.9 1732.2 L1865.2 1739.9 L1865.5 1737.7 L1865.9 1730.9 L1866.2 1730.1 L1866.5 1730.0 L1866.8 1714.2 L1867.2 1729.5 L1867.5 1711.6 L1867.8 1713.7 L1868.2 1707.7 L1868.5 1706.0 L1868.8 1710.4 L1869.1 1716.3 L1869.5 1708.2 L1869.8 1730.3 L1870.1 1741.8 L1870.5 1737.8 L1870.8 1733.6 L1871.1 1727.2 L1871.4 1728.2 L1871.8 1748.4 L1872.1 1743.4 L1872.4 1741.1 L1872.8 1763.9 L1873.1 1745.7 L1873.4 1757.3 L1873.7 1763.8 L1874.1 1812.0 L1874.4 1757.3 L1874.7 1784.1 L1875.1 1763.8 L1875.4 1762.7 L1875.7 1772.0 L1876.0 1763.5 L1876.4 1769.3 L1876.7 1773.4 L1877.0 1766.8 L1877.4 1785.3 L1877.7 1761.6 L1878.0 1760.5 L1878.3 1762.7 L1878.7 1760.4 L1879.0 1770.1 L1879.3 1771.4 L1879.7 1783.2 L1880.0 1783.0 L1880.3 1773.3 L1880.6 1756.9 L1881.0 1766.2 L1881.3 1752.8 L1881.6 1758.4 L1882.0 1776.0 L1882.3 1771.8 L1882.6 1776.7 L1882.9 1780.3 L1883.3 1763.6 L1883.6 1759.5 L1883.9 1775.0 L1884.3 1755.8 L1884.6 1757.5 L1884.9 1771.8 L1885.2 1762.9 L1885.6 1775.8 L1885.9 1766.3 L1886.2 1761.4 L1886.6 1784.9 L1886.9 1752.3 L1887.2 1783.6 L1887.5 1766.1 L1887.9 1771.9 L1888.2 1758.6 L1888.5 1776.0 L1888.9 1772.4 L1889.2 1736.9 L1889.5 1751.1 L1889.8 1759.4 L1890.2 1775.2 L1890.5 1764.9 L1890.8 1784.9 L1891.2 1776.6 L1891.5 1764.7 L1891.8 1761.4 L1892.1 1772.8 L1892.5 1762.3 L1892.8 1761.4 L1893.1 1779.5 L1893.5 1767.5 L1893.8 1770.5 L1894.1 1755.9 L1894.4 1782.5 L1894.8 1765.8 L1895.1 1771.9 L1895.4 1750.2 L1895.8 1793.2 L1896.1 1753.5 L1896.4 1772.3 L1896.7 1765.1 L1897.1 1785.3 L1897.4 1783.4 L1897.7 1772.9 L1898.1 1769.6 L1898.4 1794.7 L1898.7 1776.9 L1899.0 1774.8 L1899.4 1771.9 L1899.7 1763.5 L1900.0 1767.1 L1900.3 1772.7 L1900.7 1782.3 L1901.0 1786.1 L1901.3 1769.0 L1901.7 1755.3 L1902.0 1769.7 L1902.3 1760.5 L1902.6 1781.0 L1903.0 1760.5 L1903.3 1771.7 L1903.6 1768.5 L1904.0 1763.0 L1904.3 1761.9 L1904.6 1766.9 L1904.9 1765.6 L1905.3 1766.2 L1905.6 1776.6 L1905.9 1772.5 L1906.3 1769.4 L1906.6 1753.2 L1906.9 1781.3 L1907.2 1768.6 L1907.6 1759.6 L1907.9 1762.7 L1908.2 1778.8 L1908.6 1782.1 L1908.9 1774.9 L1909.2 1766.6 L1909.5 1761.5 L1909.9 1771.7 L1910.2 1768.4 L1910.5 1773.5 L1910.9 1777.8 L1911.2 1757.3 L1911.5 1751.9 L1911.8 1770.6 L1912.2 1777.2 L1912.5 1762.4 L1912.8 1783.4 L1913.2 1781.9 L1913.5 1767.1 L1913.8 1750.3 L1914.1 1772.0 L1914.5 1767.4 L1914.8 1752.5 L1915.1 1779.3 L1915.5 1782.9 L1915.8 1745.8 L1916.1 1757.0 L1916.4 1770.8 L1916.8 1761.5 L1917.1 1757.4 L1917.4 1768.9 L1917.8 1741.0 L1918.1 1782.2 L1918.4 1749.8 L1918.7 1761.7 L1919.1 1763.6 L1919.4 1762.8 L1919.7 1771.6 L1920.1 1767.1 L1920.4 1770.0 L1920.7 1779.3 L1921.0 1758.9 L1921.4 1778.0 L1921.7 1774.3 L1922.0 1745.3 L1922.4 1769.7 L1922.7 1749.2 L1923.0 1751.3 L1923.3 1762.2 L1923.7 1748.7 L1924.0 1769.8 L1924.3 1772.8 L1924.7 1768.6 L1925.0 1767.4 L1925.3 1758.7 L1925.6 1744.0 L1926.0 1771.6 L1926.3 1765.9 L1926.6 1763.1 L1927.0 1760.1 L1927.3 1765.7 L1927.6 1748.7 L1927.9 1765.8 L1928.3 1770.9 L1928.6 1744.7 L1928.9 1747.1 L1929.3 1760.7 L1929.6 1769.0 L1929.9 1758.3 L1930.2 1752.4 L1930.6 1743.7 L1930.9 1742.5 L1931.2 1761.1 L1931.6 1757.1 L1931.9 1759.3 L1932.2 1756.5 L1932.5 1761.1 L1932.9 1759.8 L1933.2 1757.4 L1933.5 1754.4 L1933.9 1772.9 L1934.2 1758.7 L1934.5 1747.1 L1934.8 1749.5 L1935.2 1746.7 L1935.5 1745.8 L1935.8 1747.5 L1936.2 1742.1 L1936.5 1751.7 L1936.8 1763.6 L1937.1 1739.1 L1937.5 1747.5 L1937.8 1767.4 L1938.1 1742.1 L1938.5 1742.4 L1938.8 1762.5 L1939.1 1745.3 L1939.4 1749.7 L1939.8 1745.5 L1940.1 1754.4 L1940.4 1732.2 L1940.8 1757.7 L1941.1 1758.6 L1941.4 1752.5 L1941.7 1748.7 L1942.1 1753.7 L1942.4 1733.5 L1942.7 1758.0 L1943.1 1725.3 L1943.4 1762.0 L1943.7 1743.6 L1944.0 1731.0 L1944.4 1725.3 L1944.7 1750.4 L1945.0 1763.0 L1945.4 1755.6 L1945.7 1753.8 L1946.0 1742.3 L1946.3 1758.5 L1946.7 1740.0 L1947.0 1758.7 L1947.3 1741.9 L1947.7 1725.0 L1948.0 1742.8 L1948.3 1738.9 L1948.6 1748.9 L1949.0 1754.1 L1949.3 1746.2 L1949.6 1745.8 L1950.0 1780.5 L1950.3 1760.5 L1950.6 1732.3 L1950.9 1747.5 L1951.3 1751.8 L1951.6 1758.1 L1951.9 1758.4 L1952.3 1756.5 L1952.6 1787.5 L1952.9 1738.9 L1953.2 1752.5 L1953.6 1764.6 L1953.9 1744.0 L1954.2 1758.7 L1954.6 1743.8 L1954.9 1764.2 L1955.2 1750.2 L1955.5 1775.0 L1955.9 1750.3 L1956.2 1774.0 L1956.5 1759.1 L1956.9 1755.4 L1957.2 1775.7 L1957.5 1758.4 L1957.8 1764.3 L1958.2 1758.8 L1958.5 1750.3 L1958.8 1760.0 L1959.1 1747.6 L1959.5 1768.3 L1959.8 1769.6 L1960.1 1750.7 L1960.5 1770.4 L1960.8 1756.4 L1961.1 1768.3 L1961.4 1760.4 L1961.8 1755.7 L1962.1 1766.8 L1962.4 1766.1 L1962.8 1773.4 L1963.1 1750.8 L1963.4 1767.4 L1963.7 1767.8 L1964.1 1758.9 L1964.4 1761.4 L1964.7 1765.6 L1965.1 1754.0 L1965.4 1755.9 L1965.7 1763.2 L1966.0 1761.0 L1966.4 1743.4 L1966.7 1754.3 L1967.0 1760.0 L1967.4 1755.4 L1967.7 1748.7 L1968.0 1734.9 L1968.3 1764.3 L1968.7 1748.1 L1969.0 1757.1 L1969.3 1748.2 L1969.7 1755.9 L1970.0 1756.9 L1970.3 1756.5 L1970.6 1753.4 L1971.0 1745.2 L1971.3 1729.0 L1971.6 1756.2 L1972.0 1753.7 L1972.3 1749.6 L1972.6 1729.9 L1972.9 1729.7 L1973.3 1729.6 L1973.6 1737.2 L1973.9 1741.6 L1974.3 1752.1 L1974.6 1739.5 L1974.9 1736.5 L1975.2 1743.0 L1975.6 1744.0 L1975.9 1748.4 L1976.2 1732.8 L1976.6 1737.1 L1976.9 1726.7 L1977.2 1740.5 L1977.5 1739.5 L1977.9 1722.3 L1978.2 1731.9 L1978.5 1746.5 L1978.9 1738.4 L1979.2 1740.4 L1979.5 1732.2 L1979.8 1747.5 L1980.2 1723.3 L1980.5 1722.9 L1980.8 1729.6 L1981.2 1729.1 L1981.5 1728.8 L1981.8 1732.2 L1982.1 1717.4 L1982.5 1736.4 L1982.8 1705.1 L1983.1 1736.7 L1983.5 1724.1 L1983.8 1735.4 L1984.1 1733.6 L1984.4 1728.0 L1984.8 1740.3 L1985.1 1721.5 L1985.4 1724.7 L1985.8 1721.4 L1986.1 1719.6 L1986.4 1734.1 L1986.7 1728.4 L1987.1 1728.9 L1987.4 1716.5 L1987.7 1728.1 L1988.1 1734.9 L1988.4 1723.8 L1988.7 1730.9 L1989.0 1719.1 L1989.4 1714.3 L1989.7 1717.7 L1990.0 1733.7 L1990.4 1718.2 L1990.7 1734.2 L1991.0 1729.1 L1991.3 1716.6 L1991.7 1722.9 L1992.0 1707.5 L1992.3 1716.4 L1992.7 1721.7 L1993.0 1712.5 L1993.3 1721.5 L1993.6 1709.8 L1994.0 1741.3 L1994.3 1721.5 L1994.6 1728.5 L1995.0 1721.0 L1995.3 1724.5 L1995.6 1701.4 L1995.9 1713.5 L1996.3 1719.6 L1996.6 1710.6 L1996.9 1741.2 L1997.3 1706.7 L1997.6 1738.2 L1997.9 1718.8 L1998.2 1703.0 L1998.6 1732.1 L1998.9 1730.9 L1999.2 1744.3 L1999.6 1742.2 L1999.9 1724.1 L2000.2 1726.4 L2000.5 1733.8 L2000.9 1727.8 L2001.2 1737.0 L2001.5 1742.8 L2001.9 1739.9 L2002.2 1748.9 L2002.5 1761.3 L2002.8 1743.5 L2003.2 1738.7 L2003.5 1732.9 L2003.8 1739.6 L2004.2 1749.9 L2004.5 1756.4 L2004.8 1750.6 L2005.1 1747.6 L2005.5 1752.5 L2005.8 1757.9 L2006.1 1750.2 L2006.5 1777.3 L2006.8 1749.4 L2007.1 1739.7 L2007.4 1769.5 L2007.8 1751.8 L2008.1 1762.3 L2008.4 1766.4 L2008.8 1752.8 L2009.1 1753.7 L2009.4 1762.0 L2009.7 1743.3 L2010.1 1755.8 L2010.4 1779.3 L2010.7 1746.5 L2011.1 1760.8 L2011.4 1746.4 L2011.7 1772.4 L2012.0 1771.9 L2012.4 1767.7 L2012.7 1760.2 L2013.0 1756.5 L2013.4 1771.5 L2013.7 1730.2 L2014.0 1774.0 L2014.3 1769.1 L2014.7 1745.1 L2015.0 1746.8 L2015.3 1750.7 L2015.7 1762.3 L2016.0 1765.1 L2016.3 1744.3 L2016.6 1779.6 L2017.0 1773.1 L2017.3 1767.1 L2017.6 1765.8 L2018.0 1757.5 L2018.3 1767.2 L2018.6 1765.5 L2018.9 1764.1 L2019.3 1771.9 L2019.6 1766.8 L2019.9 1780.9 L2020.2 1778.7 L2020.6 1769.6 L2020.9 1773.3 L2021.2 1763.8 L2021.6 1769.6 L2021.9 1767.3 L2022.2 1760.6 L2022.5 1787.3 L2022.9 1781.0 L2023.2 1773.1 L2023.5 1752.0 L2023.9 1774.0 L2024.2 1751.9 L2024.5 1759.5 L2024.8 1768.3 L2025.2 1765.1 L2025.5 1763.2 L2025.8 1773.0 L2026.2 1753.9 L2026.5 1763.7 L2026.8 1767.9 L2027.1 1773.6 L2027.5 1761.7 L2027.8 1761.4 L2028.1 1758.3 L2028.5 1743.8 L2028.8 1759.7 L2029.1 1771.8 L2029.4 1771.8 L2029.8 1777.4 L2030.1 1774.3 L2030.4 1777.1 L2030.8 1754.6 L2031.1 1785.6 L2031.4 1749.3 L2031.7 1769.3 L2032.1 1776.3 L2032.4 1770.7 L2032.7 1762.8 L2033.1 1761.5 L2033.4 1766.6 L2033.7 1751.1 L2034.0 1773.9 L2034.4 1769.9 L2034.7 1753.4 L2035.0 1773.0 L2035.4 1767.5 L2035.7 1754.2 L2036.0 1753.2 L2036.3 1753.1 L2036.7 1752.1 L2037.0 1758.4 L2037.3 1756.0 L2037.7 1756.3 L2038.0 1758.0 L2038.3 1748.0 L2038.6 1756.7 L2039.0 1748.2 L2039.3 1756.4 L2039.6 1747.3 L2040.0 1779.1 L2040.3 1736.1 L2040.6 1764.4 L2040.9 1759.0 L2041.3 1760.3 L2041.6 1736.7 L2041.9 1769.5 L2042.3 1758.5 L2042.6 1757.8 L2042.9 1731.9 L2043.2 1741.4 L2043.6 1763.8 L2043.9 1757.9 L2044.2 1753.8 L2044.6 1763.0 L2044.9 1741.1 L2045.2 1752.2 L2045.5 1772.1 L2045.9 1754.8 L2046.2 1756.1 L2046.5 1760.5 L2046.9 1753.3 L2047.2 1749.0 L2047.5 1758.6 L2047.8 1762.4 L2048.2 1752.8 L2048.5 1773.5 L2048.8 1746.8 L2049.2 1769.8 L2049.5 1755.4 L2049.8 1758.7 L2050.1 1751.7 L2050.5 1762.7 L2050.8 1753.0 L2051.1 1773.1 L2051.5 1743.3 L2051.8 1751.2 L2052.1 1747.3 L2052.4 1761.4 L2052.8 1753.7 L2053.1 1759.7 L2053.4 1755.5 L2053.8 1765.4 L2054.1 1755.0 L2054.4 1779.1 L2054.7 1742.4 L2055.1 1764.4 L2055.4 1743.3 L2055.7 1737.8 L2056.1 1743.7 L2056.4 1760.7 L2056.7 1746.0 L2057.0 1741.7 L2057.4 1740.6 L2057.7 1743.6 L2058.0 1746.5 L2058.4 1750.1 L2058.7 1749.6 L2059.0 1745.5 L2059.3 1748.0 L2059.7 1750.4 L2060.0 1751.3 L2060.3 1747.9 L2060.7 1754.5 L2061.0 1740.6 L2061.3 1749.6 L2061.6 1739.5 L2062.0 1758.2 L2062.3 1760.5 L2062.6 1757.8 L2063.0 1754.2 L2063.3 1753.6 L2063.6 1744.4 L2063.9 1774.2 L2064.3 1752.0 L2064.6 1770.4 L2064.9 1763.6 L2065.3 1756.4 L2065.6 1754.0 L2065.9 1741.5 L2066.2 1756.2 L2066.6 1741.9 L2066.9 1747.2 L2067.2 1754.7 L2067.6 1743.4 L2067.9 1756.0 L2068.2 1745.8 L2068.5 1732.2 L2068.9 1743.0 L2069.2 1749.5 L2069.5 1754.6 L2069.9 1750.1 L2070.2 1752.4 L2070.5 1728.4 L2070.8 1736.3 L2071.2 1741.6 L2071.5 1737.5 L2071.8 1721.8 L2072.2 1741.0 L2072.5 1740.3 L2072.8 1720.9 L2073.1 1726.6 L2073.5 1740.8 L2073.8 1723.1 L2074.1 1726.4 L2074.5 1725.6 L2074.8 1723.7 L2075.1 1721.2 L2075.4 1711.9 L2075.8 1701.7 L2076.1 1713.1 L2076.4 1696.2 L2076.8 1708.1 L2077.1 1691.9 L2077.4 1675.6 L2077.7 1677.8 L2078.1 1674.0 L2078.4 1652.0 L2078.7 1652.4 L2079.0 1647.0 L2079.4 1637.0 L2079.7 1643.7 L2080.0 1627.4 L2080.4 1603.1 L2080.7 1602.6 L2081.0 1587.5 L2081.3 1597.9 L2081.7 1585.8 L2082.0 1569.0 L2082.3 1561.1 L2082.7 1574.4 L2083.0 1553.6 L2083.3 1550.3 L2083.6 1548.2 L2084.0 1537.8 L2084.3 1544.3 L2084.6 1534.8 L2085.0 1533.5 L2085.3 1543.0 L2085.6 1541.6 L2085.9 1561.8 L2086.3 1547.2 L2086.6 1556.5 L2086.9 1574.9 L2087.3 1582.3 L2087.6 1578.8 L2087.9 1570.8 L2088.2 1593.2 L2088.6 1611.5 L2088.9 1614.0 L2089.2 1636.3 L2089.6 1634.1 L2089.9 1644.0 L2090.2 1645.1 L2090.5 1644.5 L2090.9 1664.0 L2091.2 1652.8 L2091.5 1676.5 L2091.9 1680.4 L2092.2 1690.5 L2092.5 1703.8 L2092.8 1706.4 L2093.2 1709.6 L2093.5 1697.2 L2093.8 1716.4 L2094.2 1732.0 L2094.5 1720.0 L2094.8 1723.2 L2095.1 1739.1 L2095.5 1728.2 L2095.8 1732.7 L2096.1 1748.8 L2096.5 1730.2 L2096.8 1753.6 L2097.1 1750.3 L2097.4 1737.7 L2097.8 1759.8 L2098.1 1770.6 L2098.4 1753.3 L2098.8 1746.8 L2099.1 1748.9 L2099.4 1754.0 L2099.7 1763.2 L2100.1 1740.6 L2100.4 1742.7 L2100.7 1750.3 L2101.1 1747.8 L2101.4 1770.1 L2101.7 1746.6 L2102.0 1740.4 L2102.4 1745.9 L2102.7 1745.3 L2103.0 1752.0 L2103.4 1752.8 L2103.7 1775.9 L2104.0 1760.2 L2104.3 1753.3 L2104.7 1764.9 L2105.0 1770.6 L2105.3 1760.3 L2105.7 1765.4 L2106.0 1745.4 L2106.3 1761.1 L2106.6 1759.1 L2107.0 1745.2 L2107.3 1768.8 L2107.6 1756.2 L2108.0 1744.1 L2108.3 1768.0 L2108.6 1763.9 L2108.9 1750.8 L2109.3 1752.1 L2109.6 1766.6 L2109.9 1766.6 L2110.3 1767.3 L2110.6 1769.9 L2110.9 1755.7 L2111.2 1765.8 L2111.6 1770.3 L2111.9 1770.7 L2112.2 1755.5 L2112.6 1791.0 L2112.9 1768.3 L2113.2 1762.2 L2113.5 1771.4 L2113.9 1774.4 L2114.2 1760.2 L2114.5 1763.0 L2114.9 1746.6 L2115.2 1771.7 L2115.5 1761.5 L2115.8 1775.5 L2116.2 1753.8 L2116.5 1755.8 L2116.8 1759.4 L2117.2 1755.3 L2117.5 1758.4 L2117.8 1760.8 L2118.1 1765.0 L2118.5 1756.0 L2118.8 1759.4 L2119.1 1767.8 L2119.5 1765.0 L2119.8 1762.5 L2120.1 1749.6 L2120.4 1763.5 L2120.8 1765.2 L2121.1 1776.0 L2121.4 1756.1 L2121.8 1761.2 L2122.1 1761.8 L2122.4 1761.8 L2122.7 1758.3 L2123.1 1779.3 L2123.4 1772.3 L2123.7 1766.3 L2124.1 1756.1 L2124.4 1759.5 L2124.7 1755.3 L2125.0 1760.7 L2125.4 1758.3 L2125.7 1771.0 L2126.0 1769.6 L2126.4 1766.8 L2126.7 1767.5 L2127.0 1758.8 L2127.3 1765.3 L2127.7 1765.4 L2128.0 1766.5 L2128.3 1752.6 L2128.7 1770.9 L2129.0 1760.6 L2129.3 1772.1 L2129.6 1764.0 L2130.0 1764.1 L2130.3 1769.7 L2130.6 1777.6 L2131.0 1764.9 L2131.3 1766.4 L2131.6 1770.8 L2131.9 1770.0 L2132.3 1771.7 L2132.6 1746.7 L2132.9 1773.2 L2133.3 1783.8 L2133.6 1784.7 L2133.9 1762.6 L2134.2 1786.3 L2134.6 1764.0 L2134.9 1774.4 L2135.2 1767.6 L2135.6 1769.6 L2135.9 1761.2 L2136.2 1774.3 L2136.5 1770.7 L2136.9 1778.2 L2137.2 1790.2 L2137.5 1757.8 L2137.8 1783.1 L2138.2 1764.6 L2138.5 1760.4 L2138.8 1765.8 L2139.2 1778.1 L2139.5 1753.4 L2139.8 1780.3 L2140.1 1759.3 L2140.5 1756.7 L2140.8 1780.7 L2141.1 1761.3 L2141.5 1775.8 L2141.8 1762.4 L2142.1 1786.0 L2142.4 1749.3 L2142.8 1759.4 L2143.1 1765.3 L2143.4 1769.0 L2143.8 1750.9 L2144.1 1760.1 L2144.4 1760.7 L2144.7 1768.1 L2145.1 1767.0 L2145.4 1764.7 L2145.7 1771.5 L2146.1 1761.0 L2146.4 1745.5 L2146.7 1757.2 L2147.0 1754.0 L2147.4 1757.0 L2147.7 1738.6 L2148.0 1765.6 L2148.4 1778.4 L2148.7 1789.0 L2149.0 1764.7 L2149.3 1756.8 L2149.7 1748.9 L2150.0 1773.1 L2150.3 1764.0 L2150.7 1743.7 L2151.0 1773.6 L2151.3 1767.0 L2151.6 1760.8 L2152.0 1767.6 L2152.3 1757.5 L2152.6 1775.8 L2153.0 1763.7 L2153.3 1762.8 L2153.6 1747.1 L2153.9 1751.4 L2154.3 1750.6 L2154.6 1766.4 L2154.9 1743.6 L2155.3 1757.5 L2155.6 1742.9 L2155.9 1770.9 L2156.2 1766.5 L2156.6 1761.7 L2156.9 1741.2 L2157.2 1765.2 L2157.6 1755.3 L2157.9 1759.1 L2158.2 1745.5 L2158.5 1755.5 L2158.9 1737.8 L2159.2 1762.7 L2159.5 1732.5 L2159.9 1752.8 L2160.2 1764.3 L2160.5 1745.1 L2160.8 1752.6 L2161.2 1759.9 L2161.5 1738.0 L2161.8 1755.0 L2162.2 1761.3 L2162.5 1746.4 L2162.8 1741.4 L2163.1 1741.5 L2163.5 1761.8 L2163.8 1731.9 L2164.1 1744.3 L2164.5 1740.4 L2164.8 1755.9 L2165.1 1752.8 L2165.4 1749.7 L2165.8 1743.7 L2166.1 1722.6 L2166.4 1740.7 L2166.8 1741.1 L2167.1 1728.9 L2167.4 1726.8 L2167.7 1732.9 L2168.1 1745.3 L2168.4 1756.7 L2168.7 1762.7 L2169.1 1745.0 L2169.4 1748.4 L2169.7 1734.2 L2170.0 1723.9 L2170.4 1747.1 L2170.7 1745.5 L2171.0 1743.6 L2171.4 1762.5 L2171.7 1744.7 L2172.0 1736.6 L2172.3 1719.9 L2172.7 1760.1 L2173.0 1739.1 L2173.3 1732.6 L2173.7 1759.7 L2174.0 1751.7 L2174.3 1736.9 L2174.6 1757.3 L2175.0 1755.0 L2175.3 1749.8 L2175.6 1740.7 L2176.0 1749.7 L2176.3 1759.1 L2176.6 1748.6 L2176.9 1765.2 L2177.3 1769.7 L2177.6 1760.4 L2177.9 1759.7 L2178.3 1756.9 L2178.6 1756.6 L2178.9 1764.3 L2179.2 1778.3 L2179.6 1777.7 L2179.9 1763.9 L2180.2 1752.9 L2180.6 1770.0 L2180.9 1766.7 L2181.2 1755.0 L2181.5 1774.0 L2181.9 1754.4 L2182.2 1766.3 L2182.5 1766.8 L2182.9 1755.3 L2183.2 1767.7 L2183.5 1751.7 L2183.8 1772.1 L2184.2 1769.7 L2184.5 1766.0 L2184.8 1753.9 L2185.2 1770.6 L2185.5 1758.2 L2185.8 1756.8 L2186.1 1749.8 L2186.5 1766.4 L2186.8 1756.8 L2187.1 1751.8 L2187.5 1741.1 L2187.8 1760.6 L2188.1 1756.1 L2188.4 1758.8 L2188.8 1793.5 L2189.1 1759.8 L2189.4 1762.4 L2189.8 1772.8 L2190.1 1770.1 L2190.4 1763.5 L2190.7 1760.9 L2191.1 1762.6 L2191.4 1767.1 L2191.7 1761.8 L2192.1 1753.4 L2192.4 1763.9 L2192.7 1750.2 L2193.0 1747.4 L2193.4 1752.6 L2193.7 1767.8 L2194.0 1765.5 L2194.4 1790.2 L2194.7 1767.0 L2195.0 1768.9 L2195.3 1774.3 L2195.7 1789.4 L2196.0 1758.4 L2196.3 1756.3 L2196.6 1769.4 L2197.0 1759.0 L2197.3 1771.2 L2197.6 1788.0 L2198.0 1768.9 L2198.3 1772.9 L2198.6 1771.2 L2198.9 1769.7 L2199.3 1779.6 L2199.6 1784.7 L2199.9 1758.3 L2200.3 1767.3 L2200.6 1764.2 L2200.9 1779.6 L2201.2 1794.5 L2201.6 1783.1 L2201.9 1755.5 L2202.2 1762.5 L2202.6 1787.8 L2202.9 1774.5 L2203.2 1779.2 L2203.5 1766.1 L2203.9 1748.2 L2204.2 1771.6 L2204.5 1761.0 L2204.9 1766.2 L2205.2 1768.8 L2205.5 1773.7 L2205.8 1769.6 L2206.2 1756.8 L2206.5 1757.4 L2206.8 1754.0 L2207.2 1768.2 L2207.5 1766.6 L2207.8 1757.8 L2208.1 1760.2 L2208.5 1766.6 L2208.8 1762.1 L2209.1 1740.5 L2209.5 1757.1 L2209.8 1749.2 L2210.1 1744.6 L2210.4 1754.1 L2210.8 1734.4 L2211.1 1747.9 L2211.4 1741.8 L2211.8 1752.6 L2212.1 1740.6 L2212.4 1746.8 L2212.7 1739.3 L2213.1 1750.2 L2213.4 1749.0 L2213.7 1743.3 L2214.1 1734.4 L2214.4 1753.1 L2214.7 1739.0 L2215.0 1739.7 L2215.4 1728.0 L2215.7 1759.4 L2216.0 1751.7 L2216.4 1729.8 L2216.7 1733.8 L2217.0 1732.1 L2217.3 1736.9 L2217.7 1734.3 L2218.0 1733.5 L2218.3 1729.8 L2218.7 1751.0 L2219.0 1747.2 L2219.3 1729.6 L2219.6 1730.4 L2220.0 1750.6 L2220.3 1725.9 L2220.6 1737.7 L2221.0 1734.9 L2221.3 1746.4 L2221.6 1753.1 L2221.9 1745.3 L2222.3 1746.7 L2222.6 1757.3 L2222.9 1746.2 L2223.3 1747.2 L2223.6 1763.7 L2223.9 1756.0 L2224.2 1749.7 L2224.6 1756.2 L2224.9 1742.3 L2225.2 1737.5 L2225.6 1758.8 L2225.9 1746.6 L2226.2 1744.7 L2226.5 1740.0 L2226.9 1762.8 L2227.2 1757.3 L2227.5 1743.8 L2227.9 1735.8 L2228.2 1743.1 L2228.5 1753.4 L2228.8 1740.0 L2229.2 1750.4 L2229.5 1756.1 L2229.8 1739.8 L2230.2 1731.1 L2230.5 1728.7 L2230.8 1734.3 L2231.1 1741.1 L2231.5 1743.0 L2231.8 1723.6 L2232.1 1736.0 L2232.5 1721.6 L2232.8 1717.5 L2233.1 1723.3 L2233.4 1715.0 L2233.8 1709.7 L2234.1 1698.3 L2234.4 1705.1 L2234.8 1695.2 L2235.1 1686.6 L2235.4 1692.4 L2235.7 1679.8 L2236.1 1673.2 L2236.4 1660.5 L2236.7 1663.4 L2237.1 1647.0 L2237.4 1636.1 L2237.7 1619.5 L2238.0 1621.3 L2238.4 1601.6 L2238.7 1601.2 L2239.0 1590.9 L2239.4 1592.5 L2239.7 1583.3 L2240.0 1568.0 L2240.3 1568.2 L2240.7 1546.2 L2241.0 1550.0 L2241.3 1528.2 L2241.7 1545.7 L2242.0 1534.8 L2242.3 1533.7 L2242.6 1535.4 L2243.0 1534.6 L2243.3 1553.2 L2243.6 1541.9 L2244.0 1539.6 L2244.3 1552.4 L2244.6 1567.0 L2244.9 1567.7 L2245.3 1572.3 L2245.6 1574.3 L2245.9 1593.5 L2246.3 1589.3 L2246.6 1611.5 L2246.9 1607.7 L2247.2 1621.6 L2247.6 1614.5 L2247.9 1635.3 L2248.2 1638.9 L2248.6 1658.9 L2248.9 1679.5 L2249.2 1670.9 L2249.5 1677.4 L2249.9 1690.5 L2250.2 1691.0 L2250.5 1712.3 L2250.9 1704.3 L2251.2 1712.3 L2251.5 1699.4 L2251.8 1715.6 L2252.2 1719.3 L2252.5 1723.4 L2252.8 1744.0 L2253.2 1738.7 L2253.5 1721.3 L2253.8 1729.7 L2254.1 1749.8 L2254.5 1737.1 L2254.8 1744.9 L2255.1 1738.7 L2255.4 1743.3 L2255.8 1745.9 L2256.1 1759.0 L2256.4 1750.7 L2256.8 1756.4 L2257.1 1751.8 L2257.4 1741.6 L2257.7 1746.9 L2258.1 1745.8 L2258.4 1744.0 L2258.7 1762.3 L2259.1 1754.2 L2259.4 1742.4 L2259.7 1740.6 L2260.0 1772.6 L2260.4 1761.8 L2260.7 1748.5 L2261.0 1723.4 L2261.4 1758.5 L2261.7 1753.3 L2262.0 1749.7 L2262.3 1743.4 L2262.7 1764.4 L2263.0 1757.2 L2263.3 1755.6 L2263.7 1757.3 L2264.0 1756.0 L2264.3 1746.0 L2264.6 1738.9 L2265.0 1745.0 L2265.3 1748.4 L2265.6 1751.3 L2266.0 1757.4 L2266.3 1763.0 L2266.6 1763.0 L2266.9 1741.4 L2267.3 1740.9 L2267.6 1747.6 L2267.9 1750.3 L2268.3 1753.2 L2268.6 1749.7 L2268.9 1758.6 L2269.2 1763.9 L2269.6 1768.9 L2269.9 1755.1 L2270.2 1765.9 L2270.6 1775.1 L2270.9 1761.7 L2271.2 1766.2 L2271.5 1751.0 L2271.9 1745.0 L2272.2 1753.4 L2272.5 1750.9 L2272.9 1740.7 L2273.2 1771.8 L2273.5 1771.5 L2273.8 1759.6 L2274.2 1763.6 L2274.5 1757.6 L2274.8 1749.1 L2275.2 1760.3 L2275.5 1776.9 L2275.8 1733.1 L2276.1 1770.2 L2276.5 1772.4 L2276.8 1749.5 L2277.1 1776.3 L2277.5 1771.3 L2277.8 1759.7 L2278.1 1767.7 L2278.4 1758.4 L2278.8 1749.0 L2279.1 1758.9 L2279.4 1763.6 L2279.8 1754.5 L2280.1 1756.7 L2280.4 1731.7 L2280.7 1768.9 L2281.1 1747.1 L2281.4 1762.2 L2281.7 1755.6 L2282.1 1779.2 L2282.4 1770.4 L2282.7 1771.9 L2283.0 1776.6 L2283.4 1766.2 L2283.7 1745.3 L2284.0 1776.3 L2284.4 1746.9 L2284.7 1762.1 L2285.0 1760.7 L2285.3 1774.6 L2285.7 1759.1 L2286.0 1747.1 L2286.3 1766.9 L2286.7 1760.6 L2287.0 1761.6 L2287.3 1765.7 L2287.6 1771.5 L2288.0 1750.5 L2288.3 1754.3 L2288.6 1768.8 L2289.0 1750.6 L2289.3 1770.8 L2289.6 1761.7 L2289.9 1778.1 L2290.3 1781.4 L2290.6 1767.7 L2290.9 1745.8 L2291.3 1761.4 L2291.6 1751.9 L2291.9 1745.5 L2292.2 1758.9 L2292.6 1770.2 L2292.9 1761.1 L2293.2 1767.0 L2293.6 1756.8 L2293.9 1767.3 L2294.2 1748.3 L2294.5 1750.7 L2294.9 1759.0 L2295.2 1760.0 L2295.5 1756.2 L2295.9 1761.1 L2296.2 1758.5 L2296.5 1750.8 L2296.8 1766.5 L2297.2 1763.6 L2297.5 1761.6 L2297.8 1780.9 L2298.2 1746.2 L2298.5 1761.9 L2298.8 1744.3 L2299.1 1777.9 L2299.5 1778.6 L2299.8 1761.6 L2300.1 1757.2 L2300.5 1748.2 L2300.8 1749.6 L2301.1 1744.1 L2301.4 1756.2 L2301.8 1732.3 L2302.1 1748.4 L2302.4 1773.1 L2302.8 1763.9 L2303.1 1763.8 L2303.4 1756.7 L2303.7 1762.1 L2304.1 1752.6 L2304.4 1742.8 L2304.7 1769.3 L2305.1 1760.5 L2305.4 1736.9 L2305.7 1736.9 L2306.0 1735.5 L2306.4 1750.6 L2306.7 1740.7 L2307.0 1748.5 L2307.4 1768.3 L2307.7 1758.5 L2308.0 1745.0 L2308.3 1750.6 L2308.7 1760.1 L2309.0 1760.8 L2309.3 1746.8 L2309.7 1748.3 L2310.0 1755.7 L2310.3 1735.4 L2310.6 1754.7 L2311.0 1754.3 L2311.3 1749.3 L2311.6 1750.2 L2312.0 1750.5 L2312.3 1768.3 L2312.6 1725.9 L2312.9 1742.9 L2313.3 1745.0 L2313.6 1754.1 L2313.9 1749.6 L2314.3 1743.8 L2314.6 1754.2 L2314.9 1740.2 L2315.2 1741.6 L2315.6 1750.9 L2315.9 1754.9 L2316.2 1740.7 L2316.5 1725.7 L2316.9 1745.5 L2317.2 1738.4 L2317.5 1749.1 L2317.9 1755.6 L2318.2 1736.9 L2318.5 1750.9 L2318.8 1727.4 L2319.2 1754.4 L2319.5 1763.0 L2319.8 1745.7 L2320.2 1741.0 L2320.5 1741.0 L2320.8 1748.4 L2321.1 1761.2 L2321.5 1739.1 L2321.8 1759.7 L2322.1 1728.9 L2322.5 1756.0 L2322.8 1752.9 L2323.1 1753.9 L2323.4 1738.2 L2323.8 1733.3 L2324.1 1747.7 L2324.4 1747.8 L2324.8 1762.0 L2325.1 1743.8 L2325.4 1775.8 L2325.7 1743.0 L2326.1 1749.8 L2326.4 1762.5 L2326.7 1746.9 L2327.1 1747.6 L2327.4 1737.1 L2327.7 1739.5 L2328.0 1754.0 L2328.4 1751.6 L2328.7 1768.2 L2329.0 1748.6 L2329.4 1768.3 L2329.7 1762.3 L2330.0 1770.7 L2330.3 1762.5 L2330.7 1752.4 L2331.0 1765.6 L2331.3 1757.1 L2331.7 1769.6 L2332.0 1753.3 L2332.3 1749.1 L2332.6 1757.1 L2333.0 1758.3 L2333.3 1766.7 L2333.6 1751.3 L2334.0 1746.4 L2334.3 1759.8 L2334.6 1757.9 L2334.9 1762.1 L2335.3 1769.7 L2335.6 1758.5 L2335.9 1772.3 L2336.3 1746.1 L2336.6 1740.0 L2336.9 1748.0 L2337.2 1753.4 L2337.6 1757.6 L2337.9 1755.3 L2338.2 1767.9 L2338.6 1753.5 L2338.9 1755.0 L2339.2 1749.4 L2339.5 1738.5 L2339.9 1752.3 L2340.2 1739.4 L2340.5 1746.6 L2340.9 1761.0 L2341.2 1747.8 L2341.5 1753.4 L2341.8 1748.6 L2342.2 1748.4 L2342.5 1749.9 L2342.8 1755.0 L2343.2 1747.6 L2343.5 1755.8 L2343.8 1759.9 L2344.1 1753.3 L2344.5 1767.7 L2344.8 1747.8 L2345.1 1745.6 L2345.5 1754.9 L2345.8 1740.5 L2346.1 1745.4 L2346.4 1751.6 L2346.8 1748.0 L2347.1 1745.4 L2347.4 1758.2 L2347.8 1749.5 L2348.1 1747.7 L2348.4 1749.4 L2348.7 1758.3 L2349.1 1742.8 L2349.4 1775.0 L2349.7 1758.8 L2350.1 1755.3 L2350.4 1740.8 L2350.7 1770.1 L2351.0 1766.8 L2351.4 1767.2 L2351.7 1759.2 L2352.0 1764.5 L2352.4 1767.5 L2352.7 1749.2 L2353.0 1752.9 L2353.3 1758.4 L2353.7 1764.6 L2354.0 1761.1 L2354.3 1759.7 L2354.7 1738.4 L2355.0 1768.8 L2355.3 1763.4 L2355.6 1763.6 L2356.0 1760.5 L2356.3 1752.0 L2356.6 1772.0 L2357.0 1768.9 L2357.3 1748.4 L2357.6 1756.7 L2357.9 1744.9 L2358.3 1765.9 L2358.6 1773.6 L2358.9 1765.0 L2359.3 1766.1 L2359.6 1753.3 L2359.9 1767.3 L2360.2 1758.7 L2360.6 1752.5 L2360.9 1758.3 L2361.2 1762.7 L2361.6 1762.5 L2361.9 1757.4 L2362.2 1753.3 L2362.5 1769.3 L2362.9 1772.9 L2363.2 1745.5 L2363.5 1774.6 L2363.9 1763.4 L2364.2 1769.0 L2364.5 1748.7 L2364.8 1758.6 L2365.2 1748.4 L2365.5 1748.8 L2365.8 1767.6 L2366.2 1759.3 L2366.5 1776.6 L2366.8 1766.3 L2367.1 1754.1 L2367.5 1757.0 L2367.8 1757.4 L2368.1 1760.6 L2368.5 1765.3 L2368.8 1754.6 L2369.1 1759.2 L2369.4 1760.8 L2369.8 1750.8 L2370.1 1764.4 L2370.4 1742.5 L2370.8 1762.1 L2371.1 1743.9 L2371.4 1758.0 L2371.7 1764.1 L2372.1 1761.4 L2372.4 1752.5 L2372.7 1754.4 L2373.1 1752.9 L2373.4 1756.6 L2373.7 1761.1 L2374.0 1764.7 L2374.4 1765.8 L2374.7 1761.4 L2375.0 1777.3 L2375.3 1756.9 L2375.7 1758.6 L2376.0 1760.5 L2376.3 1767.7 L2376.7 1759.9 L2377.0 1753.5 L2377.3 1770.2 L2377.6 1770.2 L2378.0 1763.9 L2378.3 1759.1 L2378.6 1772.7 L2379.0 1755.5 L2379.3 1781.4 L2379.6 1747.2 L2379.9 1776.9 L2380.3 1774.5 L2380.6 1770.6 L2380.9 1778.6 L2381.3 1768.2 L2381.6 1773.8 L2381.9 1753.3 L2382.2 1768.0 L2382.6 1760.4 L2382.9 1768.6 L2383.2 1759.2 L2383.6 1766.9 L2383.9 1785.1 L2384.2 1776.2 L2384.5 1769.6 L2384.9 1770.0 L2385.2 1794.6 L2385.5 1784.8 L2385.9 1792.1 L2386.2 1792.1 L2386.5 1777.2 L2386.8 1778.0 L2387.2 1801.4 L2387.5 1792.2 L2387.8 1771.1 L2388.2 1769.9 L2388.5 1773.7 L2388.8 1793.0 L2389.1 1780.8 L2389.5 1772.3 L2389.8 1783.4 L2390.1 1787.0 L2390.5 1789.3 L2390.8 1780.1 L2391.1 1774.4 L2391.4 1766.1 L2391.8 1784.0 L2392.1 1782.0 L2392.4 1797.1 L2392.8 1771.6 L2393.1 1788.3 L2393.4 1768.3 L2393.7 1788.6 L2394.1 1781.9 L2394.4 1774.4 L2394.7 1777.9 L2395.1 1802.1 L2395.4 1781.6 L2395.7 1777.4 L2396.0 1755.0 L2396.4 1764.9 L2396.7 1762.2 L2397.0 1770.3 L2397.4 1761.9 L2397.7 1774.9 L2398.0 1788.2 L2398.3 1782.0 L2398.7 1770.8 L2399.0 1780.3 L2399.3 1775.2 L2399.7 1776.1 L2400.0 1760.5 L2400.3 1799.4 L2400.6 1786.4 L2401.0 1772.5 L2401.3 1776.3 L2401.6 1754.2 L2402.0 1764.7 L2402.3 1771.5 L2402.6 1779.2 L2402.9 1772.4 L2403.3 1775.2 L2403.6 1788.4" fill="none" stroke="#555555" stroke-width="2.8" stroke-linejoin="round" stroke-linecap="round"/>
</g>
<text transform="translate(1389.14 1109.40) scale(1.0036 1)" font-family="'Liberation Sans', Arial, Helvetica, sans-serif" font-size="51" fill="#000" stroke="#fefefe" stroke-width="0.9" vector-effect="non-scaling-stroke" stroke-linejoin="round">(d)</text>
<text transform="translate(1853.24 1105.00) scale(0.9874 1)" font-family="'Liberation Sans', Arial, Helvetica, sans-serif" font-size="39.5" fill="#000" stroke="#fefefe" stroke-width="0.35" vector-effect="non-scaling-stroke" stroke-linejoin="round">ITO</text>
<text transform="translate(1739.24 1361.00) scale(0.9874 1)" font-family="'Liberation Sans', Arial, Helvetica, sans-serif" font-size="39.5" fill="#000" stroke="#fefefe" stroke-width="0.35" vector-effect="non-scaling-stroke" stroke-linejoin="round">ITO</text>
<text transform="translate(1850.88 1528.00) scale(1.0759 1)" font-family="'Liberation Sans', Arial, Helvetica, sans-serif" font-size="37" fill="#000" stroke="#fefefe" stroke-width="0.35" vector-effect="non-scaling-stroke" stroke-linejoin="round">(211)</text>
<text transform="translate(1750.17 1565.40) scale(1.0336 1)" font-family="'Liberation Sans', Arial, Helvetica, sans-serif" font-size="37" fill="#000" stroke="#fefefe" stroke-width="0.35" vector-effect="non-scaling-stroke" stroke-linejoin="round">(103)</text>
<text transform="translate(1510.76 1642.70) scale(1.0398 1)" font-family="'Liberation Sans', Arial, Helvetica, sans-serif" font-size="37" fill="#000" stroke="#fefefe" stroke-width="0.35" vector-effect="non-scaling-stroke" stroke-linejoin="round">(101)</text>
<text transform="translate(1591.77 1622.60) scale(0.9791 1)" font-family="'Liberation Sans', Arial, Helvetica, sans-serif" font-size="39.5" fill="#000" stroke="#fefefe" stroke-width="0.35" vector-effect="non-scaling-stroke" stroke-linejoin="round">ITO</text>
<text transform="translate(1657.37 1660.00) scale(1.1671 1)" font-family="'Liberation Sans', Arial, Helvetica, sans-serif" font-size="37" fill="#000" stroke="#fefefe" stroke-width="0.35" vector-effect="non-scaling-stroke" stroke-linejoin="round">(112)</text>
<text transform="translate(2066.18 1528.40) scale(0.9774 1)" font-family="'Liberation Sans', Arial, Helvetica, sans-serif" font-size="39.5" fill="#000" stroke="#fefefe" stroke-width="0.35" vector-effect="non-scaling-stroke" stroke-linejoin="round">ITO</text>
<text transform="translate(2221.96 1521.20) scale(0.9841 1)" font-family="'Liberation Sans', Arial, Helvetica, sans-serif" font-size="39.5" fill="#000" stroke="#fefefe" stroke-width="0.35" vector-effect="non-scaling-stroke" stroke-linejoin="round">ITO</text>
<text transform="translate(1961.56 1693.10) scale(1.0385 1)" font-family="'Liberation Sans', Arial, Helvetica, sans-serif" font-size="37" fill="#000" stroke="#fefefe" stroke-width="0.35" vector-effect="non-scaling-stroke" stroke-linejoin="round">(220)</text>
<text transform="translate(2138.09 1706.10) scale(1.0287 1)" font-family="'Liberation Sans', Arial, Helvetica, sans-serif" font-size="37" fill="#000" stroke="#fefefe" stroke-width="0.35" vector-effect="non-scaling-stroke" stroke-linejoin="round">(321)</text>
<text transform="translate(2259.69 1710.40) scale(1.0275 1)" font-family="'Liberation Sans', Arial, Helvetica, sans-serif" font-size="37" fill="#000" stroke="#fefefe" stroke-width="0.35" vector-effect="non-scaling-stroke" stroke-linejoin="round">(224)</text>
<text transform="translate(1399.17 1935.20) scale(1.0100 1)" font-family="'Liberation Sans', Arial, Helvetica, sans-serif" font-size="40" fill="#000" stroke="#fefefe" stroke-width="0.35" vector-effect="non-scaling-stroke" stroke-linejoin="round">10</text>
<text transform="translate(1562.89 1935.20) scale(1.0537 1)" font-family="'Liberation Sans', Arial, Helvetica, sans-serif" font-size="40" fill="#000" stroke="#fefefe" stroke-width="0.35" vector-effect="non-scaling-stroke" stroke-linejoin="round">20</text>
<text transform="translate(1726.74 1935.20) scale(1.0410 1)" font-family="'Liberation Sans', Arial, Helvetica, sans-serif" font-size="40" fill="#000" stroke="#fefefe" stroke-width="0.35" vector-effect="non-scaling-stroke" stroke-linejoin="round">30</text>
<text transform="translate(1890.26 1935.20) scale(1.0429 1)" font-family="'Liberation Sans', Arial, Helvetica, sans-serif" font-size="40" fill="#000" stroke="#fefefe" stroke-width="0.35" vector-effect="non-scaling-stroke" stroke-linejoin="round">40</text>
<text transform="translate(2055.07 1935.20) scale(1.0473 1)" font-family="'Liberation Sans', Arial, Helvetica, sans-serif" font-size="40" fill="#000" stroke="#fefefe" stroke-width="0.35" vector-effect="non-scaling-stroke" stroke-linejoin="round">50</text>
<text transform="translate(2217.29 1935.20) scale(1.0537 1)" font-family="'Liberation Sans', Arial, Helvetica, sans-serif" font-size="40" fill="#000" stroke="#fefefe" stroke-width="0.35" vector-effect="non-scaling-stroke" stroke-linejoin="round">60</text>
<text transform="translate(2381.72 1935.20) scale(1.0415 1)" font-family="'Liberation Sans', Arial, Helvetica, sans-serif" font-size="40" fill="#000" stroke="#fefefe" stroke-width="0.35" vector-effect="non-scaling-stroke" stroke-linejoin="round">70</text>
<text transform="translate(1834.25 1976.00) scale(1.0265 1)" font-family="'Liberation Sans', Arial, Helvetica, sans-serif" font-size="40" fill="#000" stroke="#fefefe" stroke-width="0.35" vector-effect="non-scaling-stroke" stroke-linejoin="round">2<tspan font-style="italic">θ</tspan></text>
<text transform="translate(1295.50 1580.74) rotate(-90) scale(0.9970 1)" font-family="'Liberation Sans', Arial, Helvetica, sans-serif" font-size="40" fill="#000" stroke="#fefefe" stroke-width="0.35" vector-effect="non-scaling-stroke" stroke-linejoin="round">Intensity (a.u)</text>
</svg>
</body></html>
